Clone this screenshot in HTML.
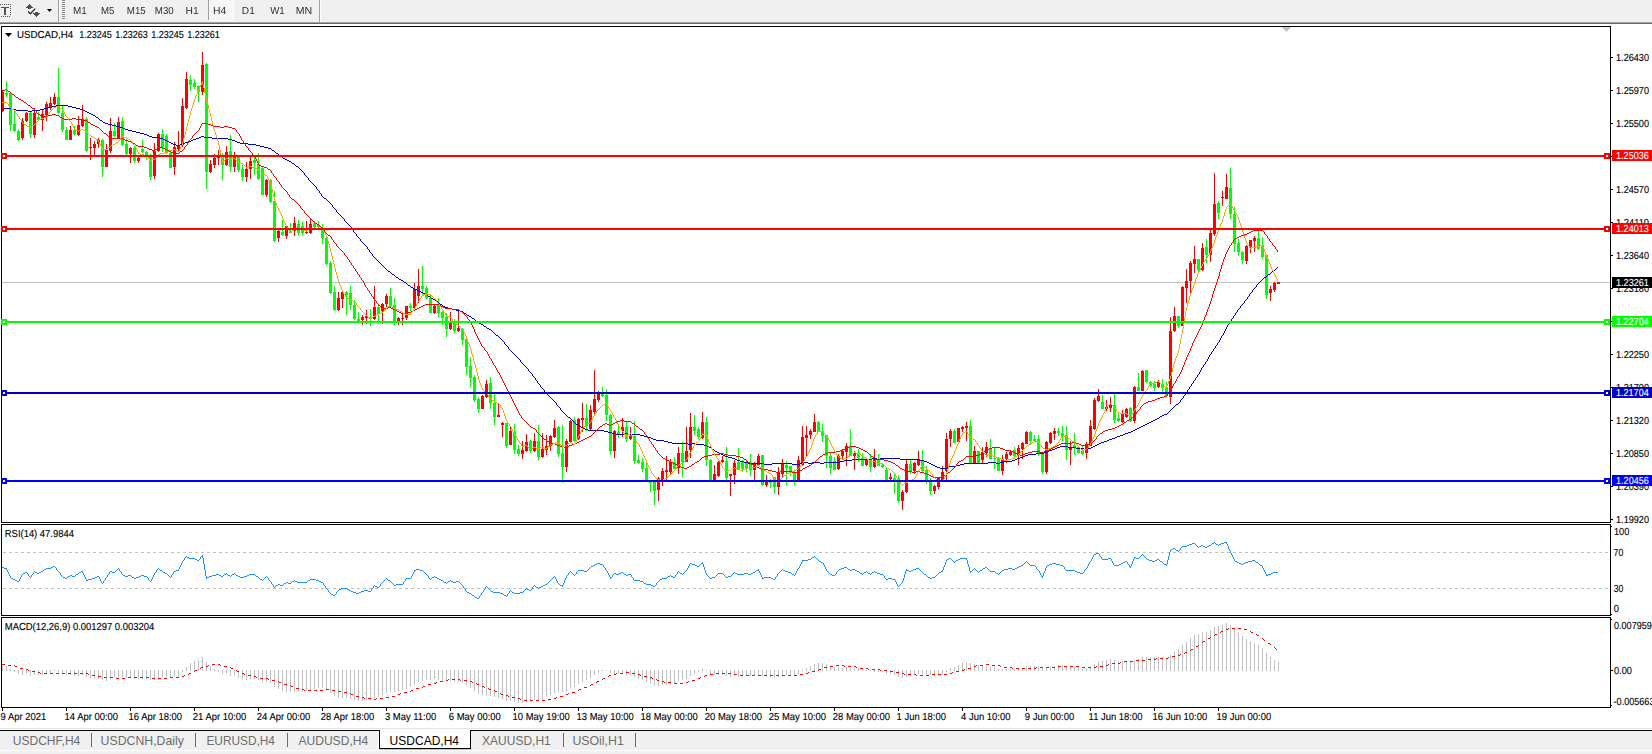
<!DOCTYPE html>
<html><head><meta charset="utf-8"><title>USDCAD,H4</title>
<style>
html,body{margin:0;padding:0;width:1652px;height:754px;overflow:hidden;background:#fff}
svg{position:absolute;left:0;top:0;display:block}
text{font-family:"Liberation Sans", "DejaVu Sans", sans-serif;white-space:pre}
</style></head><body>
<svg width="1652" height="754" viewBox="0 0 1652 754" shape-rendering="crispEdges">
<rect x="0" y="0" width="1652" height="754" fill="#fff"/>
<rect x="0" y="0" width="1652" height="22" fill="#f0f0f0"/><rect x="0" y="22" width="1652" height="1" fill="#a3a3a3"/><rect x="0" y="23" width="1652" height="1" fill="#6a6a6a"/><rect x="0" y="4" width="1" height="1" fill="#505050"/><rect x="2" y="4" width="1" height="1" fill="#505050"/><rect x="4" y="4" width="1" height="1" fill="#505050"/><rect x="6" y="4" width="1" height="1" fill="#505050"/><rect x="8" y="4" width="1" height="1" fill="#505050"/><rect x="10" y="4" width="1" height="1" fill="#505050"/><rect x="10" y="4" width="1" height="1" fill="#505050"/><rect x="10" y="6" width="1" height="1" fill="#505050"/><rect x="10" y="8" width="1" height="1" fill="#505050"/><rect x="10" y="10" width="1" height="1" fill="#505050"/><rect x="10" y="12" width="1" height="1" fill="#505050"/><rect x="10" y="14" width="1" height="1" fill="#505050"/><rect x="1" y="16" width="1" height="1" fill="#505050"/><rect x="3" y="16" width="1" height="1" fill="#505050"/><rect x="5" y="16" width="1" height="1" fill="#505050"/><rect x="7" y="16" width="1" height="1" fill="#505050"/><rect x="9" y="16" width="1" height="1" fill="#505050"/><rect x="1" y="7" width="8" height="1" fill="#555"/><rect x="4" y="7" width="2" height="8" fill="#555"/><path d="M26,8 L29.5,4 L33,8 Z" fill="#505050"/><rect x="28" y="7" width="3" height="2" fill="#505050"/><path d="M33,13 L40,13 L36.5,17 Z" fill="#505050"/><rect x="35" y="12" width="3" height="2" fill="#505050"/><path d="M28,11.6 L30.4,13.8 L35.2,8.6" fill="none" stroke="#2a2a2a" stroke-width="1.3" shape-rendering="auto"/><path d="M47,9 L52,9 L49.5,12 Z" fill="#000" shape-rendering="auto"/><rect x="58" y="0" width="1" height="22" fill="#a0a0a0"/><rect x="59" y="0" width="1" height="22" fill="#fdfdfd"/><rect x="62" y="0" width="3" height="1" fill="#8c8c8c"/><rect x="62" y="2" width="3" height="1" fill="#8c8c8c"/><rect x="62" y="4" width="3" height="1" fill="#8c8c8c"/><rect x="62" y="6" width="3" height="1" fill="#8c8c8c"/><rect x="62" y="8" width="3" height="1" fill="#8c8c8c"/><rect x="62" y="10" width="3" height="1" fill="#8c8c8c"/><rect x="62" y="12" width="3" height="1" fill="#8c8c8c"/><rect x="62" y="14" width="3" height="1" fill="#8c8c8c"/><rect x="62" y="16" width="3" height="1" fill="#8c8c8c"/><rect x="62" y="18" width="3" height="1" fill="#8c8c8c"/><defs><pattern id="chk" width="2" height="2" patternUnits="userSpaceOnUse"><rect width="2" height="2" fill="#f0f0f0"/><rect width="1" height="1" fill="#fbfbfb"/><rect x="1" y="1" width="1" height="1" fill="#fbfbfb"/></pattern></defs><rect x="209" y="0" width="24" height="20" fill="url(#chk)"/><rect x="233" y="0" width="1" height="21" fill="#fdfdfd"/><rect x="208" y="20" width="26" height="1" fill="#fdfdfd"/><rect x="208" y="0" width="1" height="20" fill="#a0a0a0"/><rect x="319" y="0" width="1" height="22" fill="#a0a0a0"/><rect x="320" y="0" width="1" height="22" fill="#fdfdfd"/><defs><filter id="gs" x="0" y="0" width="1" height="1"><feOffset dx="0" dy="0"/></filter></defs><g filter="url(#gs)"><text transform="translate(72.95,14) scale(0.9725,1.0)" font-size="10.2" fill="#303030" text-rendering="geometricPrecision">M1</text><text transform="translate(100.97,14) scale(0.9476,1.0)" font-size="10.2" fill="#303030" text-rendering="geometricPrecision">M5</text><text transform="translate(126.87,14) scale(0.9514,1.0)" font-size="10.2" fill="#303030" text-rendering="geometricPrecision">M15</text><text transform="translate(154.76,14) scale(0.9568,1.0)" font-size="10.2" fill="#303030" text-rendering="geometricPrecision">M30</text><text transform="translate(185.62,14) scale(1.0065,1.0)" font-size="10.2" fill="#303030" text-rendering="geometricPrecision">H1</text><text transform="translate(212.91,14) scale(1.0189,1.0)" font-size="10.2" fill="#303030" text-rendering="geometricPrecision">H4</text><text transform="translate(241.83,14) scale(0.9978,1.0)" font-size="10.2" fill="#303030" text-rendering="geometricPrecision">D1</text><text transform="translate(270.28,14) scale(0.9436,1.0)" font-size="10.2" fill="#303030" text-rendering="geometricPrecision">W1</text><text transform="translate(295.79,14) scale(1.0407,1.0)" font-size="10.2" fill="#303030" text-rendering="geometricPrecision">MN</text></g><rect x="1" y="26" width="1610" height="1" fill="#000"/><rect x="1" y="522" width="1610" height="1" fill="#000"/><rect x="1" y="26" width="1" height="497" fill="#000"/><rect x="1610" y="26" width="1" height="497" fill="#000"/><rect x="1" y="524" width="1610" height="1" fill="#000"/><rect x="1" y="615" width="1610" height="1" fill="#000"/><rect x="1" y="524" width="1" height="92" fill="#000"/><rect x="1610" y="524" width="1" height="92" fill="#000"/><rect x="1" y="617" width="1610" height="1" fill="#000"/><rect x="1" y="707" width="1610" height="1" fill="#000"/><rect x="1" y="617" width="1" height="91" fill="#000"/><rect x="1610" y="617" width="1" height="91" fill="#000"/><path d="M1282,27 L1291,27 L1286.5,32 Z" fill="#c0c0c0" shape-rendering="auto"/><rect x="1611" y="57" width="2" height="1" fill="#000"/><text transform="translate(1616.03,61) scale(0.8954,1.0)" font-size="10.2" fill="#000" stroke="#000" stroke-width="0.12" text-rendering="geometricPrecision">1.26430</text><rect x="1611" y="90" width="2" height="1" fill="#000"/><text transform="translate(1616.03,94) scale(0.8954,1.0)" font-size="10.2" fill="#000" stroke="#000" stroke-width="0.12" text-rendering="geometricPrecision">1.25970</text><rect x="1611" y="123" width="2" height="1" fill="#000"/><text transform="translate(1616.03,127) scale(0.8954,1.0)" font-size="10.2" fill="#000" stroke="#000" stroke-width="0.12" text-rendering="geometricPrecision">1.25500</text><rect x="1611" y="156" width="2" height="1" fill="#000"/><text transform="translate(1616.03,160) scale(0.8954,1.0)" font-size="10.2" fill="#000" stroke="#000" stroke-width="0.12" text-rendering="geometricPrecision">1.25040</text><rect x="1611" y="189" width="2" height="1" fill="#000"/><text transform="translate(1616.03,193) scale(0.8954,1.0)" font-size="10.2" fill="#000" stroke="#000" stroke-width="0.12" text-rendering="geometricPrecision">1.24570</text><rect x="1611" y="222" width="2" height="1" fill="#000"/><text transform="translate(1616.01,226) scale(0.9147,1.0)" font-size="10.2" fill="#000" stroke="#000" stroke-width="0.12" text-rendering="geometricPrecision">1.24110</text><rect x="1611" y="255" width="2" height="1" fill="#000"/><text transform="translate(1616.03,259) scale(0.8954,1.0)" font-size="10.2" fill="#000" stroke="#000" stroke-width="0.12" text-rendering="geometricPrecision">1.23640</text><rect x="1611" y="288" width="2" height="1" fill="#000"/><text transform="translate(1616.03,292) scale(0.8954,1.0)" font-size="10.2" fill="#000" stroke="#000" stroke-width="0.12" text-rendering="geometricPrecision">1.23180</text><rect x="1611" y="321" width="2" height="1" fill="#000"/><text transform="translate(1616.03,325) scale(0.8954,1.0)" font-size="10.2" fill="#000" stroke="#000" stroke-width="0.12" text-rendering="geometricPrecision">1.22720</text><rect x="1611" y="354" width="2" height="1" fill="#000"/><text transform="translate(1616.03,358) scale(0.8954,1.0)" font-size="10.2" fill="#000" stroke="#000" stroke-width="0.12" text-rendering="geometricPrecision">1.22250</text><rect x="1611" y="387" width="2" height="1" fill="#000"/><text transform="translate(1616.03,391) scale(0.8954,1.0)" font-size="10.2" fill="#000" stroke="#000" stroke-width="0.12" text-rendering="geometricPrecision">1.21790</text><rect x="1611" y="420" width="2" height="1" fill="#000"/><text transform="translate(1616.03,424) scale(0.8954,1.0)" font-size="10.2" fill="#000" stroke="#000" stroke-width="0.12" text-rendering="geometricPrecision">1.21320</text><rect x="1611" y="453" width="2" height="1" fill="#000"/><text transform="translate(1616.03,457) scale(0.8954,1.0)" font-size="10.2" fill="#000" stroke="#000" stroke-width="0.12" text-rendering="geometricPrecision">1.20850</text><rect x="1611" y="486" width="2" height="1" fill="#000"/><text transform="translate(1616.03,490) scale(0.8954,1.0)" font-size="10.2" fill="#000" stroke="#000" stroke-width="0.12" text-rendering="geometricPrecision">1.20390</text><rect x="1611" y="519" width="2" height="1" fill="#000"/><text transform="translate(1616.03,523) scale(0.8954,1.0)" font-size="10.2" fill="#000" stroke="#000" stroke-width="0.12" text-rendering="geometricPrecision">1.19920</text>
<g id="rsi"><text transform="translate(4.79,537) scale(0.9250,1.0)" font-size="10.2" fill="#000" stroke="#000" stroke-width="0.12" text-rendering="geometricPrecision">RSI(14) 47.9844</text><line x1="3" y1="552.5" x2="1608" y2="552.5" stroke="#c0c0c0" stroke-width="1" stroke-dasharray="3,3"/><line x1="3" y1="588.5" x2="1608" y2="588.5" stroke="#c0c0c0" stroke-width="1" stroke-dasharray="3,3"/><path fill="#1e90ff" d="M2 567h1v1h-1zM3 567h1v1h-1zM4 568h1v1h-1zM5 568h1v1h-1zM6 568h1v2h-1zM7 570h1v2h-1zM8 572h1v2h-1zM9 574h1v2h-1zM10 576h1v2h-1zM11 578h1v1h-1zM12 578h1v1h-1zM13 579h1v1h-1zM14 579h1v1h-1zM15 580h1v1h-1zM16 580h1v1h-1zM17 581h1v1h-1zM18 581h1v1h-1zM19 579h1v2h-1zM20 577h1v2h-1zM21 575h1v2h-1zM22 574h1v1h-1zM23 573h1v1h-1zM24 573h1v1h-1zM25 572h1v1h-1zM26 572h1v1h-1zM27 573h1v1h-1zM28 574h1v2h-1zM29 576h1v1h-1zM30 577h1v1h-1zM31 575h1v2h-1zM32 574h1v1h-1zM33 572h1v2h-1zM34 571h1v1h-1zM35 572h1v1h-1zM36 572h1v1h-1zM37 573h1v1h-1zM38 573h1v1h-1zM39 572h1v1h-1zM40 572h1v1h-1zM41 571h1v1h-1zM42 571h1v1h-1zM43 570h1v1h-1zM44 569h1v1h-1zM45 569h1v1h-1zM46 568h1v1h-1zM47 568h1v1h-1zM48 568h1v1h-1zM49 568h1v1h-1zM50 568h1v1h-1zM51 567h1v1h-1zM52 567h1v1h-1zM53 566h1v1h-1zM54 566h1v1h-1zM55 567h1v1h-1zM56 568h1v2h-1zM57 570h1v1h-1zM58 571h1v1h-1zM59 572h1v1h-1zM60 573h1v2h-1zM61 575h1v1h-1zM62 576h1v1h-1zM63 577h1v1h-1zM64 577h1v1h-1zM65 578h1v1h-1zM66 578h1v1h-1zM67 577h1v1h-1zM68 576h1v1h-1zM69 576h1v1h-1zM70 575h1v1h-1zM71 575h1v1h-1zM72 576h1v1h-1zM73 576h1v1h-1zM74 576h1v1h-1zM75 575h1v1h-1zM76 574h1v1h-1zM77 574h1v1h-1zM78 573h1v1h-1zM79 572h1v1h-1zM80 572h1v1h-1zM81 571h1v1h-1zM82 571h1v2h-1zM83 573h1v2h-1zM84 575h1v2h-1zM85 577h1v2h-1zM86 579h1v2h-1zM87 580h1v1h-1zM88 579h1v1h-1zM89 579h1v1h-1zM90 579h1v1h-1zM91 579h1v1h-1zM92 578h1v1h-1zM93 578h1v1h-1zM94 578h1v1h-1zM95 577h1v1h-1zM96 577h1v1h-1zM97 576h1v1h-1zM98 576h1v1h-1zM99 577h1v2h-1zM100 579h1v2h-1zM101 581h1v2h-1zM102 583h1v1h-1zM103 581h1v2h-1zM104 580h1v1h-1zM105 578h1v2h-1zM106 577h1v1h-1zM107 575h1v2h-1zM108 574h1v1h-1zM109 572h1v2h-1zM110 571h1v1h-1zM111 571h1v1h-1zM112 572h1v1h-1zM113 572h1v1h-1zM114 572h1v1h-1zM115 571h1v1h-1zM116 570h1v1h-1zM117 569h1v1h-1zM118 568h1v1h-1zM119 569h1v2h-1zM120 571h1v1h-1zM121 572h1v2h-1zM122 574h1v1h-1zM123 575h1v1h-1zM124 575h1v1h-1zM125 576h1v1h-1zM126 576h1v1h-1zM127 576h1v1h-1zM128 575h1v1h-1zM129 575h1v1h-1zM130 575h1v1h-1zM131 576h1v1h-1zM132 577h1v1h-1zM133 577h1v1h-1zM134 578h1v1h-1zM135 578h1v1h-1zM136 577h1v1h-1zM137 577h1v1h-1zM138 577h1v1h-1zM139 576h1v1h-1zM140 576h1v1h-1zM141 575h1v1h-1zM142 575h1v1h-1zM143 575h1v1h-1zM144 576h1v1h-1zM145 576h1v1h-1zM146 576h1v1h-1zM147 577h1v1h-1zM148 578h1v2h-1zM149 580h1v1h-1zM150 581h1v1h-1zM151 579h1v2h-1zM152 577h1v2h-1zM153 575h1v2h-1zM154 573h1v2h-1zM155 572h1v1h-1zM156 570h1v2h-1zM157 569h1v1h-1zM158 568h1v1h-1zM159 569h1v1h-1zM160 570h1v1h-1zM161 570h1v1h-1zM162 571h1v1h-1zM163 572h1v1h-1zM164 572h1v1h-1zM165 573h1v1h-1zM166 573h1v1h-1zM167 574h1v1h-1zM168 575h1v1h-1zM169 576h1v1h-1zM170 577h1v1h-1zM171 575h1v2h-1zM172 574h1v1h-1zM173 572h1v2h-1zM174 571h1v1h-1zM175 571h1v1h-1zM176 570h1v1h-1zM177 570h1v1h-1zM178 569h1v2h-1zM179 567h1v2h-1zM180 565h1v2h-1zM181 563h1v2h-1zM182 561h1v2h-1zM183 560h1v1h-1zM184 558h1v2h-1zM185 557h1v1h-1zM186 556h1v1h-1zM187 557h1v1h-1zM188 557h1v1h-1zM189 558h1v1h-1zM190 558h1v1h-1zM191 558h1v1h-1zM192 558h1v1h-1zM193 558h1v1h-1zM194 558h1v1h-1zM195 559h1v1h-1zM196 559h1v1h-1zM197 560h1v1h-1zM198 560h1v1h-1zM199 559h1v1h-1zM200 557h1v2h-1zM201 556h1v1h-1zM202 555h1v3h-1zM203 558h1v6h-1zM204 564h1v6h-1zM205 570h1v6h-1zM206 576h1v3h-1zM207 577h1v1h-1zM208 577h1v1h-1zM209 576h1v1h-1zM210 576h1v1h-1zM211 576h1v1h-1zM212 575h1v1h-1zM213 575h1v1h-1zM214 575h1v1h-1zM215 575h1v1h-1zM216 574h1v1h-1zM217 574h1v1h-1zM218 574h1v1h-1zM219 575h1v1h-1zM220 575h1v1h-1zM221 576h1v1h-1zM222 576h1v1h-1zM223 575h1v1h-1zM224 574h1v1h-1zM225 574h1v1h-1zM226 573h1v1h-1zM227 574h1v1h-1zM228 575h1v1h-1zM229 575h1v1h-1zM230 576h1v1h-1zM231 575h1v1h-1zM232 574h1v1h-1zM233 574h1v1h-1zM234 573h1v1h-1zM235 574h1v1h-1zM236 575h1v1h-1zM237 575h1v1h-1zM238 576h1v1h-1zM239 576h1v1h-1zM240 577h1v1h-1zM241 577h1v1h-1zM242 577h1v1h-1zM243 577h1v1h-1zM244 576h1v1h-1zM245 576h1v1h-1zM246 576h1v1h-1zM247 575h1v1h-1zM248 575h1v1h-1zM249 574h1v1h-1zM250 574h1v1h-1zM251 574h1v1h-1zM252 574h1v1h-1zM253 574h1v1h-1zM254 574h1v1h-1zM255 575h1v1h-1zM256 576h1v1h-1zM257 576h1v1h-1zM258 577h1v1h-1zM259 578h1v1h-1zM260 579h1v1h-1zM261 579h1v1h-1zM262 580h1v1h-1zM263 579h1v1h-1zM264 578h1v1h-1zM265 577h1v1h-1zM266 576h1v1h-1zM267 577h1v1h-1zM268 578h1v2h-1zM269 580h1v1h-1zM270 581h1v1h-1zM271 582h1v2h-1zM272 584h1v1h-1zM273 585h1v2h-1zM274 587h1v1h-1zM275 586h1v1h-1zM276 585h1v1h-1zM277 585h1v1h-1zM278 584h1v1h-1zM279 584h1v1h-1zM280 585h1v1h-1zM281 585h1v1h-1zM282 585h1v1h-1zM283 584h1v1h-1zM284 583h1v1h-1zM285 583h1v1h-1zM286 582h1v1h-1zM287 582h1v1h-1zM288 583h1v1h-1zM289 583h1v1h-1zM290 583h1v1h-1zM291 582h1v1h-1zM292 581h1v1h-1zM293 581h1v1h-1zM294 580h1v1h-1zM295 581h1v1h-1zM296 581h1v1h-1zM297 582h1v1h-1zM298 582h1v1h-1zM299 582h1v1h-1zM300 582h1v1h-1zM301 582h1v1h-1zM302 582h1v1h-1zM303 582h1v1h-1zM304 582h1v1h-1zM305 582h1v1h-1zM306 582h1v1h-1zM307 581h1v1h-1zM308 580h1v1h-1zM309 580h1v1h-1zM310 579h1v1h-1zM311 579h1v1h-1zM312 579h1v1h-1zM313 579h1v1h-1zM314 579h1v1h-1zM315 579h1v1h-1zM316 580h1v1h-1zM317 580h1v1h-1zM318 580h1v1h-1zM319 581h1v1h-1zM320 581h1v1h-1zM321 582h1v1h-1zM322 582h1v1h-1zM323 583h1v2h-1zM324 585h1v1h-1zM325 586h1v2h-1zM326 588h1v1h-1zM327 589h1v1h-1zM328 590h1v2h-1zM329 592h1v1h-1zM330 593h1v1h-1zM331 594h1v1h-1zM332 594h1v1h-1zM333 595h1v1h-1zM334 595h1v1h-1zM335 594h1v1h-1zM336 592h1v2h-1zM337 591h1v1h-1zM338 590h1v1h-1zM339 589h1v1h-1zM340 589h1v1h-1zM341 588h1v1h-1zM342 588h1v1h-1zM343 588h1v1h-1zM344 588h1v1h-1zM345 588h1v1h-1zM346 588h1v1h-1zM347 589h1v1h-1zM348 589h1v1h-1zM349 590h1v1h-1zM350 590h1v1h-1zM351 591h1v1h-1zM352 591h1v1h-1zM353 592h1v1h-1zM354 592h1v1h-1zM355 592h1v1h-1zM356 593h1v1h-1zM357 593h1v1h-1zM358 593h1v1h-1zM359 592h1v1h-1zM360 592h1v1h-1zM361 591h1v1h-1zM362 591h1v1h-1zM363 591h1v1h-1zM364 590h1v1h-1zM365 590h1v1h-1zM366 590h1v1h-1zM367 590h1v1h-1zM368 591h1v1h-1zM369 591h1v1h-1zM370 591h1v1h-1zM371 589h1v2h-1zM372 588h1v1h-1zM373 586h1v2h-1zM374 585h1v1h-1zM375 586h1v1h-1zM376 586h1v1h-1zM377 587h1v1h-1zM378 587h1v1h-1zM379 586h1v1h-1zM380 584h1v2h-1zM381 583h1v1h-1zM382 582h1v1h-1zM383 581h1v1h-1zM384 580h1v1h-1zM385 579h1v1h-1zM386 578h1v1h-1zM387 579h1v1h-1zM388 580h1v1h-1zM389 580h1v1h-1zM390 581h1v1h-1zM391 582h1v1h-1zM392 583h1v1h-1zM393 584h1v1h-1zM394 585h1v1h-1zM395 585h1v1h-1zM396 584h1v1h-1zM397 584h1v1h-1zM398 584h1v1h-1zM399 584h1v1h-1zM400 584h1v1h-1zM401 584h1v1h-1zM402 584h1v1h-1zM403 582h1v2h-1zM404 581h1v1h-1zM405 579h1v2h-1zM406 578h1v1h-1zM407 578h1v1h-1zM408 578h1v1h-1zM409 578h1v1h-1zM410 578h1v1h-1zM411 576h1v2h-1zM412 574h1v2h-1zM413 572h1v2h-1zM414 570h1v2h-1zM415 570h1v1h-1zM416 569h1v1h-1zM417 569h1v1h-1zM418 569h1v1h-1zM419 569h1v1h-1zM420 570h1v1h-1zM421 570h1v1h-1zM422 570h1v1h-1zM423 571h1v1h-1zM424 572h1v1h-1zM425 573h1v1h-1zM426 574h1v1h-1zM427 575h1v1h-1zM428 576h1v2h-1zM429 578h1v1h-1zM430 579h1v1h-1zM431 578h1v1h-1zM432 577h1v1h-1zM433 577h1v1h-1zM434 576h1v1h-1zM435 577h1v1h-1zM436 577h1v1h-1zM437 578h1v1h-1zM438 578h1v1h-1zM439 579h1v1h-1zM440 579h1v1h-1zM441 580h1v1h-1zM442 580h1v1h-1zM443 581h1v1h-1zM444 582h1v1h-1zM445 582h1v1h-1zM446 583h1v1h-1zM447 582h1v1h-1zM448 581h1v1h-1zM449 581h1v1h-1zM450 580h1v1h-1zM451 581h1v1h-1zM452 581h1v1h-1zM453 582h1v1h-1zM454 582h1v1h-1zM455 582h1v1h-1zM456 581h1v1h-1zM457 581h1v1h-1zM458 581h1v1h-1zM459 582h1v1h-1zM460 583h1v1h-1zM461 584h1v1h-1zM462 585h1v1h-1zM463 586h1v2h-1zM464 588h1v1h-1zM465 589h1v2h-1zM466 591h1v1h-1zM467 592h1v1h-1zM468 592h1v1h-1zM469 593h1v1h-1zM470 593h1v1h-1zM471 594h1v1h-1zM472 595h1v1h-1zM473 595h1v1h-1zM474 596h1v1h-1zM475 597h1v1h-1zM476 597h1v1h-1zM477 598h1v1h-1zM478 598h1v1h-1zM479 596h1v2h-1zM480 595h1v1h-1zM481 593h1v2h-1zM482 592h1v1h-1zM483 590h1v2h-1zM484 589h1v1h-1zM485 587h1v2h-1zM486 586h1v1h-1zM487 587h1v1h-1zM488 588h1v1h-1zM489 589h1v1h-1zM490 590h1v1h-1zM491 591h1v1h-1zM492 591h1v1h-1zM493 592h1v1h-1zM494 592h1v1h-1zM495 592h1v1h-1zM496 592h1v1h-1zM497 592h1v1h-1zM498 592h1v1h-1zM499 592h1v1h-1zM500 593h1v1h-1zM501 593h1v1h-1zM502 593h1v1h-1zM503 594h1v1h-1zM504 595h1v1h-1zM505 595h1v1h-1zM506 596h1v1h-1zM507 594h1v2h-1zM508 593h1v1h-1zM509 591h1v2h-1zM510 590h1v1h-1zM511 591h1v1h-1zM512 592h1v1h-1zM513 592h1v1h-1zM514 593h1v1h-1zM515 593h1v1h-1zM516 593h1v1h-1zM517 593h1v1h-1zM518 593h1v1h-1zM519 593h1v1h-1zM520 592h1v1h-1zM521 592h1v1h-1zM522 592h1v1h-1zM523 591h1v1h-1zM524 590h1v1h-1zM525 589h1v1h-1zM526 588h1v1h-1zM527 589h1v1h-1zM528 589h1v1h-1zM529 590h1v1h-1zM530 590h1v1h-1zM531 589h1v1h-1zM532 587h1v2h-1zM533 586h1v1h-1zM534 585h1v1h-1zM535 586h1v1h-1zM536 587h1v1h-1zM537 587h1v1h-1zM538 588h1v1h-1zM539 587h1v1h-1zM540 587h1v1h-1zM541 586h1v1h-1zM542 586h1v1h-1zM543 585h1v1h-1zM544 585h1v1h-1zM545 584h1v1h-1zM546 584h1v1h-1zM547 583h1v1h-1zM548 582h1v1h-1zM549 581h1v1h-1zM550 580h1v1h-1zM551 579h1v1h-1zM552 578h1v1h-1zM553 577h1v1h-1zM554 576h1v1h-1zM555 577h1v2h-1zM556 579h1v2h-1zM557 581h1v2h-1zM558 583h1v1h-1zM559 584h1v1h-1zM560 585h1v1h-1zM561 585h1v1h-1zM562 585h1v2h-1zM563 583h1v2h-1zM564 580h1v3h-1zM565 578h1v2h-1zM566 576h1v2h-1zM567 575h1v1h-1zM568 573h1v2h-1zM569 572h1v1h-1zM570 571h1v1h-1zM571 572h1v1h-1zM572 573h1v1h-1zM573 574h1v1h-1zM574 575h1v1h-1zM575 574h1v1h-1zM576 572h1v2h-1zM577 571h1v1h-1zM578 570h1v1h-1zM579 570h1v1h-1zM580 570h1v1h-1zM581 570h1v1h-1zM582 570h1v1h-1zM583 570h1v1h-1zM584 571h1v1h-1zM585 571h1v1h-1zM586 571h1v1h-1zM587 570h1v1h-1zM588 569h1v1h-1zM589 568h1v1h-1zM590 567h1v1h-1zM591 566h1v1h-1zM592 566h1v1h-1zM593 565h1v1h-1zM594 565h1v1h-1zM595 564h1v1h-1zM596 564h1v1h-1zM597 563h1v1h-1zM598 563h1v1h-1zM599 563h1v1h-1zM600 564h1v1h-1zM601 564h1v1h-1zM602 564h1v1h-1zM603 565h1v2h-1zM604 567h1v1h-1zM605 568h1v2h-1zM606 570h1v1h-1zM607 571h1v2h-1zM608 573h1v2h-1zM609 575h1v2h-1zM610 577h1v2h-1zM611 577h1v1h-1zM612 575h1v2h-1zM613 574h1v1h-1zM614 573h1v1h-1zM615 573h1v1h-1zM616 574h1v1h-1zM617 574h1v1h-1zM618 574h1v1h-1zM619 573h1v1h-1zM620 573h1v1h-1zM621 572h1v1h-1zM622 572h1v1h-1zM623 573h1v1h-1zM624 574h1v1h-1zM625 574h1v1h-1zM626 575h1v1h-1zM627 575h1v1h-1zM628 574h1v1h-1zM629 574h1v1h-1zM630 574h1v1h-1zM631 575h1v2h-1zM632 577h1v1h-1zM633 578h1v2h-1zM634 580h1v1h-1zM635 580h1v1h-1zM636 580h1v1h-1zM637 580h1v1h-1zM638 580h1v1h-1zM639 580h1v1h-1zM640 581h1v1h-1zM641 581h1v1h-1zM642 581h1v1h-1zM643 582h1v1h-1zM644 583h1v1h-1zM645 583h1v1h-1zM646 584h1v1h-1zM647 584h1v1h-1zM648 584h1v1h-1zM649 584h1v1h-1zM650 584h1v1h-1zM651 585h1v1h-1zM652 585h1v1h-1zM653 586h1v1h-1zM654 586h1v1h-1zM655 585h1v1h-1zM656 583h1v2h-1zM657 582h1v1h-1zM658 581h1v1h-1zM659 580h1v1h-1zM660 579h1v1h-1zM661 579h1v1h-1zM662 578h1v1h-1zM663 578h1v1h-1zM664 578h1v1h-1zM665 578h1v1h-1zM666 578h1v1h-1zM667 577h1v1h-1zM668 576h1v1h-1zM669 576h1v1h-1zM670 575h1v1h-1zM671 576h1v1h-1zM672 576h1v1h-1zM673 577h1v1h-1zM674 577h1v1h-1zM675 575h1v2h-1zM676 574h1v1h-1zM677 572h1v2h-1zM678 571h1v1h-1zM679 572h1v1h-1zM680 573h1v1h-1zM681 573h1v1h-1zM682 574h1v1h-1zM683 573h1v1h-1zM684 572h1v1h-1zM685 571h1v1h-1zM686 570h1v1h-1zM687 568h1v2h-1zM688 566h1v2h-1zM689 564h1v2h-1zM690 563h1v1h-1zM691 563h1v1h-1zM692 564h1v1h-1zM693 564h1v1h-1zM694 564h1v1h-1zM695 565h1v1h-1zM696 565h1v1h-1zM697 566h1v1h-1zM698 566h1v1h-1zM699 565h1v1h-1zM700 564h1v1h-1zM701 563h1v1h-1zM702 562h1v2h-1zM703 564h1v3h-1zM704 567h1v3h-1zM705 570h1v3h-1zM706 573h1v2h-1zM707 575h1v1h-1zM708 576h1v1h-1zM709 577h1v1h-1zM710 578h1v1h-1zM711 578h1v1h-1zM712 577h1v1h-1zM713 577h1v1h-1zM714 577h1v1h-1zM715 576h1v1h-1zM716 575h1v1h-1zM717 574h1v1h-1zM718 573h1v1h-1zM719 573h1v1h-1zM720 573h1v1h-1zM721 573h1v1h-1zM722 573h1v1h-1zM723 574h1v1h-1zM724 575h1v1h-1zM725 576h1v1h-1zM726 577h1v1h-1zM727 577h1v1h-1zM728 576h1v1h-1zM729 576h1v1h-1zM730 576h1v1h-1zM731 575h1v1h-1zM732 574h1v1h-1zM733 573h1v1h-1zM734 572h1v1h-1zM735 573h1v1h-1zM736 573h1v1h-1zM737 574h1v1h-1zM738 574h1v1h-1zM739 574h1v1h-1zM740 574h1v1h-1zM741 574h1v1h-1zM742 574h1v1h-1zM743 574h1v1h-1zM744 573h1v1h-1zM745 573h1v1h-1zM746 573h1v1h-1zM747 573h1v1h-1zM748 574h1v1h-1zM749 574h1v1h-1zM750 574h1v1h-1zM751 573h1v1h-1zM752 573h1v1h-1zM753 572h1v1h-1zM754 572h1v1h-1zM755 571h1v1h-1zM756 570h1v1h-1zM757 570h1v1h-1zM758 569h1v2h-1zM759 571h1v2h-1zM760 573h1v2h-1zM761 575h1v2h-1zM762 577h1v2h-1zM763 578h1v1h-1zM764 577h1v1h-1zM765 577h1v1h-1zM766 577h1v1h-1zM767 577h1v1h-1zM768 577h1v1h-1zM769 577h1v1h-1zM770 577h1v1h-1zM771 578h1v1h-1zM772 578h1v1h-1zM773 579h1v1h-1zM774 579h1v1h-1zM775 577h1v2h-1zM776 576h1v1h-1zM777 574h1v2h-1zM778 573h1v1h-1zM779 572h1v1h-1zM780 571h1v1h-1zM781 570h1v1h-1zM782 569h1v1h-1zM783 570h1v1h-1zM784 570h1v1h-1zM785 571h1v1h-1zM786 571h1v1h-1zM787 571h1v1h-1zM788 572h1v1h-1zM789 572h1v1h-1zM790 572h1v1h-1zM791 573h1v1h-1zM792 574h1v1h-1zM793 574h1v1h-1zM794 575h1v1h-1zM795 573h1v2h-1zM796 571h1v2h-1zM797 569h1v2h-1zM798 568h1v1h-1zM799 566h1v2h-1zM800 564h1v2h-1zM801 562h1v2h-1zM802 560h1v2h-1zM803 560h1v1h-1zM804 560h1v1h-1zM805 560h1v1h-1zM806 560h1v1h-1zM807 560h1v1h-1zM808 559h1v1h-1zM809 559h1v1h-1zM810 559h1v1h-1zM811 558h1v1h-1zM812 557h1v1h-1zM813 557h1v1h-1zM814 556h1v1h-1zM815 557h1v1h-1zM816 558h1v1h-1zM817 559h1v1h-1zM818 560h1v1h-1zM819 561h1v1h-1zM820 561h1v1h-1zM821 562h1v1h-1zM822 562h1v1h-1zM823 563h1v2h-1zM824 565h1v2h-1zM825 567h1v2h-1zM826 569h1v2h-1zM827 571h1v1h-1zM828 572h1v1h-1zM829 573h1v1h-1zM830 574h1v1h-1zM831 574h1v1h-1zM832 575h1v1h-1zM833 575h1v1h-1zM834 575h1v1h-1zM835 574h1v1h-1zM836 572h1v2h-1zM837 571h1v1h-1zM838 570h1v1h-1zM839 569h1v1h-1zM840 569h1v1h-1zM841 568h1v1h-1zM842 568h1v1h-1zM843 568h1v1h-1zM844 567h1v1h-1zM845 567h1v1h-1zM846 567h1v1h-1zM847 568h1v1h-1zM848 569h1v1h-1zM849 569h1v1h-1zM850 570h1v1h-1zM851 570h1v1h-1zM852 569h1v1h-1zM853 569h1v1h-1zM854 569h1v1h-1zM855 570h1v1h-1zM856 570h1v1h-1zM857 571h1v1h-1zM858 571h1v1h-1zM859 572h1v1h-1zM860 573h1v1h-1zM861 573h1v1h-1zM862 574h1v1h-1zM863 573h1v1h-1zM864 572h1v1h-1zM865 572h1v1h-1zM866 571h1v1h-1zM867 572h1v1h-1zM868 573h1v1h-1zM869 573h1v1h-1zM870 574h1v1h-1zM871 573h1v1h-1zM872 572h1v1h-1zM873 572h1v1h-1zM874 571h1v1h-1zM875 572h1v1h-1zM876 572h1v1h-1zM877 573h1v1h-1zM878 573h1v1h-1zM879 573h1v1h-1zM880 574h1v1h-1zM881 574h1v1h-1zM882 574h1v1h-1zM883 575h1v1h-1zM884 576h1v2h-1zM885 578h1v1h-1zM886 579h1v1h-1zM887 579h1v1h-1zM888 578h1v1h-1zM889 578h1v1h-1zM890 578h1v1h-1zM891 578h1v1h-1zM892 579h1v1h-1zM893 579h1v1h-1zM894 579h1v1h-1zM895 580h1v2h-1zM896 582h1v2h-1zM897 584h1v2h-1zM898 586h1v1h-1zM899 585h1v1h-1zM900 584h1v1h-1zM901 583h1v1h-1zM902 581h1v2h-1zM903 578h1v3h-1zM904 574h1v4h-1zM905 571h1v3h-1zM906 569h1v2h-1zM907 570h1v1h-1zM908 570h1v1h-1zM909 571h1v1h-1zM910 571h1v1h-1zM911 570h1v1h-1zM912 570h1v1h-1zM913 569h1v1h-1zM914 569h1v1h-1zM915 569h1v1h-1zM916 568h1v1h-1zM917 568h1v1h-1zM918 568h1v1h-1zM919 569h1v1h-1zM920 570h1v1h-1zM921 571h1v1h-1zM922 572h1v1h-1zM923 573h1v1h-1zM924 574h1v1h-1zM925 574h1v1h-1zM926 575h1v1h-1zM927 576h1v1h-1zM928 577h1v1h-1zM929 577h1v1h-1zM930 578h1v1h-1zM931 578h1v1h-1zM932 577h1v1h-1zM933 577h1v1h-1zM934 577h1v1h-1zM935 576h1v1h-1zM936 575h1v1h-1zM937 574h1v1h-1zM938 573h1v1h-1zM939 572h1v1h-1zM940 572h1v1h-1zM941 571h1v1h-1zM942 570h1v2h-1zM943 567h1v3h-1zM944 565h1v2h-1zM945 562h1v3h-1zM946 560h1v2h-1zM947 559h1v1h-1zM948 559h1v1h-1zM949 558h1v1h-1zM950 558h1v1h-1zM951 559h1v1h-1zM952 560h1v1h-1zM953 561h1v1h-1zM954 562h1v1h-1zM955 561h1v1h-1zM956 560h1v1h-1zM957 560h1v1h-1zM958 559h1v1h-1zM959 559h1v1h-1zM960 558h1v1h-1zM961 558h1v1h-1zM962 558h1v1h-1zM963 558h1v1h-1zM964 558h1v1h-1zM965 558h1v1h-1zM966 558h1v2h-1zM967 560h1v4h-1zM968 564h1v3h-1zM969 567h1v4h-1zM970 571h1v2h-1zM971 571h1v1h-1zM972 570h1v1h-1zM973 569h1v1h-1zM974 568h1v1h-1zM975 569h1v1h-1zM976 570h1v1h-1zM977 571h1v1h-1zM978 572h1v1h-1zM979 571h1v1h-1zM980 570h1v1h-1zM981 570h1v1h-1zM982 569h1v1h-1zM983 568h1v1h-1zM984 568h1v1h-1zM985 567h1v1h-1zM986 567h1v1h-1zM987 568h1v1h-1zM988 569h1v1h-1zM989 570h1v1h-1zM990 571h1v1h-1zM991 571h1v1h-1zM992 571h1v1h-1zM993 571h1v1h-1zM994 571h1v1h-1zM995 572h1v1h-1zM996 573h1v1h-1zM997 573h1v1h-1zM998 574h1v1h-1zM999 573h1v1h-1zM1000 572h1v1h-1zM1001 571h1v1h-1zM1002 570h1v1h-1zM1003 570h1v1h-1zM1004 569h1v1h-1zM1005 569h1v1h-1zM1006 569h1v1h-1zM1007 569h1v1h-1zM1008 568h1v1h-1zM1009 568h1v1h-1zM1010 568h1v1h-1zM1011 568h1v1h-1zM1012 569h1v1h-1zM1013 569h1v1h-1zM1014 569h1v1h-1zM1015 568h1v1h-1zM1016 568h1v1h-1zM1017 567h1v1h-1zM1018 567h1v1h-1zM1019 566h1v1h-1zM1020 566h1v1h-1zM1021 565h1v1h-1zM1022 565h1v1h-1zM1023 564h1v1h-1zM1024 563h1v1h-1zM1025 562h1v1h-1zM1026 561h1v1h-1zM1027 562h1v1h-1zM1028 563h1v1h-1zM1029 564h1v1h-1zM1030 565h1v1h-1zM1031 565h1v1h-1zM1032 565h1v1h-1zM1033 565h1v1h-1zM1034 565h1v1h-1zM1035 566h1v1h-1zM1036 567h1v2h-1zM1037 569h1v1h-1zM1038 570h1v1h-1zM1039 571h1v2h-1zM1040 573h1v2h-1zM1041 575h1v2h-1zM1042 576h1v2h-1zM1043 573h1v3h-1zM1044 571h1v2h-1zM1045 568h1v3h-1zM1046 566h1v2h-1zM1047 565h1v1h-1zM1048 565h1v1h-1zM1049 564h1v1h-1zM1050 564h1v1h-1zM1051 564h1v1h-1zM1052 563h1v1h-1zM1053 563h1v1h-1zM1054 563h1v1h-1zM1055 563h1v1h-1zM1056 564h1v1h-1zM1057 564h1v1h-1zM1058 564h1v1h-1zM1059 564h1v1h-1zM1060 565h1v1h-1zM1061 565h1v1h-1zM1062 565h1v1h-1zM1063 566h1v1h-1zM1064 567h1v2h-1zM1065 569h1v1h-1zM1066 570h1v1h-1zM1067 570h1v1h-1zM1068 570h1v1h-1zM1069 570h1v1h-1zM1070 570h1v1h-1zM1071 570h1v1h-1zM1072 570h1v1h-1zM1073 570h1v1h-1zM1074 570h1v1h-1zM1075 571h1v1h-1zM1076 571h1v1h-1zM1077 572h1v1h-1zM1078 572h1v1h-1zM1079 572h1v1h-1zM1080 573h1v1h-1zM1081 573h1v1h-1zM1082 573h1v1h-1zM1083 572h1v1h-1zM1084 570h1v2h-1zM1085 569h1v1h-1zM1086 568h1v1h-1zM1087 566h1v2h-1zM1088 564h1v2h-1zM1089 562h1v2h-1zM1090 561h1v1h-1zM1091 559h1v2h-1zM1092 557h1v2h-1zM1093 555h1v2h-1zM1094 554h1v1h-1zM1095 554h1v1h-1zM1096 553h1v1h-1zM1097 553h1v1h-1zM1098 553h1v1h-1zM1099 554h1v2h-1zM1100 556h1v1h-1zM1101 557h1v2h-1zM1102 559h1v1h-1zM1103 559h1v1h-1zM1104 559h1v1h-1zM1105 559h1v1h-1zM1106 559h1v1h-1zM1107 559h1v1h-1zM1108 558h1v1h-1zM1109 558h1v1h-1zM1110 558h1v1h-1zM1111 559h1v2h-1zM1112 561h1v2h-1zM1113 563h1v2h-1zM1114 565h1v1h-1zM1115 565h1v1h-1zM1116 565h1v1h-1zM1117 565h1v1h-1zM1118 565h1v1h-1zM1119 564h1v1h-1zM1120 564h1v1h-1zM1121 563h1v1h-1zM1122 563h1v1h-1zM1123 562h1v1h-1zM1124 562h1v1h-1zM1125 561h1v1h-1zM1126 561h1v1h-1zM1127 562h1v2h-1zM1128 564h1v1h-1zM1129 565h1v2h-1zM1130 566h1v2h-1zM1131 564h1v2h-1zM1132 561h1v3h-1zM1133 559h1v2h-1zM1134 557h1v2h-1zM1135 557h1v1h-1zM1136 558h1v1h-1zM1137 558h1v1h-1zM1138 558h1v1h-1zM1139 557h1v1h-1zM1140 556h1v1h-1zM1141 555h1v1h-1zM1142 554h1v1h-1zM1143 555h1v1h-1zM1144 556h1v1h-1zM1145 557h1v1h-1zM1146 558h1v1h-1zM1147 559h1v1h-1zM1148 559h1v1h-1zM1149 560h1v1h-1zM1150 560h1v1h-1zM1151 560h1v1h-1zM1152 561h1v1h-1zM1153 561h1v1h-1zM1154 561h1v1h-1zM1155 560h1v1h-1zM1156 560h1v1h-1zM1157 559h1v1h-1zM1158 559h1v1h-1zM1159 560h1v1h-1zM1160 561h1v1h-1zM1161 561h1v1h-1zM1162 562h1v1h-1zM1163 563h1v1h-1zM1164 564h1v1h-1zM1165 564h1v1h-1zM1166 564h1v2h-1zM1167 560h1v4h-1zM1168 556h1v4h-1zM1169 552h1v4h-1zM1170 550h1v2h-1zM1171 549h1v1h-1zM1172 549h1v1h-1zM1173 548h1v1h-1zM1174 548h1v1h-1zM1175 549h1v1h-1zM1176 550h1v1h-1zM1177 550h1v1h-1zM1178 551h1v1h-1zM1179 550h1v1h-1zM1180 548h1v2h-1zM1181 547h1v1h-1zM1182 546h1v1h-1zM1183 546h1v1h-1zM1184 546h1v1h-1zM1185 546h1v1h-1zM1186 546h1v1h-1zM1187 545h1v1h-1zM1188 545h1v1h-1zM1189 544h1v1h-1zM1190 544h1v1h-1zM1191 544h1v1h-1zM1192 543h1v1h-1zM1193 543h1v1h-1zM1194 543h1v1h-1zM1195 544h1v1h-1zM1196 545h1v1h-1zM1197 546h1v1h-1zM1198 547h1v1h-1zM1199 546h1v1h-1zM1200 546h1v1h-1zM1201 545h1v1h-1zM1202 545h1v1h-1zM1203 546h1v1h-1zM1204 546h1v1h-1zM1205 547h1v1h-1zM1206 547h1v1h-1zM1207 546h1v1h-1zM1208 546h1v1h-1zM1209 545h1v1h-1zM1210 545h1v1h-1zM1211 544h1v1h-1zM1212 543h1v1h-1zM1213 543h1v1h-1zM1214 542h1v1h-1zM1215 543h1v1h-1zM1216 544h1v1h-1zM1217 544h1v1h-1zM1218 545h1v1h-1zM1219 544h1v1h-1zM1220 544h1v1h-1zM1221 543h1v1h-1zM1222 543h1v1h-1zM1223 543h1v1h-1zM1224 542h1v1h-1zM1225 542h1v1h-1zM1226 542h1v2h-1zM1227 544h1v2h-1zM1228 546h1v3h-1zM1229 549h1v2h-1zM1230 551h1v2h-1zM1231 553h1v2h-1zM1232 555h1v2h-1zM1233 557h1v2h-1zM1234 559h1v2h-1zM1235 561h1v1h-1zM1236 561h1v1h-1zM1237 562h1v1h-1zM1238 562h1v1h-1zM1239 563h1v1h-1zM1240 563h1v1h-1zM1241 564h1v1h-1zM1242 564h1v1h-1zM1243 563h1v1h-1zM1244 563h1v1h-1zM1245 562h1v1h-1zM1246 562h1v1h-1zM1247 562h1v1h-1zM1248 561h1v1h-1zM1249 561h1v1h-1zM1250 561h1v1h-1zM1251 561h1v1h-1zM1252 560h1v1h-1zM1253 560h1v1h-1zM1254 560h1v1h-1zM1255 561h1v1h-1zM1256 562h1v1h-1zM1257 562h1v1h-1zM1258 563h1v1h-1zM1259 564h1v1h-1zM1260 565h1v1h-1zM1261 565h1v1h-1zM1262 566h1v2h-1zM1263 568h1v2h-1zM1264 570h1v2h-1zM1265 572h1v2h-1zM1266 574h1v2h-1zM1267 575h1v1h-1zM1268 574h1v1h-1zM1269 574h1v1h-1zM1270 574h1v1h-1zM1271 573h1v1h-1zM1272 573h1v1h-1zM1273 572h1v1h-1zM1274 572h1v1h-1zM1275 572h1v1h-1zM1276 572h1v1h-1zM1277 572h1v1h-1z"/><text transform="translate(1614.02,535) scale(0.9008,1.0)" font-size="10.2" fill="#000" stroke="#000" stroke-width="0.12" text-rendering="geometricPrecision">100</text><rect x="1611" y="526" width="1" height="1" fill="#000"/><rect x="1611" y="614" width="1" height="1" fill="#000"/><rect x="1611" y="619" width="1" height="1" fill="#000"/><rect x="1611" y="705" width="1" height="1" fill="#000"/><text transform="translate(1613.57,556) scale(0.8578,1.0)" font-size="10.2" fill="#000" stroke="#000" stroke-width="0.12" text-rendering="geometricPrecision">70</text><text transform="translate(1613.68,592) scale(0.8476,1.0)" font-size="10.2" fill="#000" stroke="#000" stroke-width="0.12" text-rendering="geometricPrecision">30</text><text transform="translate(1613.65,612) scale(0.9231,1.0)" font-size="10.2" fill="#000" stroke="#000" stroke-width="0.12" text-rendering="geometricPrecision">0</text></g>
<g id="macd"><text transform="translate(4.79,630) scale(0.9254,1.0)" font-size="10.2" fill="#000" stroke="#000" stroke-width="0.12" text-rendering="geometricPrecision">MACD(12,26,9) 0.001297 0.003204</text><path fill="#c0c0c0" d="M2 666h1v5h-1zM6 666h1v5h-1zM10 669h1v2h-1zM14 670h1v2h-1zM18 670h1v4h-1zM22 670h1v5h-1zM26 670h1v4h-1zM30 670h1v6h-1zM34 670h1v5h-1zM38 670h1v5h-1zM42 670h1v5h-1zM46 670h1v4h-1zM50 670h1v3h-1zM54 670h1v1h-1zM58 670h1v2h-1zM62 670h1v3h-1zM66 670h1v5h-1zM70 670h1v5h-1zM74 670h1v6h-1zM78 670h1v6h-1zM82 670h1v5h-1zM86 670h1v7h-1zM90 670h1v8h-1zM94 670h1v9h-1zM98 670h1v9h-1zM102 670h1v10h-1zM106 670h1v11h-1zM110 670h1v9h-1zM114 670h1v8h-1zM118 670h1v7h-1zM122 670h1v7h-1zM126 670h1v8h-1zM130 670h1v8h-1zM134 670h1v9h-1zM138 670h1v9h-1zM142 670h1v9h-1zM146 670h1v9h-1zM150 670h1v10h-1zM154 670h1v10h-1zM158 670h1v8h-1zM162 670h1v7h-1zM166 670h1v7h-1zM170 670h1v7h-1zM174 670h1v7h-1zM178 670h1v6h-1zM182 670h1v2h-1zM186 667h1v4h-1zM190 663h1v8h-1zM194 661h1v10h-1zM198 660h1v11h-1zM202 657h1v14h-1zM206 662h1v9h-1zM210 666h1v5h-1zM214 669h1v2h-1zM218 670h1v2h-1zM222 670h1v4h-1zM226 670h1v4h-1zM230 670h1v6h-1zM234 670h1v6h-1zM238 670h1v8h-1zM242 670h1v9h-1zM246 670h1v10h-1zM250 670h1v9h-1zM254 670h1v9h-1zM258 670h1v10h-1zM262 670h1v12h-1zM266 670h1v12h-1zM270 670h1v13h-1zM274 670h1v17h-1zM278 670h1v19h-1zM282 670h1v21h-1zM286 670h1v22h-1zM290 670h1v22h-1zM294 670h1v22h-1zM298 670h1v22h-1zM302 670h1v22h-1zM306 670h1v21h-1zM310 670h1v20h-1zM314 670h1v19h-1zM318 670h1v18h-1zM322 670h1v18h-1zM326 670h1v20h-1zM330 670h1v23h-1zM334 670h1v26h-1zM338 670h1v28h-1zM342 670h1v28h-1zM346 670h1v28h-1zM350 670h1v29h-1zM354 670h1v30h-1zM358 670h1v31h-1zM362 670h1v31h-1zM366 670h1v30h-1zM370 670h1v30h-1zM374 670h1v28h-1zM378 670h1v27h-1zM382 670h1v25h-1zM386 670h1v23h-1zM390 670h1v22h-1zM394 670h1v22h-1zM398 670h1v21h-1zM402 670h1v20h-1zM406 670h1v19h-1zM410 670h1v17h-1zM414 670h1v15h-1zM418 670h1v12h-1zM422 670h1v11h-1zM426 670h1v10h-1zM430 670h1v10h-1zM434 670h1v9h-1zM438 670h1v10h-1zM442 670h1v10h-1zM446 670h1v11h-1zM450 670h1v11h-1zM454 670h1v12h-1zM458 670h1v12h-1zM462 670h1v13h-1zM466 670h1v15h-1zM470 670h1v18h-1zM474 670h1v21h-1zM478 670h1v24h-1zM482 670h1v25h-1zM486 670h1v25h-1zM490 670h1v26h-1zM494 670h1v27h-1zM498 670h1v28h-1zM502 670h1v29h-1zM506 670h1v31h-1zM510 670h1v31h-1zM514 670h1v32h-1zM518 670h1v33h-1zM522 670h1v33h-1zM526 670h1v32h-1zM530 670h1v31h-1zM534 670h1v30h-1zM538 670h1v30h-1zM542 670h1v29h-1zM546 670h1v27h-1zM550 670h1v25h-1zM554 670h1v23h-1zM558 670h1v22h-1zM562 670h1v22h-1zM566 670h1v21h-1zM570 670h1v18h-1zM574 670h1v17h-1zM578 670h1v14h-1zM582 670h1v12h-1zM586 670h1v10h-1zM590 670h1v8h-1zM594 670h1v5h-1zM598 670h1v3h-1zM602 670h1v1h-1zM606 670h1v1h-1zM610 670h1v3h-1zM614 670h1v4h-1zM618 670h1v4h-1zM622 670h1v4h-1zM626 670h1v5h-1zM630 670h1v5h-1zM634 670h1v7h-1zM638 670h1v9h-1zM642 670h1v10h-1zM646 670h1v12h-1zM650 670h1v14h-1zM654 670h1v16h-1zM658 670h1v16h-1zM662 670h1v15h-1zM666 670h1v15h-1zM670 670h1v14h-1zM674 670h1v13h-1zM678 670h1v11h-1zM682 670h1v10h-1zM686 670h1v9h-1zM690 670h1v6h-1zM694 670h1v4h-1zM698 670h1v2h-1zM702 669h1v2h-1zM706 670h1v1h-1zM710 670h1v4h-1zM714 670h1v5h-1zM718 670h1v5h-1zM722 670h1v5h-1zM726 670h1v6h-1zM730 670h1v7h-1zM734 670h1v6h-1zM738 670h1v7h-1zM742 670h1v6h-1zM746 670h1v6h-1zM750 670h1v6h-1zM754 670h1v6h-1zM758 670h1v5h-1zM762 670h1v6h-1zM766 670h1v7h-1zM770 670h1v7h-1zM774 670h1v8h-1zM778 670h1v7h-1zM782 670h1v6h-1zM786 670h1v5h-1zM790 670h1v5h-1zM794 670h1v5h-1zM798 670h1v4h-1zM802 670h1v1h-1zM806 668h1v3h-1zM810 666h1v5h-1zM814 664h1v7h-1zM818 663h1v8h-1zM822 663h1v8h-1zM826 664h1v7h-1zM830 666h1v5h-1zM834 667h1v4h-1zM838 668h1v3h-1zM842 668h1v3h-1zM846 667h1v4h-1zM850 668h1v3h-1zM854 668h1v3h-1zM858 668h1v3h-1zM862 669h1v2h-1zM866 670h1v1h-1zM870 670h1v1h-1zM874 670h1v2h-1zM878 670h1v2h-1zM882 670h1v2h-1zM886 670h1v4h-1zM890 670h1v4h-1zM894 670h1v5h-1zM898 670h1v7h-1zM902 670h1v8h-1zM906 670h1v7h-1zM910 670h1v6h-1zM914 670h1v5h-1zM918 670h1v4h-1zM922 670h1v4h-1zM926 670h1v4h-1zM930 670h1v5h-1zM934 670h1v6h-1zM938 670h1v6h-1zM942 670h1v5h-1zM946 670h1v2h-1zM950 668h1v3h-1zM954 667h1v4h-1zM958 665h1v6h-1zM962 663h1v8h-1zM966 662h1v9h-1zM970 663h1v8h-1zM974 664h1v7h-1zM978 665h1v6h-1zM982 666h1v5h-1zM986 666h1v5h-1zM990 667h1v4h-1zM994 667h1v4h-1zM998 669h1v2h-1zM1002 669h1v2h-1zM1006 669h1v2h-1zM1010 669h1v2h-1zM1014 669h1v2h-1zM1018 668h1v3h-1zM1022 668h1v3h-1zM1026 666h1v5h-1zM1030 666h1v5h-1zM1034 666h1v5h-1zM1038 666h1v5h-1zM1042 668h1v3h-1zM1046 668h1v3h-1zM1050 667h1v4h-1zM1054 666h1v5h-1zM1058 665h1v6h-1zM1062 665h1v6h-1zM1066 666h1v5h-1zM1070 667h1v4h-1zM1074 667h1v4h-1zM1078 668h1v3h-1zM1082 669h1v2h-1zM1086 668h1v3h-1zM1090 667h1v4h-1zM1094 664h1v7h-1zM1098 662h1v9h-1zM1102 661h1v10h-1zM1106 660h1v11h-1zM1110 659h1v12h-1zM1114 660h1v11h-1zM1118 661h1v10h-1zM1122 661h1v10h-1zM1126 661h1v10h-1zM1130 662h1v9h-1zM1134 660h1v11h-1zM1138 659h1v12h-1zM1142 657h1v14h-1zM1146 657h1v14h-1zM1150 657h1v14h-1zM1154 657h1v14h-1zM1158 657h1v14h-1zM1162 657h1v14h-1zM1166 658h1v13h-1zM1170 655h1v16h-1zM1174 651h1v20h-1zM1178 649h1v22h-1zM1182 645h1v26h-1zM1186 642h1v29h-1zM1190 638h1v33h-1zM1194 635h1v36h-1zM1198 634h1v37h-1zM1202 632h1v39h-1zM1206 632h1v39h-1zM1210 630h1v41h-1zM1214 627h1v44h-1zM1218 626h1v45h-1zM1222 625h1v46h-1zM1226 623h1v48h-1zM1230 625h1v46h-1zM1234 628h1v43h-1zM1238 632h1v39h-1zM1242 636h1v35h-1zM1246 639h1v32h-1zM1250 641h1v30h-1zM1254 643h1v28h-1zM1258 645h1v26h-1zM1262 648h1v23h-1zM1266 653h1v18h-1zM1270 657h1v14h-1zM1274 660h1v11h-1zM1278 662h1v9h-1z"/><path fill="#ff0000" d="M2 664h1v1h-1zM3 664h1v1h-1zM4 664h1v1h-1zM8 665h1v1h-1zM9 665h1v1h-1zM10 665h1v1h-1zM14 665h1v1h-1zM15 666h1v1h-1zM16 666h1v1h-1zM20 668h1v1h-1zM21 668h1v1h-1zM22 668h1v1h-1zM26 669h1v1h-1zM27 669h1v1h-1zM28 670h1v1h-1zM32 671h1v1h-1zM33 671h1v1h-1zM34 671h1v1h-1zM38 672h1v1h-1zM39 672h1v1h-1zM40 673h1v1h-1zM44 673h1v1h-1zM45 673h1v1h-1zM46 673h1v1h-1zM50 673h1v1h-1zM51 673h1v1h-1zM52 673h1v1h-1zM56 673h1v1h-1zM57 673h1v1h-1zM58 673h1v1h-1zM62 673h1v1h-1zM63 673h1v1h-1zM64 673h1v1h-1zM68 673h1v1h-1zM69 673h1v1h-1zM70 673h1v1h-1zM74 673h1v1h-1zM75 673h1v1h-1zM76 673h1v1h-1zM80 673h1v1h-1zM81 673h1v1h-1zM82 673h1v1h-1zM86 673h1v1h-1zM87 673h1v1h-1zM88 674h1v1h-1zM92 675h1v1h-1zM93 675h1v1h-1zM94 675h1v1h-1zM98 676h1v1h-1zM99 676h1v1h-1zM100 676h1v1h-1zM104 677h1v1h-1zM105 677h1v1h-1zM106 677h1v1h-1zM110 677h1v1h-1zM111 677h1v1h-1zM112 677h1v1h-1zM116 678h1v1h-1zM117 678h1v1h-1zM118 678h1v1h-1zM122 678h1v1h-1zM123 678h1v1h-1zM124 678h1v1h-1zM128 677h1v1h-1zM129 677h1v1h-1zM130 677h1v1h-1zM134 677h1v1h-1zM135 677h1v1h-1zM136 677h1v1h-1zM140 677h1v1h-1zM141 677h1v1h-1zM142 677h1v1h-1zM146 677h1v1h-1zM147 677h1v1h-1zM148 677h1v1h-1zM152 678h1v1h-1zM153 678h1v1h-1zM154 678h1v1h-1zM158 678h1v1h-1zM159 678h1v1h-1zM160 678h1v1h-1zM164 678h1v1h-1zM165 678h1v1h-1zM166 678h1v1h-1zM170 677h1v1h-1zM171 677h1v1h-1zM172 677h1v1h-1zM176 677h1v1h-1zM177 677h1v1h-1zM178 677h1v1h-1zM182 676h1v1h-1zM183 676h1v1h-1zM184 675h1v1h-1zM188 674h1v1h-1zM189 673h1v1h-1zM190 673h1v1h-1zM194 671h1v1h-1zM195 670h1v1h-1zM196 670h1v1h-1zM200 668h1v1h-1zM201 667h1v1h-1zM202 667h1v1h-1zM206 666h1v1h-1zM207 666h1v1h-1zM208 665h1v1h-1zM212 664h1v1h-1zM213 664h1v1h-1zM214 664h1v1h-1zM218 664h1v1h-1zM219 664h1v1h-1zM220 665h1v1h-1zM224 666h1v1h-1zM225 666h1v1h-1zM226 666h1v1h-1zM230 667h1v1h-1zM231 668h1v1h-1zM232 668h1v1h-1zM236 670h1v1h-1zM237 671h1v1h-1zM238 671h1v1h-1zM242 673h1v1h-1zM243 673h1v1h-1zM244 674h1v1h-1zM248 675h1v1h-1zM249 675h1v1h-1zM250 675h1v1h-1zM254 676h1v1h-1zM255 676h1v1h-1zM256 677h1v1h-1zM260 678h1v1h-1zM261 678h1v1h-1zM262 678h1v1h-1zM266 678h1v1h-1zM267 678h1v1h-1zM268 679h1v1h-1zM272 680h1v1h-1zM273 680h1v1h-1zM274 680h1v1h-1zM278 681h1v1h-1zM279 682h1v1h-1zM280 682h1v1h-1zM284 684h1v1h-1zM285 684h1v1h-1zM286 684h1v1h-1zM290 685h1v1h-1zM291 686h1v1h-1zM292 686h1v1h-1zM296 688h1v1h-1zM297 688h1v1h-1zM298 688h1v1h-1zM302 689h1v1h-1zM303 689h1v1h-1zM304 690h1v1h-1zM308 690h1v1h-1zM309 690h1v1h-1zM310 690h1v1h-1zM314 690h1v1h-1zM315 690h1v1h-1zM316 690h1v1h-1zM320 690h1v1h-1zM321 690h1v1h-1zM322 690h1v1h-1zM326 689h1v1h-1zM327 689h1v1h-1zM328 689h1v1h-1zM332 690h1v1h-1zM333 690h1v1h-1zM334 690h1v1h-1zM338 691h1v1h-1zM339 691h1v1h-1zM340 691h1v1h-1zM344 692h1v1h-1zM345 692h1v1h-1zM346 692h1v1h-1zM350 693h1v1h-1zM351 694h1v1h-1zM352 694h1v1h-1zM356 696h1v1h-1zM357 696h1v1h-1zM358 696h1v1h-1zM362 697h1v1h-1zM363 697h1v1h-1zM364 698h1v1h-1zM368 698h1v1h-1zM369 698h1v1h-1zM370 698h1v1h-1zM374 699h1v1h-1zM375 699h1v1h-1zM376 698h1v1h-1zM380 698h1v1h-1zM381 698h1v1h-1zM382 698h1v1h-1zM386 697h1v1h-1zM387 697h1v1h-1zM388 697h1v1h-1zM392 696h1v1h-1zM393 696h1v1h-1zM394 696h1v1h-1zM398 694h1v1h-1zM399 694h1v1h-1zM400 693h1v1h-1zM404 692h1v1h-1zM405 692h1v1h-1zM406 692h1v1h-1zM410 691h1v1h-1zM411 690h1v1h-1zM412 690h1v1h-1zM416 688h1v1h-1zM417 688h1v1h-1zM418 688h1v1h-1zM422 687h1v1h-1zM423 686h1v1h-1zM424 686h1v1h-1zM428 684h1v1h-1zM429 684h1v1h-1zM430 684h1v1h-1zM434 683h1v1h-1zM435 683h1v1h-1zM436 682h1v1h-1zM440 681h1v1h-1zM441 681h1v1h-1zM442 681h1v1h-1zM446 680h1v1h-1zM447 680h1v1h-1zM448 679h1v1h-1zM452 679h1v1h-1zM453 679h1v1h-1zM454 679h1v1h-1zM458 679h1v1h-1zM459 679h1v1h-1zM460 680h1v1h-1zM464 680h1v1h-1zM465 680h1v1h-1zM466 680h1v1h-1zM470 681h1v1h-1zM471 681h1v1h-1zM472 682h1v1h-1zM476 683h1v1h-1zM477 684h1v1h-1zM478 684h1v1h-1zM482 686h1v1h-1zM483 686h1v1h-1zM484 687h1v1h-1zM488 688h1v1h-1zM489 689h1v1h-1zM490 689h1v1h-1zM494 690h1v1h-1zM495 691h1v1h-1zM496 691h1v1h-1zM500 693h1v1h-1zM501 694h1v1h-1zM502 694h1v1h-1zM506 695h1v1h-1zM507 695h1v1h-1zM508 696h1v1h-1zM512 697h1v1h-1zM513 697h1v1h-1zM514 697h1v1h-1zM518 698h1v1h-1zM519 698h1v1h-1zM520 699h1v1h-1zM524 700h1v1h-1zM525 700h1v1h-1zM526 700h1v1h-1zM530 700h1v1h-1zM531 700h1v1h-1zM532 700h1v1h-1zM536 700h1v1h-1zM537 700h1v1h-1zM538 700h1v1h-1zM542 700h1v1h-1zM543 700h1v1h-1zM544 700h1v1h-1zM548 699h1v1h-1zM549 699h1v1h-1zM550 699h1v1h-1zM554 698h1v1h-1zM555 698h1v1h-1zM556 697h1v1h-1zM560 696h1v1h-1zM561 696h1v1h-1zM562 696h1v1h-1zM566 694h1v1h-1zM567 694h1v1h-1zM568 693h1v1h-1zM572 692h1v1h-1zM573 692h1v1h-1zM574 692h1v1h-1zM578 690h1v1h-1zM579 689h1v1h-1zM580 689h1v1h-1zM584 687h1v1h-1zM585 687h1v1h-1zM586 687h1v1h-1zM590 685h1v1h-1zM591 684h1v1h-1zM592 684h1v1h-1zM596 682h1v1h-1zM597 681h1v1h-1zM598 681h1v1h-1zM602 679h1v1h-1zM603 678h1v1h-1zM604 678h1v1h-1zM608 676h1v1h-1zM609 675h1v1h-1zM610 675h1v1h-1zM614 674h1v1h-1zM615 674h1v1h-1zM616 673h1v1h-1zM620 673h1v1h-1zM621 673h1v1h-1zM622 673h1v1h-1zM626 672h1v1h-1zM627 672h1v1h-1zM628 672h1v1h-1zM632 673h1v1h-1zM633 673h1v1h-1zM634 673h1v1h-1zM638 674h1v1h-1zM639 674h1v1h-1zM640 675h1v1h-1zM644 676h1v1h-1zM645 676h1v1h-1zM646 676h1v1h-1zM650 677h1v1h-1zM651 677h1v1h-1zM652 678h1v1h-1zM656 679h1v1h-1zM657 680h1v1h-1zM658 680h1v1h-1zM662 681h1v1h-1zM663 681h1v1h-1zM664 682h1v1h-1zM668 682h1v1h-1zM669 682h1v1h-1zM670 682h1v1h-1zM674 683h1v1h-1zM675 683h1v1h-1zM676 683h1v1h-1zM680 683h1v1h-1zM681 683h1v1h-1zM682 683h1v1h-1zM686 682h1v1h-1zM687 682h1v1h-1zM688 681h1v1h-1zM692 680h1v1h-1zM693 680h1v1h-1zM694 680h1v1h-1zM698 678h1v1h-1zM699 678h1v1h-1zM700 677h1v1h-1zM704 676h1v1h-1zM705 675h1v1h-1zM706 675h1v1h-1zM710 674h1v1h-1zM711 674h1v1h-1zM712 674h1v1h-1zM716 673h1v1h-1zM717 673h1v1h-1zM718 673h1v1h-1zM722 673h1v1h-1zM723 673h1v1h-1zM724 673h1v1h-1zM728 673h1v1h-1zM729 673h1v1h-1zM730 673h1v1h-1zM734 674h1v1h-1zM735 674h1v1h-1zM736 674h1v1h-1zM740 675h1v1h-1zM741 675h1v1h-1zM742 675h1v1h-1zM746 675h1v1h-1zM747 675h1v1h-1zM748 675h1v1h-1zM752 675h1v1h-1zM753 675h1v1h-1zM754 675h1v1h-1zM758 675h1v1h-1zM759 675h1v1h-1zM760 675h1v1h-1zM764 675h1v1h-1zM765 675h1v1h-1zM766 675h1v1h-1zM770 675h1v1h-1zM771 675h1v1h-1zM772 675h1v1h-1zM776 675h1v1h-1zM777 675h1v1h-1zM778 675h1v1h-1zM782 675h1v1h-1zM783 675h1v1h-1zM784 675h1v1h-1zM788 675h1v1h-1zM789 675h1v1h-1zM790 675h1v1h-1zM794 675h1v1h-1zM795 675h1v1h-1zM796 675h1v1h-1zM800 674h1v1h-1zM801 674h1v1h-1zM802 674h1v1h-1zM806 673h1v1h-1zM807 673h1v1h-1zM808 672h1v1h-1zM812 671h1v1h-1zM813 671h1v1h-1zM814 671h1v1h-1zM818 670h1v1h-1zM819 669h1v1h-1zM820 669h1v1h-1zM824 667h1v1h-1zM825 667h1v1h-1zM826 667h1v1h-1zM830 666h1v1h-1zM831 666h1v1h-1zM832 666h1v1h-1zM836 665h1v1h-1zM837 665h1v1h-1zM838 665h1v1h-1zM842 665h1v1h-1zM843 665h1v1h-1zM844 666h1v1h-1zM848 666h1v1h-1zM849 666h1v1h-1zM850 666h1v1h-1zM854 666h1v1h-1zM855 666h1v1h-1zM856 667h1v1h-1zM860 668h1v1h-1zM861 668h1v1h-1zM862 668h1v1h-1zM866 668h1v1h-1zM867 668h1v1h-1zM868 669h1v1h-1zM872 669h1v1h-1zM873 669h1v1h-1zM874 669h1v1h-1zM878 669h1v1h-1zM879 669h1v1h-1zM880 670h1v1h-1zM884 670h1v1h-1zM885 670h1v1h-1zM886 670h1v1h-1zM890 671h1v1h-1zM891 671h1v1h-1zM892 671h1v1h-1zM896 672h1v1h-1zM897 672h1v1h-1zM898 672h1v1h-1zM902 673h1v1h-1zM903 673h1v1h-1zM904 674h1v1h-1zM908 674h1v1h-1zM909 674h1v1h-1zM910 674h1v1h-1zM914 674h1v1h-1zM915 674h1v1h-1zM916 675h1v1h-1zM920 675h1v1h-1zM921 675h1v1h-1zM922 675h1v1h-1zM926 675h1v1h-1zM927 675h1v1h-1zM928 675h1v1h-1zM932 674h1v1h-1zM933 674h1v1h-1zM934 674h1v1h-1zM938 674h1v1h-1zM939 674h1v1h-1zM940 674h1v1h-1zM944 674h1v1h-1zM945 674h1v1h-1zM946 674h1v1h-1zM950 673h1v1h-1zM951 673h1v1h-1zM952 672h1v1h-1zM956 671h1v1h-1zM957 671h1v1h-1zM958 671h1v1h-1zM962 670h1v1h-1zM963 670h1v1h-1zM964 669h1v1h-1zM968 668h1v1h-1zM969 668h1v1h-1zM970 668h1v1h-1zM974 666h1v1h-1zM975 666h1v1h-1zM976 665h1v1h-1zM980 665h1v1h-1zM981 665h1v1h-1zM982 665h1v1h-1zM986 664h1v1h-1zM987 664h1v1h-1zM988 664h1v1h-1zM992 665h1v1h-1zM993 665h1v1h-1zM994 665h1v1h-1zM998 665h1v1h-1zM999 665h1v1h-1zM1000 666h1v1h-1zM1004 667h1v1h-1zM1005 667h1v1h-1zM1006 667h1v1h-1zM1010 667h1v1h-1zM1011 667h1v1h-1zM1012 668h1v1h-1zM1016 668h1v1h-1zM1017 668h1v1h-1zM1018 668h1v1h-1zM1022 668h1v1h-1zM1023 668h1v1h-1zM1024 668h1v1h-1zM1028 668h1v1h-1zM1029 668h1v1h-1zM1030 668h1v1h-1zM1034 668h1v1h-1zM1035 668h1v1h-1zM1036 667h1v1h-1zM1040 667h1v1h-1zM1041 667h1v1h-1zM1042 667h1v1h-1zM1046 667h1v1h-1zM1047 667h1v1h-1zM1048 667h1v1h-1zM1052 667h1v1h-1zM1053 667h1v1h-1zM1054 667h1v1h-1zM1058 666h1v1h-1zM1059 666h1v1h-1zM1060 666h1v1h-1zM1064 666h1v1h-1zM1065 666h1v1h-1zM1066 666h1v1h-1zM1070 666h1v1h-1zM1071 666h1v1h-1zM1072 666h1v1h-1zM1076 666h1v1h-1zM1077 666h1v1h-1zM1078 666h1v1h-1zM1082 667h1v1h-1zM1083 667h1v1h-1zM1084 667h1v1h-1zM1088 667h1v1h-1zM1089 667h1v1h-1zM1090 667h1v1h-1zM1094 667h1v1h-1zM1095 667h1v1h-1zM1096 666h1v1h-1zM1100 666h1v1h-1zM1101 666h1v1h-1zM1102 666h1v1h-1zM1106 665h1v1h-1zM1107 665h1v1h-1zM1108 664h1v1h-1zM1112 663h1v1h-1zM1113 663h1v1h-1zM1114 663h1v1h-1zM1118 663h1v1h-1zM1119 663h1v1h-1zM1120 662h1v1h-1zM1124 661h1v1h-1zM1125 661h1v1h-1zM1126 661h1v1h-1zM1130 661h1v1h-1zM1131 661h1v1h-1zM1132 661h1v1h-1zM1136 660h1v1h-1zM1137 660h1v1h-1zM1138 660h1v1h-1zM1142 660h1v1h-1zM1143 660h1v1h-1zM1144 660h1v1h-1zM1148 659h1v1h-1zM1149 659h1v1h-1zM1150 659h1v1h-1zM1154 659h1v1h-1zM1155 659h1v1h-1zM1156 658h1v1h-1zM1160 658h1v1h-1zM1161 658h1v1h-1zM1162 658h1v1h-1zM1166 658h1v1h-1zM1167 658h1v1h-1zM1168 657h1v1h-1zM1172 656h1v1h-1zM1173 656h1v1h-1zM1174 656h1v1h-1zM1178 655h1v1h-1zM1179 655h1v1h-1zM1180 654h1v1h-1zM1184 653h1v1h-1zM1185 652h1v1h-1zM1186 652h1v1h-1zM1190 650h1v1h-1zM1191 649h1v1h-1zM1192 649h1v1h-1zM1196 646h1v1h-1zM1197 646h1v1h-1zM1198 645h1v1h-1zM1202 642h1v1h-1zM1203 641h1v1h-1zM1204 641h1v1h-1zM1208 638h1v1h-1zM1209 638h1v1h-1zM1210 637h1v1h-1zM1214 635h1v1h-1zM1215 634h1v1h-1zM1216 634h1v1h-1zM1220 632h1v1h-1zM1221 631h1v1h-1zM1222 631h1v1h-1zM1226 629h1v1h-1zM1227 629h1v1h-1zM1228 628h1v1h-1zM1232 628h1v1h-1zM1233 628h1v1h-1zM1234 628h1v1h-1zM1238 628h1v1h-1zM1239 628h1v1h-1zM1240 628h1v1h-1zM1244 629h1v1h-1zM1245 629h1v1h-1zM1246 629h1v1h-1zM1250 631h1v1h-1zM1251 632h1v1h-1zM1252 632h1v1h-1zM1256 634h1v1h-1zM1257 635h1v1h-1zM1258 635h1v1h-1zM1262 638h1v1h-1zM1263 639h1v1h-1zM1264 640h1v1h-1zM1268 643h1v1h-1zM1269 643h1v1h-1zM1270 644h1v1h-1zM1274 647h1v1h-1zM1275 648h1v1h-1zM1276 649h1v1h-1z"/><rect x="1611" y="670" width="2" height="1" fill="#000"/><text transform="translate(1613.97,629) scale(0.8920,1.0)" font-size="10.2" fill="#000" stroke="#000" stroke-width="0.12" text-rendering="geometricPrecision">0.007959</text><text transform="translate(1613.96,674) scale(0.9053,1.0)" font-size="10.2" fill="#000" stroke="#000" stroke-width="0.12" text-rendering="geometricPrecision">0.00</text><text transform="translate(1613.55,705) scale(0.8920,1.0)" font-size="10.2" fill="#000" stroke="#000" stroke-width="0.12" text-rendering="geometricPrecision">-0.005663</text></g>
<rect x="2" y="282" width="1608" height="1" fill="#c0c0c0"/>
<defs><clipPath id="cm"><rect x="2" y="27" width="1608" height="495"/></clipPath></defs>
<g id="candles" clip-path="url(#cm)"><rect x="2" y="90" width="1" height="22" fill="#ff0000"/><rect x="1" y="92" width="3" height="19" fill="#ff0000"/><rect x="6" y="81" width="1" height="16" fill="#00ff00"/><rect x="5" y="93" width="3" height="2" fill="#00ff00"/><rect x="10" y="92" width="1" height="39" fill="#00ff00"/><rect x="9" y="93" width="3" height="32" fill="#00ff00"/><rect x="14" y="111" width="1" height="21" fill="#00ff00"/><rect x="13" y="124" width="3" height="7" fill="#00ff00"/><rect x="18" y="129" width="1" height="12" fill="#00ff00"/><rect x="17" y="131" width="3" height="9" fill="#00ff00"/><rect x="22" y="118" width="1" height="22" fill="#ff0000"/><rect x="21" y="121" width="3" height="17" fill="#ff0000"/><rect x="26" y="112" width="1" height="10" fill="#ff0000"/><rect x="25" y="113" width="3" height="8" fill="#ff0000"/><rect x="30" y="112" width="1" height="26" fill="#00ff00"/><rect x="29" y="113" width="3" height="21" fill="#00ff00"/><rect x="34" y="108" width="1" height="30" fill="#ff0000"/><rect x="33" y="113" width="3" height="22" fill="#ff0000"/><rect x="38" y="112" width="1" height="9" fill="#00ff00"/><rect x="37" y="117" width="3" height="3" fill="#00ff00"/><rect x="42" y="109" width="1" height="22" fill="#ff0000"/><rect x="41" y="114" width="3" height="6" fill="#ff0000"/><rect x="46" y="102" width="1" height="19" fill="#ff0000"/><rect x="45" y="104" width="3" height="11" fill="#ff0000"/><rect x="50" y="97" width="1" height="13" fill="#ff0000"/><rect x="49" y="103" width="3" height="5" fill="#ff0000"/><rect x="54" y="93" width="1" height="12" fill="#ff0000"/><rect x="53" y="97" width="3" height="7" fill="#ff0000"/><rect x="58" y="68" width="1" height="46" fill="#00ff00"/><rect x="57" y="97" width="3" height="16" fill="#00ff00"/><rect x="62" y="105" width="1" height="27" fill="#00ff00"/><rect x="61" y="113" width="3" height="17" fill="#00ff00"/><rect x="66" y="127" width="1" height="13" fill="#00ff00"/><rect x="65" y="130" width="3" height="10" fill="#00ff00"/><rect x="70" y="126" width="1" height="14" fill="#ff0000"/><rect x="69" y="130" width="3" height="10" fill="#ff0000"/><rect x="74" y="126" width="1" height="10" fill="#00ff00"/><rect x="73" y="130" width="3" height="4" fill="#00ff00"/><rect x="78" y="116" width="1" height="20" fill="#ff0000"/><rect x="77" y="125" width="3" height="10" fill="#ff0000"/><rect x="82" y="105" width="1" height="22" fill="#ff0000"/><rect x="81" y="119" width="3" height="7" fill="#ff0000"/><rect x="86" y="117" width="1" height="35" fill="#00ff00"/><rect x="85" y="119" width="3" height="32" fill="#00ff00"/><rect x="90" y="138" width="1" height="22" fill="#ff0000"/><rect x="89" y="147" width="3" height="1" fill="#ff0000"/><rect x="94" y="141" width="1" height="15" fill="#ff0000"/><rect x="93" y="144" width="3" height="4" fill="#ff0000"/><rect x="98" y="138" width="1" height="10" fill="#ff0000"/><rect x="97" y="140" width="3" height="4" fill="#ff0000"/><rect x="102" y="139" width="1" height="38" fill="#00ff00"/><rect x="101" y="140" width="3" height="27" fill="#00ff00"/><rect x="106" y="144" width="1" height="23" fill="#ff0000"/><rect x="105" y="150" width="3" height="17" fill="#ff0000"/><rect x="110" y="118" width="1" height="35" fill="#ff0000"/><rect x="109" y="131" width="3" height="20" fill="#ff0000"/><rect x="114" y="123" width="1" height="14" fill="#00ff00"/><rect x="113" y="131" width="3" height="5" fill="#00ff00"/><rect x="118" y="117" width="1" height="22" fill="#ff0000"/><rect x="117" y="122" width="3" height="16" fill="#ff0000"/><rect x="122" y="117" width="1" height="29" fill="#00ff00"/><rect x="121" y="121" width="3" height="24" fill="#00ff00"/><rect x="126" y="139" width="1" height="16" fill="#00ff00"/><rect x="125" y="144" width="3" height="10" fill="#00ff00"/><rect x="130" y="147" width="1" height="16" fill="#ff0000"/><rect x="129" y="148" width="3" height="6" fill="#ff0000"/><rect x="134" y="145" width="1" height="18" fill="#00ff00"/><rect x="133" y="148" width="3" height="13" fill="#00ff00"/><rect x="138" y="156" width="1" height="7" fill="#ff0000"/><rect x="137" y="158" width="3" height="3" fill="#ff0000"/><rect x="142" y="140" width="1" height="13" fill="#00ff00"/><rect x="141" y="149" width="3" height="3" fill="#00ff00"/><rect x="146" y="151" width="1" height="9" fill="#00ff00"/><rect x="145" y="152" width="3" height="5" fill="#00ff00"/><rect x="150" y="154" width="1" height="26" fill="#00ff00"/><rect x="149" y="157" width="3" height="20" fill="#00ff00"/><rect x="154" y="143" width="1" height="36" fill="#ff0000"/><rect x="153" y="151" width="3" height="25" fill="#ff0000"/><rect x="158" y="133" width="1" height="19" fill="#ff0000"/><rect x="157" y="134" width="3" height="17" fill="#ff0000"/><rect x="162" y="129" width="1" height="23" fill="#00ff00"/><rect x="161" y="134" width="3" height="13" fill="#00ff00"/><rect x="166" y="134" width="1" height="20" fill="#00ff00"/><rect x="165" y="136" width="3" height="17" fill="#00ff00"/><rect x="170" y="151" width="1" height="17" fill="#00ff00"/><rect x="169" y="153" width="3" height="15" fill="#00ff00"/><rect x="174" y="142" width="1" height="33" fill="#ff0000"/><rect x="173" y="147" width="3" height="20" fill="#ff0000"/><rect x="178" y="131" width="1" height="20" fill="#ff0000"/><rect x="177" y="145" width="3" height="4" fill="#ff0000"/><rect x="182" y="98" width="1" height="49" fill="#ff0000"/><rect x="181" y="106" width="3" height="39" fill="#ff0000"/><rect x="186" y="72" width="1" height="37" fill="#ff0000"/><rect x="185" y="79" width="3" height="29" fill="#ff0000"/><rect x="190" y="75" width="1" height="16" fill="#00ff00"/><rect x="189" y="80" width="3" height="5" fill="#00ff00"/><rect x="194" y="79" width="1" height="10" fill="#00ff00"/><rect x="193" y="83" width="3" height="4" fill="#00ff00"/><rect x="198" y="85" width="1" height="17" fill="#00ff00"/><rect x="197" y="86" width="3" height="6" fill="#00ff00"/><rect x="202" y="52" width="1" height="43" fill="#ff0000"/><rect x="201" y="65" width="3" height="27" fill="#ff0000"/><rect x="206" y="63" width="1" height="126" fill="#00ff00"/><rect x="205" y="64" width="3" height="108" fill="#00ff00"/><rect x="210" y="160" width="1" height="13" fill="#ff0000"/><rect x="209" y="164" width="3" height="8" fill="#ff0000"/><rect x="214" y="154" width="1" height="14" fill="#ff0000"/><rect x="213" y="158" width="3" height="7" fill="#ff0000"/><rect x="218" y="150" width="1" height="15" fill="#ff0000"/><rect x="217" y="155" width="3" height="3" fill="#ff0000"/><rect x="222" y="153" width="1" height="27" fill="#00ff00"/><rect x="221" y="157" width="3" height="8" fill="#00ff00"/><rect x="226" y="146" width="1" height="20" fill="#ff0000"/><rect x="225" y="152" width="3" height="13" fill="#ff0000"/><rect x="230" y="135" width="1" height="37" fill="#00ff00"/><rect x="229" y="151" width="3" height="16" fill="#00ff00"/><rect x="234" y="152" width="1" height="20" fill="#ff0000"/><rect x="233" y="155" width="3" height="12" fill="#ff0000"/><rect x="238" y="156" width="1" height="16" fill="#00ff00"/><rect x="237" y="157" width="3" height="13" fill="#00ff00"/><rect x="242" y="165" width="1" height="16" fill="#00ff00"/><rect x="241" y="169" width="3" height="8" fill="#00ff00"/><rect x="246" y="162" width="1" height="20" fill="#ff0000"/><rect x="245" y="169" width="3" height="8" fill="#ff0000"/><rect x="250" y="157" width="1" height="22" fill="#ff0000"/><rect x="249" y="161" width="3" height="8" fill="#ff0000"/><rect x="254" y="155" width="1" height="20" fill="#00ff00"/><rect x="253" y="160" width="3" height="3" fill="#00ff00"/><rect x="258" y="153" width="1" height="27" fill="#00ff00"/><rect x="257" y="164" width="3" height="15" fill="#00ff00"/><rect x="262" y="166" width="1" height="29" fill="#00ff00"/><rect x="261" y="168" width="3" height="27" fill="#00ff00"/><rect x="266" y="179" width="1" height="18" fill="#ff0000"/><rect x="265" y="180" width="3" height="15" fill="#ff0000"/><rect x="270" y="179" width="1" height="24" fill="#00ff00"/><rect x="269" y="180" width="3" height="22" fill="#00ff00"/><rect x="274" y="191" width="1" height="51" fill="#00ff00"/><rect x="273" y="201" width="3" height="40" fill="#00ff00"/><rect x="278" y="230" width="1" height="12" fill="#ff0000"/><rect x="277" y="231" width="3" height="7" fill="#ff0000"/><rect x="282" y="220" width="1" height="16" fill="#00ff00"/><rect x="281" y="232" width="3" height="3" fill="#00ff00"/><rect x="286" y="225" width="1" height="14" fill="#ff0000"/><rect x="285" y="226" width="3" height="10" fill="#ff0000"/><rect x="290" y="223" width="1" height="10" fill="#00ff00"/><rect x="289" y="231" width="3" height="2" fill="#00ff00"/><rect x="294" y="217" width="1" height="19" fill="#ff0000"/><rect x="293" y="223" width="3" height="8" fill="#ff0000"/><rect x="298" y="220" width="1" height="16" fill="#00ff00"/><rect x="297" y="224" width="3" height="9" fill="#00ff00"/><rect x="302" y="222" width="1" height="13" fill="#00ff00"/><rect x="301" y="226" width="3" height="7" fill="#00ff00"/><rect x="306" y="221" width="1" height="13" fill="#ff0000"/><rect x="305" y="232" width="3" height="1" fill="#ff0000"/><rect x="310" y="218" width="1" height="16" fill="#ff0000"/><rect x="309" y="224" width="3" height="9" fill="#ff0000"/><rect x="314" y="221" width="1" height="9" fill="#00ff00"/><rect x="313" y="223" width="3" height="4" fill="#00ff00"/><rect x="318" y="221" width="1" height="9" fill="#00ff00"/><rect x="317" y="225" width="3" height="2" fill="#00ff00"/><rect x="322" y="224" width="1" height="20" fill="#00ff00"/><rect x="321" y="228" width="3" height="10" fill="#00ff00"/><rect x="326" y="237" width="1" height="28" fill="#00ff00"/><rect x="325" y="238" width="3" height="26" fill="#00ff00"/><rect x="330" y="261" width="1" height="33" fill="#00ff00"/><rect x="329" y="263" width="3" height="30" fill="#00ff00"/><rect x="334" y="286" width="1" height="25" fill="#00ff00"/><rect x="333" y="292" width="3" height="18" fill="#00ff00"/><rect x="338" y="292" width="1" height="19" fill="#ff0000"/><rect x="337" y="298" width="3" height="12" fill="#ff0000"/><rect x="342" y="291" width="1" height="17" fill="#ff0000"/><rect x="341" y="292" width="3" height="7" fill="#ff0000"/><rect x="346" y="291" width="1" height="24" fill="#00ff00"/><rect x="345" y="292" width="3" height="3" fill="#00ff00"/><rect x="350" y="286" width="1" height="24" fill="#00ff00"/><rect x="349" y="293" width="3" height="12" fill="#00ff00"/><rect x="354" y="300" width="1" height="20" fill="#00ff00"/><rect x="353" y="305" width="3" height="14" fill="#00ff00"/><rect x="358" y="312" width="1" height="10" fill="#00ff00"/><rect x="357" y="319" width="3" height="3" fill="#00ff00"/><rect x="362" y="315" width="1" height="10" fill="#ff0000"/><rect x="361" y="317" width="3" height="3" fill="#ff0000"/><rect x="366" y="310" width="1" height="14" fill="#ff0000"/><rect x="365" y="316" width="3" height="2" fill="#ff0000"/><rect x="370" y="309" width="1" height="17" fill="#00ff00"/><rect x="369" y="317" width="3" height="2" fill="#00ff00"/><rect x="374" y="286" width="1" height="34" fill="#ff0000"/><rect x="373" y="307" width="3" height="12" fill="#ff0000"/><rect x="378" y="305" width="1" height="16" fill="#00ff00"/><rect x="377" y="307" width="3" height="7" fill="#00ff00"/><rect x="382" y="303" width="1" height="21" fill="#ff0000"/><rect x="381" y="304" width="3" height="7" fill="#ff0000"/><rect x="386" y="294" width="1" height="13" fill="#ff0000"/><rect x="385" y="296" width="3" height="8" fill="#ff0000"/><rect x="390" y="288" width="1" height="19" fill="#00ff00"/><rect x="389" y="296" width="3" height="10" fill="#00ff00"/><rect x="394" y="298" width="1" height="28" fill="#00ff00"/><rect x="393" y="305" width="3" height="18" fill="#00ff00"/><rect x="398" y="317" width="1" height="8" fill="#ff0000"/><rect x="397" y="318" width="3" height="5" fill="#ff0000"/><rect x="402" y="313" width="1" height="12" fill="#ff0000"/><rect x="401" y="318" width="3" height="1" fill="#ff0000"/><rect x="406" y="306" width="1" height="14" fill="#ff0000"/><rect x="405" y="306" width="3" height="12" fill="#ff0000"/><rect x="410" y="303" width="1" height="8" fill="#00ff00"/><rect x="409" y="306" width="3" height="2" fill="#00ff00"/><rect x="414" y="283" width="1" height="26" fill="#ff0000"/><rect x="413" y="289" width="3" height="19" fill="#ff0000"/><rect x="418" y="269" width="1" height="34" fill="#ff0000"/><rect x="417" y="286" width="3" height="10" fill="#ff0000"/><rect x="422" y="266" width="1" height="29" fill="#00ff00"/><rect x="421" y="286" width="3" height="3" fill="#00ff00"/><rect x="426" y="286" width="1" height="14" fill="#00ff00"/><rect x="425" y="288" width="3" height="10" fill="#00ff00"/><rect x="430" y="295" width="1" height="18" fill="#00ff00"/><rect x="429" y="298" width="3" height="15" fill="#00ff00"/><rect x="434" y="305" width="1" height="9" fill="#ff0000"/><rect x="433" y="306" width="3" height="7" fill="#ff0000"/><rect x="438" y="298" width="1" height="19" fill="#00ff00"/><rect x="437" y="305" width="3" height="8" fill="#00ff00"/><rect x="442" y="311" width="1" height="14" fill="#00ff00"/><rect x="441" y="312" width="3" height="6" fill="#00ff00"/><rect x="446" y="313" width="1" height="24" fill="#00ff00"/><rect x="445" y="317" width="3" height="12" fill="#00ff00"/><rect x="450" y="312" width="1" height="18" fill="#ff0000"/><rect x="449" y="322" width="3" height="7" fill="#ff0000"/><rect x="454" y="319" width="1" height="14" fill="#00ff00"/><rect x="453" y="323" width="3" height="8" fill="#00ff00"/><rect x="458" y="310" width="1" height="22" fill="#ff0000"/><rect x="457" y="328" width="3" height="3" fill="#ff0000"/><rect x="462" y="328" width="1" height="17" fill="#00ff00"/><rect x="461" y="329" width="3" height="11" fill="#00ff00"/><rect x="466" y="338" width="1" height="37" fill="#00ff00"/><rect x="465" y="339" width="3" height="28" fill="#00ff00"/><rect x="470" y="357" width="1" height="30" fill="#00ff00"/><rect x="469" y="366" width="3" height="12" fill="#00ff00"/><rect x="474" y="375" width="1" height="27" fill="#00ff00"/><rect x="473" y="377" width="3" height="23" fill="#00ff00"/><rect x="478" y="397" width="1" height="16" fill="#00ff00"/><rect x="477" y="399" width="3" height="10" fill="#00ff00"/><rect x="482" y="395" width="1" height="14" fill="#ff0000"/><rect x="481" y="396" width="3" height="13" fill="#ff0000"/><rect x="486" y="380" width="1" height="18" fill="#ff0000"/><rect x="485" y="384" width="3" height="13" fill="#ff0000"/><rect x="490" y="377" width="1" height="32" fill="#00ff00"/><rect x="489" y="383" width="3" height="20" fill="#00ff00"/><rect x="494" y="394" width="1" height="31" fill="#00ff00"/><rect x="493" y="403" width="3" height="14" fill="#00ff00"/><rect x="498" y="403" width="1" height="14" fill="#ff0000"/><rect x="497" y="415" width="3" height="2" fill="#ff0000"/><rect x="502" y="422" width="1" height="15" fill="#ff0000"/><rect x="501" y="423" width="3" height="2" fill="#ff0000"/><rect x="506" y="423" width="1" height="25" fill="#00ff00"/><rect x="505" y="423" width="3" height="23" fill="#00ff00"/><rect x="510" y="427" width="1" height="18" fill="#ff0000"/><rect x="509" y="431" width="3" height="14" fill="#ff0000"/><rect x="514" y="424" width="1" height="30" fill="#00ff00"/><rect x="513" y="432" width="3" height="18" fill="#00ff00"/><rect x="518" y="445" width="1" height="11" fill="#00ff00"/><rect x="517" y="449" width="3" height="5" fill="#00ff00"/><rect x="522" y="441" width="1" height="18" fill="#ff0000"/><rect x="521" y="450" width="3" height="4" fill="#ff0000"/><rect x="526" y="434" width="1" height="18" fill="#ff0000"/><rect x="525" y="442" width="3" height="9" fill="#ff0000"/><rect x="530" y="440" width="1" height="13" fill="#00ff00"/><rect x="529" y="441" width="3" height="10" fill="#00ff00"/><rect x="534" y="433" width="1" height="19" fill="#ff0000"/><rect x="533" y="441" width="3" height="10" fill="#ff0000"/><rect x="538" y="425" width="1" height="35" fill="#00ff00"/><rect x="537" y="441" width="3" height="16" fill="#00ff00"/><rect x="542" y="433" width="1" height="25" fill="#ff0000"/><rect x="541" y="449" width="3" height="8" fill="#ff0000"/><rect x="546" y="435" width="1" height="20" fill="#ff0000"/><rect x="545" y="446" width="3" height="4" fill="#ff0000"/><rect x="550" y="435" width="1" height="16" fill="#ff0000"/><rect x="549" y="436" width="3" height="10" fill="#ff0000"/><rect x="554" y="420" width="1" height="18" fill="#ff0000"/><rect x="553" y="428" width="3" height="9" fill="#ff0000"/><rect x="558" y="426" width="1" height="31" fill="#00ff00"/><rect x="557" y="427" width="3" height="27" fill="#00ff00"/><rect x="562" y="425" width="1" height="58" fill="#00ff00"/><rect x="561" y="453" width="3" height="14" fill="#00ff00"/><rect x="566" y="439" width="1" height="33" fill="#ff0000"/><rect x="565" y="441" width="3" height="26" fill="#ff0000"/><rect x="570" y="420" width="1" height="22" fill="#ff0000"/><rect x="569" y="421" width="3" height="21" fill="#ff0000"/><rect x="574" y="417" width="1" height="25" fill="#00ff00"/><rect x="573" y="420" width="3" height="21" fill="#00ff00"/><rect x="578" y="418" width="1" height="22" fill="#ff0000"/><rect x="577" y="419" width="3" height="20" fill="#ff0000"/><rect x="582" y="403" width="1" height="29" fill="#ff0000"/><rect x="581" y="418" width="3" height="2" fill="#ff0000"/><rect x="586" y="404" width="1" height="27" fill="#00ff00"/><rect x="585" y="418" width="3" height="8" fill="#00ff00"/><rect x="590" y="405" width="1" height="25" fill="#ff0000"/><rect x="589" y="410" width="3" height="19" fill="#ff0000"/><rect x="594" y="370" width="1" height="45" fill="#ff0000"/><rect x="593" y="399" width="3" height="13" fill="#ff0000"/><rect x="598" y="391" width="1" height="11" fill="#ff0000"/><rect x="597" y="393" width="3" height="7" fill="#ff0000"/><rect x="602" y="387" width="1" height="10" fill="#00ff00"/><rect x="601" y="393" width="3" height="3" fill="#00ff00"/><rect x="606" y="389" width="1" height="32" fill="#00ff00"/><rect x="605" y="395" width="3" height="20" fill="#00ff00"/><rect x="610" y="414" width="1" height="41" fill="#00ff00"/><rect x="609" y="415" width="3" height="36" fill="#00ff00"/><rect x="614" y="430" width="1" height="28" fill="#ff0000"/><rect x="613" y="431" width="3" height="20" fill="#ff0000"/><rect x="618" y="426" width="1" height="12" fill="#00ff00"/><rect x="617" y="432" width="3" height="3" fill="#00ff00"/><rect x="622" y="418" width="1" height="19" fill="#ff0000"/><rect x="621" y="427" width="3" height="4" fill="#ff0000"/><rect x="626" y="422" width="1" height="20" fill="#00ff00"/><rect x="625" y="427" width="3" height="12" fill="#00ff00"/><rect x="630" y="427" width="1" height="13" fill="#ff0000"/><rect x="629" y="436" width="3" height="3" fill="#ff0000"/><rect x="634" y="421" width="1" height="43" fill="#00ff00"/><rect x="633" y="436" width="3" height="25" fill="#00ff00"/><rect x="638" y="455" width="1" height="9" fill="#00ff00"/><rect x="637" y="460" width="3" height="3" fill="#00ff00"/><rect x="642" y="458" width="1" height="14" fill="#00ff00"/><rect x="641" y="462" width="3" height="7" fill="#00ff00"/><rect x="646" y="463" width="1" height="19" fill="#00ff00"/><rect x="645" y="468" width="3" height="12" fill="#00ff00"/><rect x="650" y="480" width="1" height="12" fill="#00ff00"/><rect x="649" y="481" width="3" height="2" fill="#00ff00"/><rect x="654" y="481" width="1" height="24" fill="#00ff00"/><rect x="653" y="482" width="3" height="9" fill="#00ff00"/><rect x="658" y="477" width="1" height="24" fill="#ff0000"/><rect x="657" y="478" width="3" height="12" fill="#ff0000"/><rect x="662" y="468" width="1" height="18" fill="#ff0000"/><rect x="661" y="471" width="3" height="9" fill="#ff0000"/><rect x="666" y="456" width="1" height="24" fill="#ff0000"/><rect x="665" y="470" width="3" height="2" fill="#ff0000"/><rect x="670" y="459" width="1" height="15" fill="#ff0000"/><rect x="669" y="462" width="3" height="10" fill="#ff0000"/><rect x="674" y="457" width="1" height="12" fill="#00ff00"/><rect x="673" y="462" width="3" height="7" fill="#00ff00"/><rect x="678" y="447" width="1" height="27" fill="#ff0000"/><rect x="677" y="453" width="3" height="15" fill="#ff0000"/><rect x="682" y="442" width="1" height="35" fill="#00ff00"/><rect x="681" y="453" width="3" height="9" fill="#00ff00"/><rect x="686" y="427" width="1" height="35" fill="#ff0000"/><rect x="685" y="451" width="3" height="11" fill="#ff0000"/><rect x="690" y="413" width="1" height="45" fill="#ff0000"/><rect x="689" y="427" width="3" height="23" fill="#ff0000"/><rect x="694" y="415" width="1" height="20" fill="#00ff00"/><rect x="693" y="427" width="3" height="4" fill="#00ff00"/><rect x="698" y="427" width="1" height="12" fill="#00ff00"/><rect x="697" y="429" width="3" height="8" fill="#00ff00"/><rect x="702" y="412" width="1" height="27" fill="#ff0000"/><rect x="701" y="422" width="3" height="16" fill="#ff0000"/><rect x="706" y="417" width="1" height="49" fill="#00ff00"/><rect x="705" y="422" width="3" height="38" fill="#00ff00"/><rect x="710" y="459" width="1" height="21" fill="#00ff00"/><rect x="709" y="460" width="3" height="20" fill="#00ff00"/><rect x="714" y="465" width="1" height="15" fill="#ff0000"/><rect x="713" y="474" width="3" height="6" fill="#ff0000"/><rect x="718" y="461" width="1" height="16" fill="#ff0000"/><rect x="717" y="462" width="3" height="14" fill="#ff0000"/><rect x="722" y="456" width="1" height="7" fill="#ff0000"/><rect x="721" y="460" width="3" height="2" fill="#ff0000"/><rect x="726" y="447" width="1" height="33" fill="#00ff00"/><rect x="725" y="461" width="3" height="17" fill="#00ff00"/><rect x="730" y="474" width="1" height="22" fill="#ff0000"/><rect x="729" y="474" width="3" height="2" fill="#ff0000"/><rect x="734" y="460" width="1" height="24" fill="#ff0000"/><rect x="733" y="463" width="3" height="12" fill="#ff0000"/><rect x="738" y="448" width="1" height="22" fill="#00ff00"/><rect x="737" y="462" width="3" height="8" fill="#00ff00"/><rect x="742" y="460" width="1" height="12" fill="#00ff00"/><rect x="741" y="462" width="3" height="7" fill="#00ff00"/><rect x="746" y="460" width="1" height="12" fill="#00ff00"/><rect x="745" y="462" width="3" height="6" fill="#00ff00"/><rect x="750" y="454" width="1" height="22" fill="#00ff00"/><rect x="749" y="464" width="3" height="6" fill="#00ff00"/><rect x="754" y="462" width="1" height="18" fill="#ff0000"/><rect x="753" y="464" width="3" height="6" fill="#ff0000"/><rect x="758" y="454" width="1" height="12" fill="#ff0000"/><rect x="757" y="456" width="3" height="9" fill="#ff0000"/><rect x="762" y="455" width="1" height="31" fill="#00ff00"/><rect x="761" y="455" width="3" height="30" fill="#00ff00"/><rect x="766" y="475" width="1" height="12" fill="#ff0000"/><rect x="765" y="482" width="3" height="3" fill="#ff0000"/><rect x="770" y="479" width="1" height="9" fill="#00ff00"/><rect x="769" y="480" width="3" height="3" fill="#00ff00"/><rect x="774" y="477" width="1" height="17" fill="#00ff00"/><rect x="773" y="477" width="3" height="10" fill="#00ff00"/><rect x="778" y="467" width="1" height="28" fill="#ff0000"/><rect x="777" y="472" width="3" height="15" fill="#ff0000"/><rect x="782" y="459" width="1" height="18" fill="#ff0000"/><rect x="781" y="464" width="3" height="10" fill="#ff0000"/><rect x="786" y="461" width="1" height="24" fill="#00ff00"/><rect x="785" y="465" width="3" height="3" fill="#00ff00"/><rect x="790" y="466" width="1" height="10" fill="#00ff00"/><rect x="789" y="466" width="3" height="5" fill="#00ff00"/><rect x="794" y="470" width="1" height="15" fill="#00ff00"/><rect x="793" y="472" width="3" height="8" fill="#00ff00"/><rect x="798" y="456" width="1" height="24" fill="#ff0000"/><rect x="797" y="460" width="3" height="20" fill="#ff0000"/><rect x="802" y="426" width="1" height="40" fill="#ff0000"/><rect x="801" y="437" width="3" height="28" fill="#ff0000"/><rect x="806" y="426" width="1" height="30" fill="#ff0000"/><rect x="805" y="435" width="3" height="3" fill="#ff0000"/><rect x="810" y="429" width="1" height="10" fill="#ff0000"/><rect x="809" y="431" width="3" height="4" fill="#ff0000"/><rect x="814" y="414" width="1" height="18" fill="#ff0000"/><rect x="813" y="422" width="3" height="10" fill="#ff0000"/><rect x="818" y="421" width="1" height="11" fill="#00ff00"/><rect x="817" y="422" width="3" height="10" fill="#00ff00"/><rect x="822" y="424" width="1" height="18" fill="#00ff00"/><rect x="821" y="431" width="3" height="5" fill="#00ff00"/><rect x="826" y="435" width="1" height="33" fill="#00ff00"/><rect x="825" y="435" width="3" height="21" fill="#00ff00"/><rect x="830" y="453" width="1" height="21" fill="#00ff00"/><rect x="829" y="456" width="3" height="12" fill="#00ff00"/><rect x="834" y="457" width="1" height="13" fill="#00ff00"/><rect x="833" y="461" width="3" height="9" fill="#00ff00"/><rect x="838" y="454" width="1" height="16" fill="#ff0000"/><rect x="837" y="456" width="3" height="13" fill="#ff0000"/><rect x="842" y="449" width="1" height="11" fill="#ff0000"/><rect x="841" y="451" width="3" height="5" fill="#ff0000"/><rect x="846" y="443" width="1" height="23" fill="#ff0000"/><rect x="845" y="446" width="3" height="6" fill="#ff0000"/><rect x="850" y="429" width="1" height="27" fill="#00ff00"/><rect x="849" y="446" width="3" height="10" fill="#00ff00"/><rect x="854" y="451" width="1" height="19" fill="#ff0000"/><rect x="853" y="453" width="3" height="3" fill="#ff0000"/><rect x="858" y="449" width="1" height="13" fill="#00ff00"/><rect x="857" y="453" width="3" height="5" fill="#00ff00"/><rect x="862" y="453" width="1" height="13" fill="#00ff00"/><rect x="861" y="458" width="3" height="8" fill="#00ff00"/><rect x="866" y="458" width="1" height="8" fill="#ff0000"/><rect x="865" y="459" width="3" height="6" fill="#ff0000"/><rect x="870" y="454" width="1" height="18" fill="#00ff00"/><rect x="869" y="460" width="3" height="7" fill="#00ff00"/><rect x="874" y="449" width="1" height="19" fill="#ff0000"/><rect x="873" y="459" width="3" height="8" fill="#ff0000"/><rect x="878" y="454" width="1" height="12" fill="#00ff00"/><rect x="877" y="459" width="3" height="7" fill="#00ff00"/><rect x="882" y="464" width="1" height="4" fill="#00ff00"/><rect x="881" y="465" width="3" height="2" fill="#00ff00"/><rect x="886" y="468" width="1" height="12" fill="#00ff00"/><rect x="885" y="470" width="3" height="10" fill="#00ff00"/><rect x="890" y="473" width="1" height="7" fill="#ff0000"/><rect x="889" y="477" width="3" height="2" fill="#ff0000"/><rect x="894" y="473" width="1" height="21" fill="#00ff00"/><rect x="893" y="478" width="3" height="2" fill="#00ff00"/><rect x="898" y="475" width="1" height="28" fill="#00ff00"/><rect x="897" y="478" width="3" height="23" fill="#00ff00"/><rect x="902" y="490" width="1" height="20" fill="#ff0000"/><rect x="901" y="492" width="3" height="9" fill="#ff0000"/><rect x="906" y="460" width="1" height="33" fill="#ff0000"/><rect x="905" y="464" width="3" height="28" fill="#ff0000"/><rect x="910" y="460" width="1" height="14" fill="#00ff00"/><rect x="909" y="464" width="3" height="7" fill="#00ff00"/><rect x="914" y="462" width="1" height="12" fill="#ff0000"/><rect x="913" y="463" width="3" height="8" fill="#ff0000"/><rect x="918" y="451" width="1" height="15" fill="#ff0000"/><rect x="917" y="460" width="3" height="5" fill="#ff0000"/><rect x="922" y="450" width="1" height="22" fill="#00ff00"/><rect x="921" y="461" width="3" height="10" fill="#00ff00"/><rect x="926" y="466" width="1" height="18" fill="#00ff00"/><rect x="925" y="470" width="3" height="10" fill="#00ff00"/><rect x="930" y="478" width="1" height="17" fill="#00ff00"/><rect x="929" y="480" width="3" height="11" fill="#00ff00"/><rect x="934" y="485" width="1" height="9" fill="#ff0000"/><rect x="933" y="486" width="3" height="5" fill="#ff0000"/><rect x="938" y="478" width="1" height="11" fill="#ff0000"/><rect x="937" y="478" width="3" height="9" fill="#ff0000"/><rect x="942" y="466" width="1" height="15" fill="#ff0000"/><rect x="941" y="472" width="3" height="8" fill="#ff0000"/><rect x="946" y="433" width="1" height="47" fill="#ff0000"/><rect x="945" y="439" width="3" height="32" fill="#ff0000"/><rect x="950" y="429" width="1" height="18" fill="#ff0000"/><rect x="949" y="431" width="3" height="8" fill="#ff0000"/><rect x="954" y="429" width="1" height="14" fill="#00ff00"/><rect x="953" y="431" width="3" height="12" fill="#00ff00"/><rect x="958" y="428" width="1" height="14" fill="#ff0000"/><rect x="957" y="428" width="3" height="14" fill="#ff0000"/><rect x="962" y="426" width="1" height="6" fill="#ff0000"/><rect x="961" y="427" width="3" height="2" fill="#ff0000"/><rect x="966" y="422" width="1" height="19" fill="#ff0000"/><rect x="965" y="426" width="3" height="2" fill="#ff0000"/><rect x="970" y="420" width="1" height="44" fill="#00ff00"/><rect x="969" y="426" width="3" height="37" fill="#00ff00"/><rect x="974" y="446" width="1" height="18" fill="#ff0000"/><rect x="973" y="451" width="3" height="12" fill="#ff0000"/><rect x="978" y="451" width="1" height="12" fill="#00ff00"/><rect x="977" y="451" width="3" height="12" fill="#00ff00"/><rect x="982" y="447" width="1" height="16" fill="#ff0000"/><rect x="981" y="452" width="3" height="8" fill="#ff0000"/><rect x="986" y="442" width="1" height="15" fill="#ff0000"/><rect x="985" y="447" width="3" height="6" fill="#ff0000"/><rect x="990" y="439" width="1" height="20" fill="#00ff00"/><rect x="989" y="448" width="3" height="11" fill="#00ff00"/><rect x="994" y="448" width="1" height="21" fill="#00ff00"/><rect x="993" y="458" width="3" height="1" fill="#00ff00"/><rect x="998" y="457" width="1" height="14" fill="#00ff00"/><rect x="997" y="458" width="3" height="13" fill="#00ff00"/><rect x="1002" y="455" width="1" height="20" fill="#ff0000"/><rect x="1001" y="459" width="3" height="12" fill="#ff0000"/><rect x="1006" y="452" width="1" height="11" fill="#ff0000"/><rect x="1005" y="454" width="3" height="5" fill="#ff0000"/><rect x="1010" y="451" width="1" height="5" fill="#ff0000"/><rect x="1009" y="452" width="3" height="3" fill="#ff0000"/><rect x="1014" y="447" width="1" height="10" fill="#00ff00"/><rect x="1013" y="450" width="3" height="6" fill="#00ff00"/><rect x="1018" y="445" width="1" height="20" fill="#ff0000"/><rect x="1017" y="448" width="3" height="7" fill="#ff0000"/><rect x="1022" y="442" width="1" height="17" fill="#ff0000"/><rect x="1021" y="443" width="3" height="6" fill="#ff0000"/><rect x="1026" y="431" width="1" height="13" fill="#ff0000"/><rect x="1025" y="432" width="3" height="12" fill="#ff0000"/><rect x="1030" y="431" width="1" height="14" fill="#00ff00"/><rect x="1029" y="432" width="3" height="9" fill="#00ff00"/><rect x="1034" y="435" width="1" height="7" fill="#00ff00"/><rect x="1033" y="439" width="3" height="2" fill="#00ff00"/><rect x="1038" y="435" width="1" height="21" fill="#00ff00"/><rect x="1037" y="439" width="3" height="14" fill="#00ff00"/><rect x="1042" y="452" width="1" height="22" fill="#00ff00"/><rect x="1041" y="453" width="3" height="19" fill="#00ff00"/><rect x="1046" y="441" width="1" height="33" fill="#ff0000"/><rect x="1045" y="442" width="3" height="30" fill="#ff0000"/><rect x="1050" y="432" width="1" height="12" fill="#ff0000"/><rect x="1049" y="433" width="3" height="10" fill="#ff0000"/><rect x="1054" y="428" width="1" height="12" fill="#ff0000"/><rect x="1053" y="431" width="3" height="3" fill="#ff0000"/><rect x="1058" y="428" width="1" height="8" fill="#00ff00"/><rect x="1057" y="431" width="3" height="2" fill="#00ff00"/><rect x="1062" y="426" width="1" height="15" fill="#00ff00"/><rect x="1061" y="433" width="3" height="3" fill="#00ff00"/><rect x="1066" y="426" width="1" height="34" fill="#00ff00"/><rect x="1065" y="435" width="3" height="15" fill="#00ff00"/><rect x="1070" y="441" width="1" height="24" fill="#ff0000"/><rect x="1069" y="447" width="3" height="3" fill="#ff0000"/><rect x="1074" y="433" width="1" height="22" fill="#00ff00"/><rect x="1073" y="445" width="3" height="2" fill="#00ff00"/><rect x="1078" y="446" width="1" height="8" fill="#00ff00"/><rect x="1077" y="447" width="3" height="6" fill="#00ff00"/><rect x="1082" y="445" width="1" height="10" fill="#00ff00"/><rect x="1081" y="451" width="3" height="3" fill="#00ff00"/><rect x="1086" y="442" width="1" height="17" fill="#ff0000"/><rect x="1085" y="444" width="3" height="9" fill="#ff0000"/><rect x="1090" y="420" width="1" height="26" fill="#ff0000"/><rect x="1089" y="426" width="3" height="20" fill="#ff0000"/><rect x="1094" y="398" width="1" height="32" fill="#ff0000"/><rect x="1093" y="400" width="3" height="29" fill="#ff0000"/><rect x="1098" y="389" width="1" height="13" fill="#ff0000"/><rect x="1097" y="396" width="3" height="5" fill="#ff0000"/><rect x="1102" y="395" width="1" height="14" fill="#00ff00"/><rect x="1101" y="402" width="3" height="7" fill="#00ff00"/><rect x="1106" y="400" width="1" height="11" fill="#ff0000"/><rect x="1105" y="407" width="3" height="2" fill="#ff0000"/><rect x="1110" y="397" width="1" height="15" fill="#ff0000"/><rect x="1109" y="405" width="3" height="3" fill="#ff0000"/><rect x="1114" y="393" width="1" height="30" fill="#00ff00"/><rect x="1113" y="405" width="3" height="15" fill="#00ff00"/><rect x="1118" y="412" width="1" height="10" fill="#00ff00"/><rect x="1117" y="418" width="3" height="3" fill="#00ff00"/><rect x="1122" y="410" width="1" height="13" fill="#ff0000"/><rect x="1121" y="414" width="3" height="8" fill="#ff0000"/><rect x="1126" y="408" width="1" height="10" fill="#ff0000"/><rect x="1125" y="409" width="3" height="8" fill="#ff0000"/><rect x="1130" y="407" width="1" height="15" fill="#00ff00"/><rect x="1129" y="408" width="3" height="13" fill="#00ff00"/><rect x="1134" y="386" width="1" height="37" fill="#ff0000"/><rect x="1133" y="387" width="3" height="34" fill="#ff0000"/><rect x="1138" y="373" width="1" height="18" fill="#00ff00"/><rect x="1137" y="387" width="3" height="4" fill="#00ff00"/><rect x="1142" y="370" width="1" height="21" fill="#ff0000"/><rect x="1141" y="371" width="3" height="20" fill="#ff0000"/><rect x="1146" y="370" width="1" height="13" fill="#00ff00"/><rect x="1145" y="370" width="3" height="12" fill="#00ff00"/><rect x="1150" y="381" width="1" height="6" fill="#00ff00"/><rect x="1149" y="382" width="3" height="4" fill="#00ff00"/><rect x="1154" y="381" width="1" height="10" fill="#00ff00"/><rect x="1153" y="384" width="3" height="4" fill="#00ff00"/><rect x="1158" y="380" width="1" height="8" fill="#ff0000"/><rect x="1157" y="382" width="3" height="5" fill="#ff0000"/><rect x="1162" y="379" width="1" height="13" fill="#00ff00"/><rect x="1161" y="384" width="3" height="4" fill="#00ff00"/><rect x="1166" y="382" width="1" height="15" fill="#00ff00"/><rect x="1165" y="387" width="3" height="9" fill="#00ff00"/><rect x="1170" y="317" width="1" height="87" fill="#ff0000"/><rect x="1169" y="331" width="3" height="66" fill="#ff0000"/><rect x="1174" y="307" width="1" height="25" fill="#ff0000"/><rect x="1173" y="316" width="3" height="15" fill="#ff0000"/><rect x="1178" y="316" width="1" height="12" fill="#00ff00"/><rect x="1177" y="316" width="3" height="10" fill="#00ff00"/><rect x="1182" y="286" width="1" height="40" fill="#ff0000"/><rect x="1181" y="287" width="3" height="39" fill="#ff0000"/><rect x="1186" y="269" width="1" height="34" fill="#ff0000"/><rect x="1185" y="281" width="3" height="7" fill="#ff0000"/><rect x="1190" y="261" width="1" height="32" fill="#ff0000"/><rect x="1189" y="263" width="3" height="18" fill="#ff0000"/><rect x="1194" y="246" width="1" height="27" fill="#ff0000"/><rect x="1193" y="259" width="3" height="5" fill="#ff0000"/><rect x="1198" y="259" width="1" height="15" fill="#00ff00"/><rect x="1197" y="259" width="3" height="11" fill="#00ff00"/><rect x="1202" y="243" width="1" height="28" fill="#ff0000"/><rect x="1201" y="248" width="3" height="22" fill="#ff0000"/><rect x="1206" y="239" width="1" height="24" fill="#00ff00"/><rect x="1205" y="247" width="3" height="8" fill="#00ff00"/><rect x="1210" y="230" width="1" height="32" fill="#ff0000"/><rect x="1209" y="233" width="3" height="22" fill="#ff0000"/><rect x="1214" y="173" width="1" height="63" fill="#ff0000"/><rect x="1213" y="204" width="3" height="30" fill="#ff0000"/><rect x="1218" y="201" width="1" height="18" fill="#00ff00"/><rect x="1217" y="203" width="3" height="10" fill="#00ff00"/><rect x="1222" y="191" width="1" height="15" fill="#ff0000"/><rect x="1221" y="197" width="3" height="1" fill="#ff0000"/><rect x="1226" y="174" width="1" height="25" fill="#ff0000"/><rect x="1225" y="187" width="3" height="12" fill="#ff0000"/><rect x="1230" y="168" width="1" height="51" fill="#00ff00"/><rect x="1229" y="188" width="3" height="26" fill="#00ff00"/><rect x="1234" y="207" width="1" height="45" fill="#00ff00"/><rect x="1233" y="214" width="3" height="30" fill="#00ff00"/><rect x="1238" y="239" width="1" height="17" fill="#00ff00"/><rect x="1237" y="243" width="3" height="9" fill="#00ff00"/><rect x="1242" y="251" width="1" height="13" fill="#00ff00"/><rect x="1241" y="252" width="3" height="8" fill="#00ff00"/><rect x="1246" y="245" width="1" height="19" fill="#ff0000"/><rect x="1245" y="246" width="3" height="15" fill="#ff0000"/><rect x="1250" y="240" width="1" height="13" fill="#ff0000"/><rect x="1249" y="240" width="3" height="7" fill="#ff0000"/><rect x="1254" y="236" width="1" height="16" fill="#ff0000"/><rect x="1253" y="238" width="3" height="3" fill="#ff0000"/><rect x="1258" y="231" width="1" height="19" fill="#00ff00"/><rect x="1257" y="238" width="3" height="11" fill="#00ff00"/><rect x="1262" y="237" width="1" height="22" fill="#00ff00"/><rect x="1261" y="245" width="3" height="12" fill="#00ff00"/><rect x="1266" y="255" width="1" height="44" fill="#00ff00"/><rect x="1265" y="255" width="3" height="40" fill="#00ff00"/><rect x="1270" y="286" width="1" height="15" fill="#ff0000"/><rect x="1269" y="289" width="3" height="4" fill="#ff0000"/><rect x="1274" y="282" width="1" height="10" fill="#ff0000"/><rect x="1273" y="283" width="3" height="7" fill="#ff0000"/><rect x="1278" y="282" width="1" height="2" fill="#ff0000"/><rect x="1277" y="282" width="3" height="2" fill="#ff0000"/></g>
<g id="ma" clip-path="url(#cm)"><path fill="#0000cd" d="M2 109h1v1h-1zM3 109h1v1h-1zM4 108h1v1h-1zM5 108h1v1h-1zM6 108h1v1h-1zM7 108h1v1h-1zM8 108h1v1h-1zM9 108h1v1h-1zM10 108h1v1h-1zM11 108h1v1h-1zM12 109h1v1h-1zM13 109h1v1h-1zM14 109h1v1h-1zM15 109h1v1h-1zM16 110h1v1h-1zM17 110h1v1h-1zM18 110h1v1h-1zM19 110h1v1h-1zM20 110h1v1h-1zM21 110h1v1h-1zM22 110h1v1h-1zM23 110h1v1h-1zM24 110h1v1h-1zM25 110h1v1h-1zM26 110h1v1h-1zM27 110h1v1h-1zM28 111h1v1h-1zM29 111h1v1h-1zM30 111h1v1h-1zM31 111h1v1h-1zM32 110h1v1h-1zM33 110h1v1h-1zM34 110h1v1h-1zM35 110h1v1h-1zM36 110h1v1h-1zM37 110h1v1h-1zM38 110h1v1h-1zM39 110h1v1h-1zM40 109h1v1h-1zM41 109h1v1h-1zM42 109h1v1h-1zM43 109h1v1h-1zM44 108h1v1h-1zM45 108h1v1h-1zM46 108h1v1h-1zM47 108h1v1h-1zM48 107h1v1h-1zM49 107h1v1h-1zM50 107h1v1h-1zM51 107h1v1h-1zM52 106h1v1h-1zM53 106h1v1h-1zM54 106h1v1h-1zM55 106h1v1h-1zM56 105h1v1h-1zM57 105h1v1h-1zM58 105h1v1h-1zM59 105h1v1h-1zM60 105h1v1h-1zM61 105h1v1h-1zM62 105h1v1h-1zM63 105h1v1h-1zM64 105h1v1h-1zM65 105h1v1h-1zM66 105h1v1h-1zM67 105h1v1h-1zM68 106h1v1h-1zM69 106h1v1h-1zM70 106h1v1h-1zM71 106h1v1h-1zM72 107h1v1h-1zM73 107h1v1h-1zM74 107h1v1h-1zM75 107h1v1h-1zM76 108h1v1h-1zM77 108h1v1h-1zM78 108h1v1h-1zM79 108h1v1h-1zM80 109h1v1h-1zM81 109h1v1h-1zM82 109h1v1h-1zM83 110h1v1h-1zM84 110h1v1h-1zM85 111h1v1h-1zM86 111h1v1h-1zM87 112h1v1h-1zM88 112h1v1h-1zM89 113h1v1h-1zM90 113h1v1h-1zM91 114h1v1h-1zM92 114h1v1h-1zM93 115h1v1h-1zM94 115h1v1h-1zM95 116h1v1h-1zM96 117h1v1h-1zM97 117h1v1h-1zM98 118h1v1h-1zM99 119h1v1h-1zM100 120h1v1h-1zM101 120h1v1h-1zM102 121h1v1h-1zM103 122h1v1h-1zM104 122h1v1h-1zM105 123h1v1h-1zM106 123h1v1h-1zM107 123h1v1h-1zM108 124h1v1h-1zM109 124h1v1h-1zM110 124h1v1h-1zM111 124h1v1h-1zM112 125h1v1h-1zM113 125h1v1h-1zM114 125h1v1h-1zM115 125h1v1h-1zM116 126h1v1h-1zM117 126h1v1h-1zM118 126h1v1h-1zM119 126h1v1h-1zM120 127h1v1h-1zM121 127h1v1h-1zM122 127h1v1h-1zM123 128h1v1h-1zM124 128h1v1h-1zM125 129h1v1h-1zM126 129h1v1h-1zM127 129h1v1h-1zM128 130h1v1h-1zM129 130h1v1h-1zM130 130h1v1h-1zM131 130h1v1h-1zM132 131h1v1h-1zM133 131h1v1h-1zM134 131h1v1h-1zM135 131h1v1h-1zM136 132h1v1h-1zM137 132h1v1h-1zM138 132h1v1h-1zM139 132h1v1h-1zM140 133h1v1h-1zM141 133h1v1h-1zM142 133h1v1h-1zM143 133h1v1h-1zM144 134h1v1h-1zM145 134h1v1h-1zM146 134h1v1h-1zM147 135h1v1h-1zM148 135h1v1h-1zM149 136h1v1h-1zM150 136h1v1h-1zM151 136h1v1h-1zM152 137h1v1h-1zM153 137h1v1h-1zM154 137h1v1h-1zM155 137h1v1h-1zM156 137h1v1h-1zM157 137h1v1h-1zM158 137h1v1h-1zM159 137h1v1h-1zM160 138h1v1h-1zM161 138h1v1h-1zM162 138h1v1h-1zM163 139h1v1h-1zM164 139h1v1h-1zM165 140h1v1h-1zM166 140h1v1h-1zM167 141h1v1h-1zM168 141h1v1h-1zM169 142h1v1h-1zM170 142h1v1h-1zM171 143h1v1h-1zM172 143h1v1h-1zM173 144h1v1h-1zM174 144h1v1h-1zM175 144h1v1h-1zM176 145h1v1h-1zM177 145h1v1h-1zM178 145h1v1h-1zM179 145h1v1h-1zM180 144h1v1h-1zM181 144h1v1h-1zM182 144h1v1h-1zM183 143h1v1h-1zM184 143h1v1h-1zM185 142h1v1h-1zM186 142h1v1h-1zM187 142h1v1h-1zM188 141h1v1h-1zM189 141h1v1h-1zM190 141h1v1h-1zM191 140h1v1h-1zM192 140h1v1h-1zM193 139h1v1h-1zM194 139h1v1h-1zM195 139h1v1h-1zM196 138h1v1h-1zM197 138h1v1h-1zM198 138h1v1h-1zM199 137h1v1h-1zM200 137h1v1h-1zM201 136h1v1h-1zM202 136h1v1h-1zM203 136h1v1h-1zM204 137h1v1h-1zM205 137h1v1h-1zM206 137h1v1h-1zM207 137h1v1h-1zM208 137h1v1h-1zM209 137h1v1h-1zM210 137h1v1h-1zM211 137h1v1h-1zM212 138h1v1h-1zM213 138h1v1h-1zM214 138h1v1h-1zM215 138h1v1h-1zM216 138h1v1h-1zM217 138h1v1h-1zM218 138h1v1h-1zM219 138h1v1h-1zM220 138h1v1h-1zM221 138h1v1h-1zM222 138h1v1h-1zM223 138h1v1h-1zM224 138h1v1h-1zM225 138h1v1h-1zM226 138h1v1h-1zM227 138h1v1h-1zM228 139h1v1h-1zM229 139h1v1h-1zM230 139h1v1h-1zM231 139h1v1h-1zM232 140h1v1h-1zM233 140h1v1h-1zM234 140h1v1h-1zM235 141h1v1h-1zM236 141h1v1h-1zM237 142h1v1h-1zM238 142h1v1h-1zM239 142h1v1h-1zM240 143h1v1h-1zM241 143h1v1h-1zM242 143h1v1h-1zM243 143h1v1h-1zM244 143h1v1h-1zM245 143h1v1h-1zM246 143h1v1h-1zM247 143h1v1h-1zM248 144h1v1h-1zM249 144h1v1h-1zM250 144h1v1h-1zM251 144h1v1h-1zM252 144h1v1h-1zM253 144h1v1h-1zM254 144h1v1h-1zM255 144h1v1h-1zM256 145h1v1h-1zM257 145h1v1h-1zM258 145h1v1h-1zM259 145h1v1h-1zM260 146h1v1h-1zM261 146h1v1h-1zM262 146h1v1h-1zM263 146h1v1h-1zM264 147h1v1h-1zM265 147h1v1h-1zM266 147h1v1h-1zM267 147h1v1h-1zM268 148h1v1h-1zM269 148h1v1h-1zM270 148h1v1h-1zM271 149h1v1h-1zM272 150h1v1h-1zM273 150h1v1h-1zM274 151h1v1h-1zM275 152h1v1h-1zM276 153h1v1h-1zM277 153h1v1h-1zM278 154h1v1h-1zM279 155h1v1h-1zM280 156h1v1h-1zM281 156h1v1h-1zM282 157h1v1h-1zM283 158h1v1h-1zM284 158h1v1h-1zM285 159h1v1h-1zM286 159h1v1h-1zM287 160h1v1h-1zM288 160h1v1h-1zM289 161h1v1h-1zM290 161h1v1h-1zM291 162h1v1h-1zM292 163h1v1h-1zM293 163h1v1h-1zM294 164h1v1h-1zM295 165h1v1h-1zM296 166h1v1h-1zM297 166h1v1h-1zM298 167h1v1h-1zM299 168h1v1h-1zM300 169h1v1h-1zM301 170h1v1h-1zM302 171h1v1h-1zM303 172h1v1h-1zM304 173h1v2h-1zM305 175h1v1h-1zM306 176h1v1h-1zM307 177h1v1h-1zM308 178h1v2h-1zM309 180h1v1h-1zM310 181h1v1h-1zM311 182h1v1h-1zM312 183h1v1h-1zM313 184h1v1h-1zM314 185h1v1h-1zM315 186h1v1h-1zM316 187h1v2h-1zM317 189h1v1h-1zM318 190h1v1h-1zM319 191h1v2h-1zM320 193h1v1h-1zM321 194h1v2h-1zM322 196h1v1h-1zM323 197h1v1h-1zM324 198h1v1h-1zM325 198h1v1h-1zM326 199h1v1h-1zM327 200h1v1h-1zM328 201h1v1h-1zM329 202h1v1h-1zM330 203h1v1h-1zM331 204h1v1h-1zM332 205h1v2h-1zM333 207h1v1h-1zM334 208h1v1h-1zM335 209h1v1h-1zM336 210h1v2h-1zM337 212h1v1h-1zM338 213h1v1h-1zM339 214h1v1h-1zM340 215h1v1h-1zM341 216h1v1h-1zM342 217h1v1h-1zM343 218h1v1h-1zM344 219h1v2h-1zM345 221h1v1h-1zM346 222h1v1h-1zM347 223h1v1h-1zM348 224h1v1h-1zM349 225h1v1h-1zM350 226h1v1h-1zM351 227h1v2h-1zM352 229h1v1h-1zM353 230h1v2h-1zM354 232h1v1h-1zM355 233h1v1h-1zM356 234h1v2h-1zM357 236h1v1h-1zM358 237h1v1h-1zM359 238h1v1h-1zM360 239h1v2h-1zM361 241h1v1h-1zM362 242h1v1h-1zM363 243h1v1h-1zM364 244h1v1h-1zM365 245h1v1h-1zM366 246h1v1h-1zM367 247h1v2h-1zM368 249h1v1h-1zM369 250h1v2h-1zM370 252h1v1h-1zM371 253h1v1h-1zM372 254h1v2h-1zM373 256h1v1h-1zM374 257h1v1h-1zM375 258h1v1h-1zM376 259h1v1h-1zM377 260h1v1h-1zM378 261h1v1h-1zM379 262h1v1h-1zM380 263h1v1h-1zM381 264h1v1h-1zM382 265h1v1h-1zM383 266h1v1h-1zM384 267h1v1h-1zM385 268h1v1h-1zM386 269h1v1h-1zM387 270h1v1h-1zM388 271h1v1h-1zM389 271h1v1h-1zM390 272h1v1h-1zM391 273h1v1h-1zM392 274h1v1h-1zM393 274h1v1h-1zM394 275h1v1h-1zM395 276h1v1h-1zM396 277h1v1h-1zM397 277h1v1h-1zM398 278h1v1h-1zM399 279h1v1h-1zM400 279h1v1h-1zM401 280h1v1h-1zM402 280h1v1h-1zM403 281h1v1h-1zM404 282h1v1h-1zM405 282h1v1h-1zM406 283h1v1h-1zM407 284h1v1h-1zM408 285h1v1h-1zM409 285h1v1h-1zM410 286h1v1h-1zM411 287h1v1h-1zM412 287h1v1h-1zM413 288h1v1h-1zM414 288h1v1h-1zM415 289h1v1h-1zM416 289h1v1h-1zM417 290h1v1h-1zM418 290h1v1h-1zM419 291h1v1h-1zM420 291h1v1h-1zM421 292h1v1h-1zM422 292h1v1h-1zM423 293h1v1h-1zM424 293h1v1h-1zM425 294h1v1h-1zM426 294h1v1h-1zM427 295h1v1h-1zM428 296h1v1h-1zM429 296h1v1h-1zM430 297h1v1h-1zM431 298h1v1h-1zM432 298h1v1h-1zM433 299h1v1h-1zM434 299h1v1h-1zM435 300h1v1h-1zM436 301h1v1h-1zM437 301h1v1h-1zM438 302h1v1h-1zM439 303h1v1h-1zM440 304h1v1h-1zM441 304h1v1h-1zM442 305h1v1h-1zM443 306h1v1h-1zM444 306h1v1h-1zM445 307h1v1h-1zM446 307h1v1h-1zM447 307h1v1h-1zM448 308h1v1h-1zM449 308h1v1h-1zM450 308h1v1h-1zM451 308h1v1h-1zM452 309h1v1h-1zM453 309h1v1h-1zM454 309h1v1h-1zM455 309h1v1h-1zM456 310h1v1h-1zM457 310h1v1h-1zM458 310h1v1h-1zM459 310h1v1h-1zM460 311h1v1h-1zM461 311h1v1h-1zM462 311h1v1h-1zM463 312h1v1h-1zM464 313h1v1h-1zM465 313h1v1h-1zM466 314h1v1h-1zM467 315h1v1h-1zM468 315h1v1h-1zM469 316h1v1h-1zM470 316h1v1h-1zM471 317h1v1h-1zM472 318h1v1h-1zM473 318h1v1h-1zM474 319h1v1h-1zM475 320h1v1h-1zM476 321h1v1h-1zM477 321h1v1h-1zM478 322h1v1h-1zM479 323h1v1h-1zM480 323h1v1h-1zM481 324h1v1h-1zM482 324h1v1h-1zM483 325h1v1h-1zM484 326h1v1h-1zM485 326h1v1h-1zM486 327h1v1h-1zM487 328h1v1h-1zM488 328h1v1h-1zM489 329h1v1h-1zM490 329h1v1h-1zM491 330h1v1h-1zM492 331h1v1h-1zM493 332h1v1h-1zM494 333h1v1h-1zM495 334h1v1h-1zM496 335h1v1h-1zM497 335h1v1h-1zM498 336h1v1h-1zM499 337h1v1h-1zM500 338h1v1h-1zM501 339h1v1h-1zM502 340h1v1h-1zM503 341h1v1h-1zM504 342h1v2h-1zM505 344h1v1h-1zM506 345h1v1h-1zM507 346h1v1h-1zM508 347h1v2h-1zM509 349h1v1h-1zM510 350h1v1h-1zM511 351h1v1h-1zM512 352h1v1h-1zM513 353h1v1h-1zM514 354h1v1h-1zM515 355h1v1h-1zM516 356h1v1h-1zM517 357h1v1h-1zM518 358h1v1h-1zM519 359h1v1h-1zM520 360h1v2h-1zM521 362h1v1h-1zM522 363h1v1h-1zM523 364h1v1h-1zM524 365h1v1h-1zM525 366h1v1h-1zM526 367h1v1h-1zM527 368h1v1h-1zM528 369h1v2h-1zM529 371h1v1h-1zM530 372h1v1h-1zM531 373h1v1h-1zM532 374h1v2h-1zM533 376h1v1h-1zM534 377h1v1h-1zM535 378h1v2h-1zM536 380h1v1h-1zM537 381h1v2h-1zM538 383h1v1h-1zM539 384h1v1h-1zM540 385h1v2h-1zM541 387h1v1h-1zM542 388h1v1h-1zM543 389h1v1h-1zM544 390h1v2h-1zM545 392h1v1h-1zM546 393h1v1h-1zM547 394h1v1h-1zM548 395h1v1h-1zM549 396h1v1h-1zM550 397h1v1h-1zM551 398h1v1h-1zM552 399h1v1h-1zM553 400h1v1h-1zM554 401h1v1h-1zM555 402h1v1h-1zM556 403h1v2h-1zM557 405h1v1h-1zM558 406h1v1h-1zM559 407h1v1h-1zM560 408h1v2h-1zM561 410h1v1h-1zM562 411h1v1h-1zM563 412h1v1h-1zM564 413h1v1h-1zM565 414h1v1h-1zM566 415h1v1h-1zM567 416h1v1h-1zM568 417h1v1h-1zM569 417h1v1h-1zM570 418h1v1h-1zM571 419h1v1h-1zM572 420h1v1h-1zM573 421h1v1h-1zM574 422h1v1h-1zM575 423h1v1h-1zM576 424h1v1h-1zM577 424h1v1h-1zM578 425h1v1h-1zM579 426h1v1h-1zM580 426h1v1h-1zM581 427h1v1h-1zM582 427h1v1h-1zM583 428h1v1h-1zM584 428h1v1h-1zM585 429h1v1h-1zM586 429h1v1h-1zM587 429h1v1h-1zM588 430h1v1h-1zM589 430h1v1h-1zM590 430h1v1h-1zM591 430h1v1h-1zM592 430h1v1h-1zM593 430h1v1h-1zM594 430h1v1h-1zM595 430h1v1h-1zM596 430h1v1h-1zM597 430h1v1h-1zM598 430h1v1h-1zM599 430h1v1h-1zM600 430h1v1h-1zM601 430h1v1h-1zM602 430h1v1h-1zM603 430h1v1h-1zM604 431h1v1h-1zM605 431h1v1h-1zM606 431h1v1h-1zM607 431h1v1h-1zM608 432h1v1h-1zM609 432h1v1h-1zM610 432h1v1h-1zM611 432h1v1h-1zM612 433h1v1h-1zM613 433h1v1h-1zM614 433h1v1h-1zM615 433h1v1h-1zM616 434h1v1h-1zM617 434h1v1h-1zM618 434h1v1h-1zM619 434h1v1h-1zM620 434h1v1h-1zM621 434h1v1h-1zM622 434h1v1h-1zM623 434h1v1h-1zM624 433h1v1h-1zM625 433h1v1h-1zM626 433h1v1h-1zM627 433h1v1h-1zM628 434h1v1h-1zM629 434h1v1h-1zM630 434h1v1h-1zM631 434h1v1h-1zM632 434h1v1h-1zM633 434h1v1h-1zM634 434h1v1h-1zM635 434h1v1h-1zM636 434h1v1h-1zM637 434h1v1h-1zM638 434h1v1h-1zM639 434h1v1h-1zM640 435h1v1h-1zM641 435h1v1h-1zM642 435h1v1h-1zM643 435h1v1h-1zM644 436h1v1h-1zM645 436h1v1h-1zM646 436h1v1h-1zM647 436h1v1h-1zM648 437h1v1h-1zM649 437h1v1h-1zM650 437h1v1h-1zM651 438h1v1h-1zM652 438h1v1h-1zM653 439h1v1h-1zM654 439h1v1h-1zM655 439h1v1h-1zM656 440h1v1h-1zM657 440h1v1h-1zM658 440h1v1h-1zM659 440h1v1h-1zM660 440h1v1h-1zM661 440h1v1h-1zM662 440h1v1h-1zM663 440h1v1h-1zM664 441h1v1h-1zM665 441h1v1h-1zM666 441h1v1h-1zM667 441h1v1h-1zM668 442h1v1h-1zM669 442h1v1h-1zM670 442h1v1h-1zM671 442h1v1h-1zM672 443h1v1h-1zM673 443h1v1h-1zM674 443h1v1h-1zM675 443h1v1h-1zM676 443h1v1h-1zM677 443h1v1h-1zM678 443h1v1h-1zM679 443h1v1h-1zM680 443h1v1h-1zM681 443h1v1h-1zM682 443h1v1h-1zM683 443h1v1h-1zM684 443h1v1h-1zM685 443h1v1h-1zM686 443h1v1h-1zM687 443h1v1h-1zM688 444h1v1h-1zM689 444h1v1h-1zM690 444h1v1h-1zM691 444h1v1h-1zM692 443h1v1h-1zM693 443h1v1h-1zM694 443h1v1h-1zM695 443h1v1h-1zM696 444h1v1h-1zM697 444h1v1h-1zM698 444h1v1h-1zM699 444h1v1h-1zM700 444h1v1h-1zM701 444h1v1h-1zM702 444h1v1h-1zM703 444h1v1h-1zM704 445h1v1h-1zM705 445h1v1h-1zM706 445h1v1h-1zM707 446h1v1h-1zM708 446h1v1h-1zM709 447h1v1h-1zM710 447h1v1h-1zM711 448h1v1h-1zM712 449h1v1h-1zM713 449h1v1h-1zM714 450h1v1h-1zM715 451h1v1h-1zM716 451h1v1h-1zM717 452h1v1h-1zM718 452h1v1h-1zM719 453h1v1h-1zM720 453h1v1h-1zM721 454h1v1h-1zM722 454h1v1h-1zM723 455h1v1h-1zM724 455h1v1h-1zM725 456h1v1h-1zM726 456h1v1h-1zM727 456h1v1h-1zM728 457h1v1h-1zM729 457h1v1h-1zM730 457h1v1h-1zM731 457h1v1h-1zM732 458h1v1h-1zM733 458h1v1h-1zM734 458h1v1h-1zM735 459h1v1h-1zM736 459h1v1h-1zM737 460h1v1h-1zM738 460h1v1h-1zM739 460h1v1h-1zM740 461h1v1h-1zM741 461h1v1h-1zM742 461h1v1h-1zM743 461h1v1h-1zM744 462h1v1h-1zM745 462h1v1h-1zM746 462h1v1h-1zM747 462h1v1h-1zM748 463h1v1h-1zM749 463h1v1h-1zM750 463h1v1h-1zM751 463h1v1h-1zM752 463h1v1h-1zM753 463h1v1h-1zM754 463h1v1h-1zM755 463h1v1h-1zM756 463h1v1h-1zM757 463h1v1h-1zM758 463h1v1h-1zM759 463h1v1h-1zM760 463h1v1h-1zM761 463h1v1h-1zM762 463h1v1h-1zM763 463h1v1h-1zM764 464h1v1h-1zM765 464h1v1h-1zM766 464h1v1h-1zM767 464h1v1h-1zM768 464h1v1h-1zM769 464h1v1h-1zM770 464h1v1h-1zM771 464h1v1h-1zM772 463h1v1h-1zM773 463h1v1h-1zM774 463h1v1h-1zM775 463h1v1h-1zM776 463h1v1h-1zM777 463h1v1h-1zM778 463h1v1h-1zM779 463h1v1h-1zM780 463h1v1h-1zM781 463h1v1h-1zM782 463h1v1h-1zM783 463h1v1h-1zM784 463h1v1h-1zM785 463h1v1h-1zM786 463h1v1h-1zM787 463h1v1h-1zM788 463h1v1h-1zM789 463h1v1h-1zM790 463h1v1h-1zM791 463h1v1h-1zM792 464h1v1h-1zM793 464h1v1h-1zM794 464h1v1h-1zM795 464h1v1h-1zM796 464h1v1h-1zM797 464h1v1h-1zM798 464h1v1h-1zM799 464h1v1h-1zM800 463h1v1h-1zM801 463h1v1h-1zM802 463h1v1h-1zM803 463h1v1h-1zM804 462h1v1h-1zM805 462h1v1h-1zM806 462h1v1h-1zM807 462h1v1h-1zM808 463h1v1h-1zM809 463h1v1h-1zM810 463h1v1h-1zM811 463h1v1h-1zM812 462h1v1h-1zM813 462h1v1h-1zM814 462h1v1h-1zM815 462h1v1h-1zM816 462h1v1h-1zM817 462h1v1h-1zM818 462h1v1h-1zM819 462h1v1h-1zM820 463h1v1h-1zM821 463h1v1h-1zM822 463h1v1h-1zM823 463h1v1h-1zM824 462h1v1h-1zM825 462h1v1h-1zM826 462h1v1h-1zM827 462h1v1h-1zM828 462h1v1h-1zM829 462h1v1h-1zM830 462h1v1h-1zM831 462h1v1h-1zM832 462h1v1h-1zM833 462h1v1h-1zM834 462h1v1h-1zM835 462h1v1h-1zM836 462h1v1h-1zM837 462h1v1h-1zM838 462h1v1h-1zM839 462h1v1h-1zM840 461h1v1h-1zM841 461h1v1h-1zM842 461h1v1h-1zM843 461h1v1h-1zM844 460h1v1h-1zM845 460h1v1h-1zM846 460h1v1h-1zM847 460h1v1h-1zM848 460h1v1h-1zM849 460h1v1h-1zM850 460h1v1h-1zM851 460h1v1h-1zM852 459h1v1h-1zM853 459h1v1h-1zM854 459h1v1h-1zM855 459h1v1h-1zM856 459h1v1h-1zM857 459h1v1h-1zM858 459h1v1h-1zM859 459h1v1h-1zM860 459h1v1h-1zM861 459h1v1h-1zM862 459h1v1h-1zM863 459h1v1h-1zM864 459h1v1h-1zM865 459h1v1h-1zM866 459h1v1h-1zM867 459h1v1h-1zM868 459h1v1h-1zM869 459h1v1h-1zM870 459h1v1h-1zM871 459h1v1h-1zM872 458h1v1h-1zM873 458h1v1h-1zM874 458h1v1h-1zM875 458h1v1h-1zM876 459h1v1h-1zM877 459h1v1h-1zM878 459h1v1h-1zM879 459h1v1h-1zM880 458h1v1h-1zM881 458h1v1h-1zM882 458h1v1h-1zM883 458h1v1h-1zM884 458h1v1h-1zM885 458h1v1h-1zM886 458h1v1h-1zM887 458h1v1h-1zM888 458h1v1h-1zM889 458h1v1h-1zM890 458h1v1h-1zM891 458h1v1h-1zM892 458h1v1h-1zM893 458h1v1h-1zM894 458h1v1h-1zM895 458h1v1h-1zM896 458h1v1h-1zM897 458h1v1h-1zM898 458h1v1h-1zM899 458h1v1h-1zM900 459h1v1h-1zM901 459h1v1h-1zM902 459h1v1h-1zM903 459h1v1h-1zM904 459h1v1h-1zM905 459h1v1h-1zM906 459h1v1h-1zM907 459h1v1h-1zM908 459h1v1h-1zM909 459h1v1h-1zM910 459h1v1h-1zM911 459h1v1h-1zM912 459h1v1h-1zM913 459h1v1h-1zM914 459h1v1h-1zM915 459h1v1h-1zM916 459h1v1h-1zM917 459h1v1h-1zM918 459h1v1h-1zM919 459h1v1h-1zM920 460h1v1h-1zM921 460h1v1h-1zM922 460h1v1h-1zM923 460h1v1h-1zM924 461h1v1h-1zM925 461h1v1h-1zM926 461h1v1h-1zM927 462h1v1h-1zM928 462h1v1h-1zM929 463h1v1h-1zM930 463h1v1h-1zM931 464h1v1h-1zM932 464h1v1h-1zM933 465h1v1h-1zM934 465h1v1h-1zM935 466h1v1h-1zM936 466h1v1h-1zM937 467h1v1h-1zM938 467h1v1h-1zM939 467h1v1h-1zM940 468h1v1h-1zM941 468h1v1h-1zM942 468h1v1h-1zM943 468h1v1h-1zM944 468h1v1h-1zM945 468h1v1h-1zM946 468h1v1h-1zM947 467h1v1h-1zM948 467h1v1h-1zM949 466h1v1h-1zM950 466h1v1h-1zM951 466h1v1h-1zM952 466h1v1h-1zM953 466h1v1h-1zM954 466h1v1h-1zM955 466h1v1h-1zM956 465h1v1h-1zM957 465h1v1h-1zM958 465h1v1h-1zM959 465h1v1h-1zM960 464h1v1h-1zM961 464h1v1h-1zM962 464h1v1h-1zM963 464h1v1h-1zM964 463h1v1h-1zM965 463h1v1h-1zM966 463h1v1h-1zM967 463h1v1h-1zM968 463h1v1h-1zM969 463h1v1h-1zM970 463h1v1h-1zM971 463h1v1h-1zM972 463h1v1h-1zM973 463h1v1h-1zM974 463h1v1h-1zM975 463h1v1h-1zM976 463h1v1h-1zM977 463h1v1h-1zM978 463h1v1h-1zM979 463h1v1h-1zM980 463h1v1h-1zM981 463h1v1h-1zM982 463h1v1h-1zM983 463h1v1h-1zM984 463h1v1h-1zM985 463h1v1h-1zM986 463h1v1h-1zM987 463h1v1h-1zM988 462h1v1h-1zM989 462h1v1h-1zM990 462h1v1h-1zM991 462h1v1h-1zM992 462h1v1h-1zM993 462h1v1h-1zM994 462h1v1h-1zM995 462h1v1h-1zM996 463h1v1h-1zM997 463h1v1h-1zM998 463h1v1h-1zM999 463h1v1h-1zM1000 462h1v1h-1zM1001 462h1v1h-1zM1002 462h1v1h-1zM1003 462h1v1h-1zM1004 461h1v1h-1zM1005 461h1v1h-1zM1006 461h1v1h-1zM1007 461h1v1h-1zM1008 461h1v1h-1zM1009 461h1v1h-1zM1010 461h1v1h-1zM1011 461h1v1h-1zM1012 460h1v1h-1zM1013 460h1v1h-1zM1014 460h1v1h-1zM1015 459h1v1h-1zM1016 459h1v1h-1zM1017 458h1v1h-1zM1018 458h1v1h-1zM1019 458h1v1h-1zM1020 457h1v1h-1zM1021 457h1v1h-1zM1022 457h1v1h-1zM1023 456h1v1h-1zM1024 456h1v1h-1zM1025 455h1v1h-1zM1026 455h1v1h-1zM1027 455h1v1h-1zM1028 454h1v1h-1zM1029 454h1v1h-1zM1030 454h1v1h-1zM1031 454h1v1h-1zM1032 454h1v1h-1zM1033 454h1v1h-1zM1034 454h1v1h-1zM1035 454h1v1h-1zM1036 453h1v1h-1zM1037 453h1v1h-1zM1038 453h1v1h-1zM1039 453h1v1h-1zM1040 453h1v1h-1zM1041 453h1v1h-1zM1042 453h1v1h-1zM1043 453h1v1h-1zM1044 452h1v1h-1zM1045 452h1v1h-1zM1046 452h1v1h-1zM1047 451h1v1h-1zM1048 451h1v1h-1zM1049 450h1v1h-1zM1050 450h1v1h-1zM1051 450h1v1h-1zM1052 449h1v1h-1zM1053 449h1v1h-1zM1054 449h1v1h-1zM1055 448h1v1h-1zM1056 448h1v1h-1zM1057 447h1v1h-1zM1058 447h1v1h-1zM1059 447h1v1h-1zM1060 446h1v1h-1zM1061 446h1v1h-1zM1062 446h1v1h-1zM1063 446h1v1h-1zM1064 446h1v1h-1zM1065 446h1v1h-1zM1066 446h1v1h-1zM1067 446h1v1h-1zM1068 447h1v1h-1zM1069 447h1v1h-1zM1070 447h1v1h-1zM1071 447h1v1h-1zM1072 447h1v1h-1zM1073 447h1v1h-1zM1074 447h1v1h-1zM1075 447h1v1h-1zM1076 448h1v1h-1zM1077 448h1v1h-1zM1078 448h1v1h-1zM1079 448h1v1h-1zM1080 448h1v1h-1zM1081 448h1v1h-1zM1082 448h1v1h-1zM1083 448h1v1h-1zM1084 449h1v1h-1zM1085 449h1v1h-1zM1086 449h1v1h-1zM1087 449h1v1h-1zM1088 448h1v1h-1zM1089 448h1v1h-1zM1090 448h1v1h-1zM1091 447h1v1h-1zM1092 447h1v1h-1zM1093 446h1v1h-1zM1094 446h1v1h-1zM1095 445h1v1h-1zM1096 445h1v1h-1zM1097 444h1v1h-1zM1098 444h1v1h-1zM1099 443h1v1h-1zM1100 443h1v1h-1zM1101 442h1v1h-1zM1102 442h1v1h-1zM1103 442h1v1h-1zM1104 441h1v1h-1zM1105 441h1v1h-1zM1106 441h1v1h-1zM1107 440h1v1h-1zM1108 440h1v1h-1zM1109 439h1v1h-1zM1110 439h1v1h-1zM1111 439h1v1h-1zM1112 438h1v1h-1zM1113 438h1v1h-1zM1114 438h1v1h-1zM1115 437h1v1h-1zM1116 437h1v1h-1zM1117 436h1v1h-1zM1118 436h1v1h-1zM1119 436h1v1h-1zM1120 435h1v1h-1zM1121 435h1v1h-1zM1122 435h1v1h-1zM1123 434h1v1h-1zM1124 434h1v1h-1zM1125 433h1v1h-1zM1126 433h1v1h-1zM1127 433h1v1h-1zM1128 432h1v1h-1zM1129 432h1v1h-1zM1130 432h1v1h-1zM1131 431h1v1h-1zM1132 431h1v1h-1zM1133 430h1v1h-1zM1134 430h1v1h-1zM1135 429h1v1h-1zM1136 429h1v1h-1zM1137 428h1v1h-1zM1138 428h1v1h-1zM1139 427h1v1h-1zM1140 427h1v1h-1zM1141 426h1v1h-1zM1142 426h1v1h-1zM1143 425h1v1h-1zM1144 425h1v1h-1zM1145 424h1v1h-1zM1146 424h1v1h-1zM1147 423h1v1h-1zM1148 423h1v1h-1zM1149 422h1v1h-1zM1150 422h1v1h-1zM1151 421h1v1h-1zM1152 421h1v1h-1zM1153 420h1v1h-1zM1154 420h1v1h-1zM1155 419h1v1h-1zM1156 419h1v1h-1zM1157 418h1v1h-1zM1158 418h1v1h-1zM1159 417h1v1h-1zM1160 416h1v1h-1zM1161 416h1v1h-1zM1162 415h1v1h-1zM1163 415h1v1h-1zM1164 414h1v1h-1zM1165 414h1v1h-1zM1166 414h1v1h-1zM1167 413h1v1h-1zM1168 412h1v1h-1zM1169 411h1v1h-1zM1170 410h1v1h-1zM1171 409h1v1h-1zM1172 408h1v1h-1zM1173 407h1v1h-1zM1174 406h1v1h-1zM1175 405h1v1h-1zM1176 404h1v1h-1zM1177 404h1v1h-1zM1178 403h1v1h-1zM1179 402h1v1h-1zM1180 400h1v2h-1zM1181 399h1v1h-1zM1182 398h1v1h-1zM1183 396h1v2h-1zM1184 395h1v1h-1zM1185 393h1v2h-1zM1186 392h1v1h-1zM1187 390h1v2h-1zM1188 389h1v1h-1zM1189 387h1v2h-1zM1190 386h1v1h-1zM1191 384h1v2h-1zM1192 383h1v1h-1zM1193 381h1v2h-1zM1194 380h1v1h-1zM1195 378h1v2h-1zM1196 377h1v1h-1zM1197 375h1v2h-1zM1198 374h1v1h-1zM1199 372h1v2h-1zM1200 370h1v2h-1zM1201 368h1v2h-1zM1202 367h1v1h-1zM1203 365h1v2h-1zM1204 364h1v1h-1zM1205 362h1v2h-1zM1206 361h1v1h-1zM1207 359h1v2h-1zM1208 357h1v2h-1zM1209 355h1v2h-1zM1210 354h1v1h-1zM1211 352h1v2h-1zM1212 351h1v1h-1zM1213 349h1v2h-1zM1214 348h1v1h-1zM1215 346h1v2h-1zM1216 345h1v1h-1zM1217 343h1v2h-1zM1218 342h1v1h-1zM1219 340h1v2h-1zM1220 338h1v2h-1zM1221 336h1v2h-1zM1222 335h1v1h-1zM1223 333h1v2h-1zM1224 331h1v2h-1zM1225 329h1v2h-1zM1226 327h1v2h-1zM1227 325h1v2h-1zM1228 324h1v1h-1zM1229 322h1v2h-1zM1230 321h1v1h-1zM1231 319h1v2h-1zM1232 318h1v1h-1zM1233 316h1v2h-1zM1234 315h1v1h-1zM1235 313h1v2h-1zM1236 312h1v1h-1zM1237 310h1v2h-1zM1238 309h1v1h-1zM1239 308h1v1h-1zM1240 306h1v2h-1zM1241 305h1v1h-1zM1242 304h1v1h-1zM1243 303h1v1h-1zM1244 301h1v2h-1zM1245 300h1v1h-1zM1246 299h1v1h-1zM1247 297h1v2h-1zM1248 296h1v1h-1zM1249 294h1v2h-1zM1250 293h1v1h-1zM1251 292h1v1h-1zM1252 290h1v2h-1zM1253 289h1v1h-1zM1254 288h1v1h-1zM1255 287h1v1h-1zM1256 285h1v2h-1zM1257 284h1v1h-1zM1258 283h1v1h-1zM1259 282h1v1h-1zM1260 281h1v1h-1zM1261 280h1v1h-1zM1262 279h1v1h-1zM1263 278h1v1h-1zM1264 277h1v1h-1zM1265 277h1v1h-1zM1266 276h1v1h-1zM1267 275h1v1h-1zM1268 274h1v1h-1zM1269 274h1v1h-1zM1270 273h1v1h-1zM1271 272h1v1h-1zM1272 271h1v1h-1zM1273 271h1v1h-1zM1274 270h1v1h-1zM1275 269h1v1h-1zM1276 268h1v1h-1zM1277 267h1v1h-1z"/><path fill="#ff0000" d="M2 91h1v1h-1zM3 90h1v1h-1zM4 90h1v1h-1zM5 89h1v1h-1zM6 89h1v1h-1zM7 90h1v1h-1zM8 91h1v1h-1zM9 91h1v1h-1zM10 92h1v1h-1zM11 93h1v1h-1zM12 94h1v1h-1zM13 94h1v1h-1zM14 95h1v1h-1zM15 96h1v1h-1zM16 97h1v1h-1zM17 97h1v1h-1zM18 98h1v1h-1zM19 99h1v1h-1zM20 99h1v1h-1zM21 100h1v1h-1zM22 100h1v1h-1zM23 101h1v1h-1zM24 102h1v1h-1zM25 102h1v1h-1zM26 103h1v1h-1zM27 104h1v1h-1zM28 105h1v1h-1zM29 105h1v1h-1zM30 106h1v1h-1zM31 107h1v1h-1zM32 108h1v1h-1zM33 108h1v1h-1zM34 109h1v1h-1zM35 110h1v1h-1zM36 111h1v2h-1zM37 113h1v1h-1zM38 114h1v1h-1zM39 114h1v1h-1zM40 115h1v1h-1zM41 115h1v1h-1zM42 115h1v1h-1zM43 115h1v1h-1zM44 116h1v1h-1zM45 116h1v1h-1zM46 116h1v1h-1zM47 116h1v1h-1zM48 115h1v1h-1zM49 115h1v1h-1zM50 115h1v1h-1zM51 115h1v1h-1zM52 114h1v1h-1zM53 114h1v1h-1zM54 114h1v1h-1zM55 114h1v1h-1zM56 115h1v1h-1zM57 115h1v1h-1zM58 115h1v1h-1zM59 116h1v1h-1zM60 117h1v1h-1zM61 117h1v1h-1zM62 118h1v1h-1zM63 118h1v1h-1zM64 119h1v1h-1zM65 119h1v1h-1zM66 119h1v1h-1zM67 119h1v1h-1zM68 119h1v1h-1zM69 119h1v1h-1zM70 119h1v1h-1zM71 119h1v1h-1zM72 118h1v1h-1zM73 118h1v1h-1zM74 118h1v1h-1zM75 118h1v1h-1zM76 119h1v1h-1zM77 119h1v1h-1zM78 119h1v1h-1zM79 119h1v1h-1zM80 119h1v1h-1zM81 119h1v1h-1zM82 119h1v1h-1zM83 119h1v1h-1zM84 120h1v1h-1zM85 120h1v1h-1zM86 120h1v1h-1zM87 121h1v1h-1zM88 122h1v1h-1zM89 122h1v1h-1zM90 123h1v1h-1zM91 124h1v1h-1zM92 124h1v1h-1zM93 125h1v1h-1zM94 125h1v1h-1zM95 126h1v1h-1zM96 126h1v1h-1zM97 127h1v1h-1zM98 127h1v1h-1zM99 128h1v1h-1zM100 129h1v1h-1zM101 130h1v1h-1zM102 131h1v1h-1zM103 132h1v1h-1zM104 133h1v1h-1zM105 133h1v1h-1zM106 134h1v1h-1zM107 135h1v1h-1zM108 136h1v1h-1zM109 136h1v1h-1zM110 137h1v1h-1zM111 137h1v1h-1zM112 138h1v1h-1zM113 138h1v1h-1zM114 138h1v1h-1zM115 138h1v1h-1zM116 138h1v1h-1zM117 138h1v1h-1zM118 138h1v1h-1zM119 138h1v1h-1zM120 138h1v1h-1zM121 138h1v1h-1zM122 138h1v1h-1zM123 139h1v1h-1zM124 139h1v1h-1zM125 140h1v1h-1zM126 140h1v1h-1zM127 140h1v1h-1zM128 141h1v1h-1zM129 141h1v1h-1zM130 141h1v1h-1zM131 142h1v1h-1zM132 142h1v1h-1zM133 143h1v1h-1zM134 143h1v1h-1zM135 144h1v1h-1zM136 145h1v1h-1zM137 145h1v1h-1zM138 146h1v1h-1zM139 146h1v1h-1zM140 146h1v1h-1zM141 146h1v1h-1zM142 146h1v1h-1zM143 146h1v1h-1zM144 147h1v1h-1zM145 147h1v1h-1zM146 147h1v1h-1zM147 148h1v1h-1zM148 148h1v1h-1zM149 149h1v1h-1zM150 149h1v1h-1zM151 149h1v1h-1zM152 150h1v1h-1zM153 150h1v1h-1zM154 150h1v1h-1zM155 149h1v1h-1zM156 149h1v1h-1zM157 148h1v1h-1zM158 148h1v1h-1zM159 148h1v1h-1zM160 147h1v1h-1zM161 147h1v1h-1zM162 147h1v1h-1zM163 148h1v1h-1zM164 148h1v1h-1zM165 149h1v1h-1zM166 149h1v1h-1zM167 150h1v1h-1zM168 150h1v1h-1zM169 151h1v1h-1zM170 151h1v1h-1zM171 152h1v1h-1zM172 152h1v1h-1zM173 153h1v1h-1zM174 153h1v1h-1zM175 153h1v1h-1zM176 153h1v1h-1zM177 153h1v1h-1zM178 153h1v1h-1zM179 152h1v1h-1zM180 151h1v1h-1zM181 151h1v1h-1zM182 150h1v1h-1zM183 149h1v1h-1zM184 147h1v2h-1zM185 146h1v1h-1zM186 145h1v1h-1zM187 143h1v2h-1zM188 142h1v1h-1zM189 140h1v2h-1zM190 139h1v1h-1zM191 138h1v1h-1zM192 136h1v2h-1zM193 135h1v1h-1zM194 134h1v1h-1zM195 133h1v1h-1zM196 132h1v1h-1zM197 131h1v1h-1zM198 130h1v1h-1zM199 128h1v2h-1zM200 126h1v2h-1zM201 124h1v2h-1zM202 123h1v1h-1zM203 123h1v1h-1zM204 123h1v1h-1zM205 123h1v1h-1zM206 123h1v1h-1zM207 123h1v1h-1zM208 124h1v1h-1zM209 124h1v1h-1zM210 124h1v1h-1zM211 125h1v1h-1zM212 125h1v1h-1zM213 126h1v1h-1zM214 126h1v1h-1zM215 126h1v1h-1zM216 126h1v1h-1zM217 126h1v1h-1zM218 126h1v1h-1zM219 126h1v1h-1zM220 127h1v1h-1zM221 127h1v1h-1zM222 127h1v1h-1zM223 127h1v1h-1zM224 126h1v1h-1zM225 126h1v1h-1zM226 126h1v1h-1zM227 126h1v1h-1zM228 127h1v1h-1zM229 127h1v1h-1zM230 127h1v1h-1zM231 127h1v1h-1zM232 128h1v1h-1zM233 128h1v1h-1zM234 128h1v1h-1zM235 129h1v1h-1zM236 130h1v2h-1zM237 132h1v1h-1zM238 133h1v1h-1zM239 134h1v2h-1zM240 136h1v2h-1zM241 138h1v2h-1zM242 140h1v1h-1zM243 141h1v2h-1zM244 143h1v1h-1zM245 144h1v2h-1zM246 146h1v1h-1zM247 147h1v1h-1zM248 148h1v2h-1zM249 150h1v1h-1zM250 151h1v1h-1zM251 152h1v1h-1zM252 153h1v2h-1zM253 155h1v1h-1zM254 156h1v1h-1zM255 157h1v2h-1zM256 159h1v2h-1zM257 161h1v2h-1zM258 163h1v2h-1zM259 165h1v1h-1zM260 165h1v1h-1zM261 166h1v1h-1zM262 166h1v1h-1zM263 166h1v1h-1zM264 167h1v1h-1zM265 167h1v1h-1zM266 167h1v1h-1zM267 168h1v1h-1zM268 169h1v1h-1zM269 169h1v1h-1zM270 170h1v1h-1zM271 171h1v2h-1zM272 173h1v1h-1zM273 174h1v2h-1zM274 176h1v1h-1zM275 177h1v1h-1zM276 178h1v2h-1zM277 180h1v1h-1zM278 181h1v1h-1zM279 182h1v2h-1zM280 184h1v1h-1zM281 185h1v2h-1zM282 187h1v1h-1zM283 188h1v1h-1zM284 189h1v1h-1zM285 190h1v1h-1zM286 191h1v1h-1zM287 192h1v2h-1zM288 194h1v1h-1zM289 195h1v2h-1zM290 197h1v1h-1zM291 198h1v1h-1zM292 199h1v1h-1zM293 199h1v1h-1zM294 200h1v1h-1zM295 201h1v1h-1zM296 202h1v1h-1zM297 203h1v1h-1zM298 204h1v1h-1zM299 205h1v1h-1zM300 206h1v2h-1zM301 208h1v1h-1zM302 209h1v1h-1zM303 210h1v1h-1zM304 211h1v2h-1zM305 213h1v1h-1zM306 214h1v1h-1zM307 215h1v1h-1zM308 216h1v1h-1zM309 217h1v1h-1zM310 218h1v1h-1zM311 219h1v1h-1zM312 220h1v1h-1zM313 221h1v1h-1zM314 222h1v1h-1zM315 223h1v1h-1zM316 223h1v1h-1zM317 224h1v1h-1zM318 224h1v1h-1zM319 225h1v1h-1zM320 226h1v1h-1zM321 227h1v1h-1zM322 228h1v1h-1zM323 229h1v1h-1zM324 230h1v2h-1zM325 232h1v1h-1zM326 233h1v1h-1zM327 234h1v1h-1zM328 235h1v1h-1zM329 235h1v1h-1zM330 236h1v1h-1zM331 237h1v2h-1zM332 239h1v1h-1zM333 240h1v2h-1zM334 242h1v1h-1zM335 243h1v1h-1zM336 244h1v2h-1zM337 246h1v1h-1zM338 247h1v1h-1zM339 248h1v1h-1zM340 249h1v1h-1zM341 250h1v1h-1zM342 251h1v1h-1zM343 252h1v1h-1zM344 253h1v2h-1zM345 255h1v1h-1zM346 256h1v1h-1zM347 257h1v2h-1zM348 259h1v1h-1zM349 260h1v2h-1zM350 262h1v1h-1zM351 263h1v2h-1zM352 265h1v1h-1zM353 266h1v2h-1zM354 268h1v1h-1zM355 269h1v2h-1zM356 271h1v1h-1zM357 272h1v2h-1zM358 274h1v1h-1zM359 275h1v2h-1zM360 277h1v1h-1zM361 278h1v2h-1zM362 280h1v1h-1zM363 281h1v2h-1zM364 283h1v2h-1zM365 285h1v2h-1zM366 287h1v1h-1zM367 288h1v2h-1zM368 290h1v1h-1zM369 291h1v2h-1zM370 293h1v1h-1zM371 294h1v2h-1zM372 296h1v1h-1zM373 297h1v2h-1zM374 299h1v1h-1zM375 300h1v1h-1zM376 301h1v2h-1zM377 303h1v1h-1zM378 304h1v1h-1zM379 305h1v1h-1zM380 306h1v1h-1zM381 306h1v1h-1zM382 307h1v1h-1zM383 307h1v1h-1zM384 308h1v1h-1zM385 308h1v1h-1zM386 308h1v1h-1zM387 308h1v1h-1zM388 307h1v1h-1zM389 307h1v1h-1zM390 307h1v1h-1zM391 308h1v1h-1zM392 308h1v1h-1zM393 309h1v1h-1zM394 309h1v1h-1zM395 310h1v1h-1zM396 310h1v1h-1zM397 311h1v1h-1zM398 311h1v1h-1zM399 312h1v1h-1zM400 312h1v1h-1zM401 313h1v1h-1zM402 313h1v1h-1zM403 313h1v1h-1zM404 313h1v1h-1zM405 313h1v1h-1zM406 313h1v1h-1zM407 313h1v1h-1zM408 312h1v1h-1zM409 312h1v1h-1zM410 312h1v1h-1zM411 311h1v1h-1zM412 311h1v1h-1zM413 310h1v1h-1zM414 310h1v1h-1zM415 309h1v1h-1zM416 309h1v1h-1zM417 308h1v1h-1zM418 308h1v1h-1zM419 307h1v1h-1zM420 307h1v1h-1zM421 306h1v1h-1zM422 306h1v1h-1zM423 305h1v1h-1zM424 305h1v1h-1zM425 304h1v1h-1zM426 304h1v1h-1zM427 304h1v1h-1zM428 304h1v1h-1zM429 304h1v1h-1zM430 304h1v1h-1zM431 304h1v1h-1zM432 304h1v1h-1zM433 304h1v1h-1zM434 304h1v1h-1zM435 304h1v1h-1zM436 304h1v1h-1zM437 304h1v1h-1zM438 304h1v1h-1zM439 305h1v1h-1zM440 305h1v1h-1zM441 306h1v1h-1zM442 306h1v1h-1zM443 307h1v1h-1zM444 307h1v1h-1zM445 308h1v1h-1zM446 308h1v1h-1zM447 308h1v1h-1zM448 308h1v1h-1zM449 308h1v1h-1zM450 308h1v1h-1zM451 308h1v1h-1zM452 309h1v1h-1zM453 309h1v1h-1zM454 309h1v1h-1zM455 309h1v1h-1zM456 309h1v1h-1zM457 309h1v1h-1zM458 309h1v1h-1zM459 310h1v1h-1zM460 311h1v1h-1zM461 311h1v1h-1zM462 312h1v1h-1zM463 313h1v1h-1zM464 314h1v1h-1zM465 315h1v1h-1zM466 316h1v1h-1zM467 317h1v2h-1zM468 319h1v1h-1zM469 320h1v2h-1zM470 322h1v1h-1zM471 323h1v2h-1zM472 325h1v2h-1zM473 327h1v2h-1zM474 329h1v3h-1zM475 332h1v2h-1zM476 334h1v2h-1zM477 336h1v2h-1zM478 338h1v2h-1zM479 340h1v2h-1zM480 342h1v2h-1zM481 344h1v2h-1zM482 346h1v1h-1zM483 347h1v1h-1zM484 348h1v2h-1zM485 350h1v1h-1zM486 351h1v1h-1zM487 352h1v2h-1zM488 354h1v2h-1zM489 356h1v2h-1zM490 358h1v1h-1zM491 359h1v2h-1zM492 361h1v2h-1zM493 363h1v2h-1zM494 365h1v1h-1zM495 366h1v2h-1zM496 368h1v2h-1zM497 370h1v2h-1zM498 372h1v1h-1zM499 373h1v2h-1zM500 375h1v2h-1zM501 377h1v2h-1zM502 379h1v2h-1zM503 381h1v2h-1zM504 383h1v2h-1zM505 385h1v2h-1zM506 387h1v2h-1zM507 389h1v2h-1zM508 391h1v2h-1zM509 393h1v2h-1zM510 395h1v2h-1zM511 397h1v2h-1zM512 399h1v2h-1zM513 401h1v2h-1zM514 403h1v2h-1zM515 405h1v2h-1zM516 407h1v2h-1zM517 409h1v2h-1zM518 411h1v2h-1zM519 413h1v2h-1zM520 415h1v1h-1zM521 416h1v2h-1zM522 418h1v1h-1zM523 419h1v1h-1zM524 420h1v1h-1zM525 421h1v1h-1zM526 422h1v1h-1zM527 423h1v1h-1zM528 424h1v1h-1zM529 425h1v1h-1zM530 426h1v1h-1zM531 427h1v1h-1zM532 427h1v1h-1zM533 428h1v1h-1zM534 428h1v1h-1zM535 429h1v1h-1zM536 430h1v2h-1zM537 432h1v1h-1zM538 433h1v1h-1zM539 434h1v1h-1zM540 435h1v1h-1zM541 436h1v1h-1zM542 437h1v1h-1zM543 438h1v1h-1zM544 439h1v1h-1zM545 439h1v1h-1zM546 440h1v1h-1zM547 441h1v1h-1zM548 441h1v1h-1zM549 442h1v1h-1zM550 442h1v1h-1zM551 442h1v1h-1zM552 443h1v1h-1zM553 443h1v1h-1zM554 443h1v1h-1zM555 444h1v1h-1zM556 444h1v1h-1zM557 445h1v1h-1zM558 445h1v1h-1zM559 445h1v1h-1zM560 446h1v1h-1zM561 446h1v1h-1zM562 446h1v1h-1zM563 446h1v1h-1zM564 447h1v1h-1zM565 447h1v1h-1zM566 447h1v1h-1zM567 446h1v1h-1zM568 446h1v1h-1zM569 445h1v1h-1zM570 445h1v1h-1zM571 445h1v1h-1zM572 444h1v1h-1zM573 444h1v1h-1zM574 444h1v1h-1zM575 443h1v1h-1zM576 443h1v1h-1zM577 442h1v1h-1zM578 442h1v1h-1zM579 441h1v1h-1zM580 441h1v1h-1zM581 440h1v1h-1zM582 440h1v1h-1zM583 439h1v1h-1zM584 439h1v1h-1zM585 438h1v1h-1zM586 438h1v1h-1zM587 437h1v1h-1zM588 437h1v1h-1zM589 436h1v1h-1zM590 436h1v1h-1zM591 435h1v1h-1zM592 434h1v1h-1zM593 433h1v1h-1zM594 432h1v1h-1zM595 431h1v1h-1zM596 430h1v1h-1zM597 429h1v1h-1zM598 428h1v1h-1zM599 427h1v1h-1zM600 426h1v1h-1zM601 426h1v1h-1zM602 425h1v1h-1zM603 424h1v1h-1zM604 424h1v1h-1zM605 423h1v1h-1zM606 423h1v1h-1zM607 424h1v1h-1zM608 424h1v1h-1zM609 425h1v1h-1zM610 425h1v1h-1zM611 424h1v1h-1zM612 424h1v1h-1zM613 423h1v1h-1zM614 423h1v1h-1zM615 422h1v1h-1zM616 422h1v1h-1zM617 421h1v1h-1zM618 421h1v1h-1zM619 421h1v1h-1zM620 420h1v1h-1zM621 420h1v1h-1zM622 420h1v1h-1zM623 420h1v1h-1zM624 421h1v1h-1zM625 421h1v1h-1zM626 421h1v1h-1zM627 421h1v1h-1zM628 421h1v1h-1zM629 421h1v1h-1zM630 421h1v1h-1zM631 422h1v1h-1zM632 423h1v1h-1zM633 423h1v1h-1zM634 424h1v1h-1zM635 425h1v1h-1zM636 426h1v1h-1zM637 426h1v1h-1zM638 427h1v1h-1zM639 428h1v1h-1zM640 429h1v1h-1zM641 429h1v1h-1zM642 430h1v1h-1zM643 431h1v1h-1zM644 432h1v2h-1zM645 434h1v1h-1zM646 435h1v1h-1zM647 436h1v2h-1zM648 438h1v1h-1zM649 439h1v2h-1zM650 441h1v1h-1zM651 442h1v2h-1zM652 444h1v1h-1zM653 445h1v2h-1zM654 447h1v1h-1zM655 448h1v2h-1zM656 450h1v1h-1zM657 451h1v2h-1zM658 453h1v1h-1zM659 454h1v1h-1zM660 455h1v1h-1zM661 456h1v1h-1zM662 457h1v1h-1zM663 458h1v1h-1zM664 458h1v1h-1zM665 459h1v1h-1zM666 459h1v1h-1zM667 460h1v1h-1zM668 460h1v1h-1zM669 461h1v1h-1zM670 461h1v1h-1zM671 462h1v1h-1zM672 462h1v1h-1zM673 463h1v1h-1zM674 463h1v1h-1zM675 464h1v1h-1zM676 464h1v1h-1zM677 465h1v1h-1zM678 465h1v1h-1zM679 466h1v1h-1zM680 466h1v1h-1zM681 467h1v1h-1zM682 467h1v1h-1zM683 467h1v1h-1zM684 468h1v1h-1zM685 468h1v1h-1zM686 468h1v1h-1zM687 467h1v1h-1zM688 467h1v1h-1zM689 466h1v1h-1zM690 466h1v1h-1zM691 465h1v1h-1zM692 464h1v1h-1zM693 464h1v1h-1zM694 463h1v1h-1zM695 462h1v1h-1zM696 462h1v1h-1zM697 461h1v1h-1zM698 461h1v1h-1zM699 460h1v1h-1zM700 459h1v1h-1zM701 458h1v1h-1zM702 457h1v1h-1zM703 457h1v1h-1zM704 456h1v1h-1zM705 456h1v1h-1zM706 456h1v1h-1zM707 456h1v1h-1zM708 455h1v1h-1zM709 455h1v1h-1zM710 455h1v1h-1zM711 455h1v1h-1zM712 454h1v1h-1zM713 454h1v1h-1zM714 454h1v1h-1zM715 454h1v1h-1zM716 454h1v1h-1zM717 454h1v1h-1zM718 454h1v1h-1zM719 454h1v1h-1zM720 453h1v1h-1zM721 453h1v1h-1zM722 453h1v1h-1zM723 453h1v1h-1zM724 454h1v1h-1zM725 454h1v1h-1zM726 454h1v1h-1zM727 454h1v1h-1zM728 455h1v1h-1zM729 455h1v1h-1zM730 455h1v1h-1zM731 455h1v1h-1zM732 455h1v1h-1zM733 455h1v1h-1zM734 455h1v1h-1zM735 455h1v1h-1zM736 456h1v1h-1zM737 456h1v1h-1zM738 456h1v1h-1zM739 456h1v1h-1zM740 457h1v1h-1zM741 457h1v1h-1zM742 457h1v1h-1zM743 458h1v1h-1zM744 459h1v1h-1zM745 459h1v1h-1zM746 460h1v1h-1zM747 461h1v1h-1zM748 462h1v1h-1zM749 462h1v1h-1zM750 463h1v1h-1zM751 464h1v1h-1zM752 464h1v1h-1zM753 465h1v1h-1zM754 465h1v1h-1zM755 466h1v1h-1zM756 466h1v1h-1zM757 467h1v1h-1zM758 467h1v1h-1zM759 468h1v1h-1zM760 468h1v1h-1zM761 469h1v1h-1zM762 469h1v1h-1zM763 469h1v1h-1zM764 469h1v1h-1zM765 469h1v1h-1zM766 469h1v1h-1zM767 469h1v1h-1zM768 470h1v1h-1zM769 470h1v1h-1zM770 470h1v1h-1zM771 470h1v1h-1zM772 471h1v1h-1zM773 471h1v1h-1zM774 471h1v1h-1zM775 471h1v1h-1zM776 472h1v1h-1zM777 472h1v1h-1zM778 472h1v1h-1zM779 472h1v1h-1zM780 471h1v1h-1zM781 471h1v1h-1zM782 471h1v1h-1zM783 471h1v1h-1zM784 471h1v1h-1zM785 471h1v1h-1zM786 471h1v1h-1zM787 471h1v1h-1zM788 471h1v1h-1zM789 471h1v1h-1zM790 471h1v1h-1zM791 471h1v1h-1zM792 472h1v1h-1zM793 472h1v1h-1zM794 472h1v1h-1zM795 472h1v1h-1zM796 472h1v1h-1zM797 472h1v1h-1zM798 472h1v1h-1zM799 471h1v1h-1zM800 470h1v1h-1zM801 470h1v1h-1zM802 469h1v1h-1zM803 468h1v1h-1zM804 468h1v1h-1zM805 467h1v1h-1zM806 467h1v1h-1zM807 466h1v1h-1zM808 466h1v1h-1zM809 465h1v1h-1zM810 465h1v1h-1zM811 464h1v1h-1zM812 463h1v1h-1zM813 463h1v1h-1zM814 462h1v1h-1zM815 461h1v1h-1zM816 460h1v1h-1zM817 459h1v1h-1zM818 458h1v1h-1zM819 457h1v1h-1zM820 456h1v1h-1zM821 456h1v1h-1zM822 455h1v1h-1zM823 454h1v1h-1zM824 454h1v1h-1zM825 453h1v1h-1zM826 453h1v1h-1zM827 453h1v1h-1zM828 452h1v1h-1zM829 452h1v1h-1zM830 452h1v1h-1zM831 452h1v1h-1zM832 452h1v1h-1zM833 452h1v1h-1zM834 452h1v1h-1zM835 452h1v1h-1zM836 451h1v1h-1zM837 451h1v1h-1zM838 451h1v1h-1zM839 451h1v1h-1zM840 450h1v1h-1zM841 450h1v1h-1zM842 450h1v1h-1zM843 449h1v1h-1zM844 449h1v1h-1zM845 448h1v1h-1zM846 448h1v1h-1zM847 447h1v1h-1zM848 447h1v1h-1zM849 446h1v1h-1zM850 446h1v1h-1zM851 446h1v1h-1zM852 446h1v1h-1zM853 446h1v1h-1zM854 446h1v1h-1zM855 446h1v1h-1zM856 447h1v1h-1zM857 447h1v1h-1zM858 447h1v1h-1zM859 448h1v1h-1zM860 448h1v1h-1zM861 449h1v1h-1zM862 449h1v1h-1zM863 450h1v1h-1zM864 450h1v1h-1zM865 451h1v1h-1zM866 451h1v1h-1zM867 452h1v1h-1zM868 453h1v1h-1zM869 454h1v1h-1zM870 455h1v1h-1zM871 456h1v1h-1zM872 456h1v1h-1zM873 457h1v1h-1zM874 457h1v1h-1zM875 458h1v1h-1zM876 458h1v1h-1zM877 459h1v1h-1zM878 459h1v1h-1zM879 459h1v1h-1zM880 459h1v1h-1zM881 459h1v1h-1zM882 459h1v1h-1zM883 459h1v1h-1zM884 460h1v1h-1zM885 460h1v1h-1zM886 460h1v1h-1zM887 460h1v1h-1zM888 461h1v1h-1zM889 461h1v1h-1zM890 461h1v1h-1zM891 462h1v1h-1zM892 462h1v1h-1zM893 463h1v1h-1zM894 463h1v1h-1zM895 464h1v1h-1zM896 465h1v1h-1zM897 465h1v1h-1zM898 466h1v1h-1zM899 467h1v1h-1zM900 468h1v1h-1zM901 468h1v1h-1zM902 469h1v1h-1zM903 469h1v1h-1zM904 470h1v1h-1zM905 470h1v1h-1zM906 470h1v1h-1zM907 470h1v1h-1zM908 471h1v1h-1zM909 471h1v1h-1zM910 471h1v1h-1zM911 471h1v1h-1zM912 472h1v1h-1zM913 472h1v1h-1zM914 472h1v1h-1zM915 472h1v1h-1zM916 471h1v1h-1zM917 471h1v1h-1zM918 471h1v1h-1zM919 471h1v1h-1zM920 472h1v1h-1zM921 472h1v1h-1zM922 472h1v1h-1zM923 472h1v1h-1zM924 473h1v1h-1zM925 473h1v1h-1zM926 473h1v1h-1zM927 474h1v1h-1zM928 474h1v1h-1zM929 475h1v1h-1zM930 475h1v1h-1zM931 476h1v1h-1zM932 476h1v1h-1zM933 477h1v1h-1zM934 477h1v1h-1zM935 477h1v1h-1zM936 477h1v1h-1zM937 477h1v1h-1zM938 477h1v1h-1zM939 477h1v1h-1zM940 477h1v1h-1zM941 477h1v1h-1zM942 477h1v1h-1zM943 476h1v1h-1zM944 475h1v1h-1zM945 475h1v1h-1zM946 474h1v1h-1zM947 473h1v1h-1zM948 472h1v1h-1zM949 472h1v1h-1zM950 471h1v1h-1zM951 470h1v1h-1zM952 469h1v1h-1zM953 468h1v1h-1zM954 467h1v1h-1zM955 466h1v1h-1zM956 464h1v2h-1zM957 463h1v1h-1zM958 462h1v1h-1zM959 461h1v1h-1zM960 461h1v1h-1zM961 460h1v1h-1zM962 460h1v1h-1zM963 459h1v1h-1zM964 458h1v1h-1zM965 457h1v1h-1zM966 456h1v1h-1zM967 456h1v1h-1zM968 456h1v1h-1zM969 456h1v1h-1zM970 456h1v1h-1zM971 456h1v1h-1zM972 456h1v1h-1zM973 456h1v1h-1zM974 456h1v1h-1zM975 456h1v1h-1zM976 455h1v1h-1zM977 455h1v1h-1zM978 455h1v1h-1zM979 454h1v1h-1zM980 454h1v1h-1zM981 453h1v1h-1zM982 453h1v1h-1zM983 452h1v1h-1zM984 451h1v1h-1zM985 451h1v1h-1zM986 450h1v1h-1zM987 449h1v1h-1zM988 449h1v1h-1zM989 448h1v1h-1zM990 448h1v1h-1zM991 448h1v1h-1zM992 447h1v1h-1zM993 447h1v1h-1zM994 447h1v1h-1zM995 447h1v1h-1zM996 447h1v1h-1zM997 447h1v1h-1zM998 447h1v1h-1zM999 447h1v1h-1zM1000 448h1v1h-1zM1001 448h1v1h-1zM1002 448h1v1h-1zM1003 449h1v1h-1zM1004 449h1v1h-1zM1005 450h1v1h-1zM1006 450h1v1h-1zM1007 450h1v1h-1zM1008 450h1v1h-1zM1009 450h1v1h-1zM1010 450h1v1h-1zM1011 451h1v1h-1zM1012 451h1v1h-1zM1013 452h1v1h-1zM1014 452h1v1h-1zM1015 453h1v1h-1zM1016 453h1v1h-1zM1017 454h1v1h-1zM1018 454h1v1h-1zM1019 454h1v1h-1zM1020 455h1v1h-1zM1021 455h1v1h-1zM1022 455h1v1h-1zM1023 454h1v1h-1zM1024 454h1v1h-1zM1025 453h1v1h-1zM1026 453h1v1h-1zM1027 453h1v1h-1zM1028 452h1v1h-1zM1029 452h1v1h-1zM1030 452h1v1h-1zM1031 452h1v1h-1zM1032 451h1v1h-1zM1033 451h1v1h-1zM1034 451h1v1h-1zM1035 451h1v1h-1zM1036 451h1v1h-1zM1037 451h1v1h-1zM1038 451h1v1h-1zM1039 451h1v1h-1zM1040 452h1v1h-1zM1041 452h1v1h-1zM1042 452h1v1h-1zM1043 452h1v1h-1zM1044 451h1v1h-1zM1045 451h1v1h-1zM1046 451h1v1h-1zM1047 450h1v1h-1zM1048 450h1v1h-1zM1049 449h1v1h-1zM1050 449h1v1h-1zM1051 448h1v1h-1zM1052 448h1v1h-1zM1053 447h1v1h-1zM1054 447h1v1h-1zM1055 446h1v1h-1zM1056 446h1v1h-1zM1057 445h1v1h-1zM1058 445h1v1h-1zM1059 444h1v1h-1zM1060 444h1v1h-1zM1061 443h1v1h-1zM1062 443h1v1h-1zM1063 443h1v1h-1zM1064 443h1v1h-1zM1065 443h1v1h-1zM1066 443h1v1h-1zM1067 443h1v1h-1zM1068 443h1v1h-1zM1069 443h1v1h-1zM1070 443h1v1h-1zM1071 443h1v1h-1zM1072 442h1v1h-1zM1073 442h1v1h-1zM1074 442h1v1h-1zM1075 442h1v1h-1zM1076 443h1v1h-1zM1077 443h1v1h-1zM1078 443h1v1h-1zM1079 444h1v1h-1zM1080 444h1v1h-1zM1081 445h1v1h-1zM1082 445h1v1h-1zM1083 445h1v1h-1zM1084 445h1v1h-1zM1085 445h1v1h-1zM1086 445h1v1h-1zM1087 445h1v1h-1zM1088 444h1v1h-1zM1089 444h1v1h-1zM1090 444h1v1h-1zM1091 443h1v1h-1zM1092 442h1v1h-1zM1093 441h1v1h-1zM1094 440h1v1h-1zM1095 439h1v1h-1zM1096 437h1v2h-1zM1097 436h1v1h-1zM1098 435h1v1h-1zM1099 434h1v1h-1zM1100 433h1v1h-1zM1101 433h1v1h-1zM1102 432h1v1h-1zM1103 431h1v1h-1zM1104 431h1v1h-1zM1105 430h1v1h-1zM1106 430h1v1h-1zM1107 430h1v1h-1zM1108 429h1v1h-1zM1109 429h1v1h-1zM1110 429h1v1h-1zM1111 429h1v1h-1zM1112 428h1v1h-1zM1113 428h1v1h-1zM1114 428h1v1h-1zM1115 427h1v1h-1zM1116 427h1v1h-1zM1117 426h1v1h-1zM1118 426h1v1h-1zM1119 425h1v1h-1zM1120 425h1v1h-1zM1121 424h1v1h-1zM1122 424h1v1h-1zM1123 423h1v1h-1zM1124 422h1v1h-1zM1125 422h1v1h-1zM1126 421h1v1h-1zM1127 420h1v1h-1zM1128 420h1v1h-1zM1129 419h1v1h-1zM1130 419h1v1h-1zM1131 418h1v1h-1zM1132 417h1v1h-1zM1133 416h1v1h-1zM1134 415h1v1h-1zM1135 414h1v1h-1zM1136 412h1v2h-1zM1137 411h1v1h-1zM1138 410h1v1h-1zM1139 409h1v1h-1zM1140 407h1v2h-1zM1141 406h1v1h-1zM1142 405h1v1h-1zM1143 404h1v1h-1zM1144 403h1v1h-1zM1145 403h1v1h-1zM1146 402h1v1h-1zM1147 402h1v1h-1zM1148 401h1v1h-1zM1149 401h1v1h-1zM1150 401h1v1h-1zM1151 401h1v1h-1zM1152 400h1v1h-1zM1153 400h1v1h-1zM1154 400h1v1h-1zM1155 399h1v1h-1zM1156 399h1v1h-1zM1157 398h1v1h-1zM1158 398h1v1h-1zM1159 398h1v1h-1zM1160 397h1v1h-1zM1161 397h1v1h-1zM1162 397h1v1h-1zM1163 397h1v1h-1zM1164 396h1v1h-1zM1165 396h1v1h-1zM1166 396h1v1h-1zM1167 394h1v2h-1zM1168 393h1v1h-1zM1169 391h1v2h-1zM1170 390h1v1h-1zM1171 388h1v2h-1zM1172 386h1v2h-1zM1173 384h1v2h-1zM1174 383h1v1h-1zM1175 381h1v2h-1zM1176 379h1v2h-1zM1177 377h1v2h-1zM1178 376h1v1h-1zM1179 374h1v2h-1zM1180 372h1v2h-1zM1181 370h1v2h-1zM1182 367h1v3h-1zM1183 365h1v2h-1zM1184 362h1v3h-1zM1185 360h1v2h-1zM1186 357h1v3h-1zM1187 355h1v2h-1zM1188 353h1v2h-1zM1189 351h1v2h-1zM1190 348h1v3h-1zM1191 346h1v2h-1zM1192 343h1v3h-1zM1193 341h1v2h-1zM1194 339h1v2h-1zM1195 337h1v2h-1zM1196 335h1v2h-1zM1197 333h1v2h-1zM1198 331h1v2h-1zM1199 329h1v2h-1zM1200 327h1v2h-1zM1201 325h1v2h-1zM1202 322h1v3h-1zM1203 320h1v2h-1zM1204 317h1v3h-1zM1205 315h1v2h-1zM1206 312h1v3h-1zM1207 309h1v3h-1zM1208 307h1v2h-1zM1209 304h1v3h-1zM1210 301h1v3h-1zM1211 298h1v3h-1zM1212 294h1v4h-1zM1213 291h1v3h-1zM1214 288h1v3h-1zM1215 285h1v3h-1zM1216 282h1v3h-1zM1217 279h1v3h-1zM1218 276h1v3h-1zM1219 272h1v4h-1zM1220 269h1v3h-1zM1221 265h1v4h-1zM1222 262h1v3h-1zM1223 259h1v3h-1zM1224 257h1v2h-1zM1225 254h1v3h-1zM1226 252h1v2h-1zM1227 250h1v2h-1zM1228 248h1v2h-1zM1229 246h1v2h-1zM1230 245h1v1h-1zM1231 243h1v2h-1zM1232 242h1v1h-1zM1233 240h1v2h-1zM1234 239h1v1h-1zM1235 238h1v1h-1zM1236 238h1v1h-1zM1237 237h1v1h-1zM1238 237h1v1h-1zM1239 236h1v1h-1zM1240 236h1v1h-1zM1241 235h1v1h-1zM1242 235h1v1h-1zM1243 235h1v1h-1zM1244 234h1v1h-1zM1245 234h1v1h-1zM1246 234h1v1h-1zM1247 233h1v1h-1zM1248 233h1v1h-1zM1249 232h1v1h-1zM1250 232h1v1h-1zM1251 231h1v1h-1zM1252 231h1v1h-1zM1253 230h1v1h-1zM1254 230h1v1h-1zM1255 230h1v1h-1zM1256 230h1v1h-1zM1257 230h1v1h-1zM1258 230h1v1h-1zM1259 230h1v1h-1zM1260 230h1v1h-1zM1261 230h1v1h-1zM1262 230h1v1h-1zM1263 231h1v1h-1zM1264 232h1v2h-1zM1265 234h1v1h-1zM1266 235h1v1h-1zM1267 236h1v2h-1zM1268 238h1v1h-1zM1269 239h1v2h-1zM1270 241h1v1h-1zM1271 242h1v1h-1zM1272 243h1v2h-1zM1273 245h1v1h-1zM1274 246h1v1h-1zM1275 247h1v2h-1zM1276 249h1v1h-1zM1277 250h1v2h-1z"/><path fill="#ffa500" d="M2 102h1v1h-1zM3 102h1v1h-1zM4 102h1v1h-1zM5 102h1v1h-1zM6 102h1v1h-1zM7 103h1v1h-1zM8 104h1v2h-1zM9 106h1v1h-1zM10 107h1v1h-1zM11 108h1v1h-1zM12 109h1v1h-1zM13 109h1v1h-1zM14 110h1v1h-1zM15 111h1v2h-1zM16 113h1v1h-1zM17 114h1v2h-1zM18 116h1v1h-1zM19 117h1v2h-1zM20 119h1v1h-1zM21 120h1v2h-1zM22 122h1v1h-1zM23 123h1v1h-1zM24 124h1v1h-1zM25 124h1v1h-1zM26 125h1v1h-1zM27 126h1v1h-1zM28 126h1v1h-1zM29 127h1v1h-1zM30 127h1v1h-1zM31 126h1v1h-1zM32 125h1v1h-1zM33 125h1v1h-1zM34 124h1v1h-1zM35 123h1v1h-1zM36 122h1v1h-1zM37 121h1v1h-1zM38 120h1v1h-1zM39 119h1v1h-1zM40 119h1v1h-1zM41 118h1v1h-1zM42 118h1v1h-1zM43 118h1v1h-1zM44 117h1v1h-1zM45 117h1v1h-1zM46 117h1v1h-1zM47 115h1v2h-1zM48 114h1v1h-1zM49 112h1v2h-1zM50 111h1v1h-1zM51 110h1v1h-1zM52 109h1v1h-1zM53 108h1v1h-1zM54 107h1v1h-1zM55 107h1v1h-1zM56 106h1v1h-1zM57 106h1v1h-1zM58 106h1v1h-1zM59 107h1v1h-1zM60 108h1v1h-1zM61 108h1v1h-1zM62 109h1v1h-1zM63 110h1v2h-1zM64 112h1v2h-1zM65 114h1v2h-1zM66 116h1v1h-1zM67 117h1v1h-1zM68 118h1v2h-1zM69 120h1v1h-1zM70 121h1v1h-1zM71 122h1v2h-1zM72 124h1v2h-1zM73 126h1v2h-1zM74 128h1v1h-1zM75 129h1v1h-1zM76 130h1v1h-1zM77 130h1v1h-1zM78 131h1v1h-1zM79 130h1v1h-1zM80 130h1v1h-1zM81 129h1v1h-1zM82 129h1v1h-1zM83 130h1v1h-1zM84 130h1v1h-1zM85 131h1v1h-1zM86 131h1v1h-1zM87 132h1v1h-1zM88 133h1v1h-1zM89 134h1v1h-1zM90 135h1v1h-1zM91 136h1v1h-1zM92 136h1v1h-1zM93 137h1v1h-1zM94 137h1v1h-1zM95 138h1v1h-1zM96 139h1v1h-1zM97 139h1v1h-1zM98 140h1v2h-1zM99 142h1v2h-1zM100 144h1v2h-1zM101 146h1v2h-1zM102 148h1v2h-1zM103 149h1v1h-1zM104 149h1v1h-1zM105 149h1v1h-1zM106 149h1v1h-1zM107 148h1v1h-1zM108 147h1v1h-1zM109 147h1v1h-1zM110 146h1v1h-1zM111 145h1v1h-1zM112 145h1v1h-1zM113 144h1v1h-1zM114 144h1v1h-1zM115 143h1v1h-1zM116 142h1v1h-1zM117 142h1v1h-1zM118 141h1v1h-1zM119 140h1v1h-1zM120 138h1v2h-1zM121 137h1v1h-1zM122 136h1v1h-1zM123 136h1v1h-1zM124 137h1v1h-1zM125 137h1v1h-1zM126 137h1v1h-1zM127 138h1v1h-1zM128 139h1v1h-1zM129 139h1v1h-1zM130 140h1v1h-1zM131 141h1v1h-1zM132 142h1v2h-1zM133 144h1v1h-1zM134 145h1v1h-1zM135 146h1v2h-1zM136 148h1v2h-1zM137 150h1v2h-1zM138 152h1v2h-1zM139 153h1v1h-1zM140 154h1v1h-1zM141 154h1v1h-1zM142 154h1v1h-1zM143 154h1v1h-1zM144 155h1v1h-1zM145 155h1v1h-1zM146 155h1v1h-1zM147 156h1v1h-1zM148 157h1v2h-1zM149 159h1v1h-1zM150 160h1v1h-1zM151 160h1v1h-1zM152 159h1v1h-1zM153 159h1v1h-1zM154 159h1v1h-1zM155 158h1v1h-1zM156 156h1v2h-1zM157 155h1v1h-1zM158 154h1v1h-1zM159 154h1v1h-1zM160 153h1v1h-1zM161 153h1v1h-1zM162 153h1v1h-1zM163 153h1v1h-1zM164 152h1v1h-1zM165 152h1v1h-1zM166 152h1v1h-1zM167 151h1v1h-1zM168 151h1v1h-1zM169 150h1v1h-1zM170 150h1v1h-1zM171 150h1v1h-1zM172 149h1v1h-1zM173 149h1v1h-1zM174 149h1v1h-1zM175 150h1v1h-1zM176 150h1v1h-1zM177 151h1v1h-1zM178 151h1v1h-1zM179 149h1v2h-1zM180 147h1v2h-1zM181 145h1v2h-1zM182 142h1v3h-1zM183 138h1v4h-1zM184 135h1v3h-1zM185 131h1v4h-1zM186 127h1v4h-1zM187 123h1v4h-1zM188 119h1v4h-1zM189 115h1v4h-1zM190 111h1v4h-1zM191 108h1v3h-1zM192 105h1v3h-1zM193 102h1v3h-1zM194 99h1v3h-1zM195 96h1v3h-1zM196 94h1v2h-1zM197 91h1v3h-1zM198 89h1v2h-1zM199 87h1v2h-1zM200 85h1v2h-1zM201 83h1v2h-1zM202 81h1v3h-1zM203 84h1v4h-1zM204 88h1v5h-1zM205 93h1v4h-1zM206 97h1v4h-1zM207 101h1v4h-1zM208 105h1v4h-1zM209 109h1v4h-1zM210 113h1v4h-1zM211 117h1v4h-1zM212 121h1v4h-1zM213 125h1v4h-1zM214 129h1v3h-1zM215 132h1v3h-1zM216 135h1v3h-1zM217 138h1v3h-1zM218 141h1v4h-1zM219 145h1v5h-1zM220 150h1v5h-1zM221 155h1v5h-1zM222 160h1v3h-1zM223 161h1v1h-1zM224 160h1v1h-1zM225 159h1v1h-1zM226 158h1v1h-1zM227 158h1v1h-1zM228 159h1v1h-1zM229 159h1v1h-1zM230 159h1v1h-1zM231 159h1v1h-1zM232 158h1v1h-1zM233 158h1v1h-1zM234 158h1v1h-1zM235 159h1v1h-1zM236 160h1v1h-1zM237 160h1v1h-1zM238 161h1v1h-1zM239 162h1v1h-1zM240 162h1v1h-1zM241 163h1v1h-1zM242 163h1v1h-1zM243 164h1v1h-1zM244 165h1v1h-1zM245 166h1v1h-1zM246 167h1v1h-1zM247 167h1v1h-1zM248 166h1v1h-1zM249 166h1v1h-1zM250 166h1v1h-1zM251 166h1v1h-1zM252 167h1v1h-1zM253 167h1v1h-1zM254 167h1v1h-1zM255 168h1v1h-1zM256 168h1v1h-1zM257 169h1v1h-1zM258 169h1v1h-1zM259 170h1v1h-1zM260 171h1v1h-1zM261 172h1v1h-1zM262 173h1v1h-1zM263 174h1v1h-1zM264 174h1v1h-1zM265 175h1v1h-1zM266 175h1v1h-1zM267 176h1v2h-1zM268 178h1v2h-1zM269 180h1v2h-1zM270 182h1v3h-1zM271 185h1v4h-1zM272 189h1v4h-1zM273 193h1v4h-1zM274 197h1v4h-1zM275 201h1v2h-1zM276 203h1v3h-1zM277 206h1v2h-1zM278 208h1v2h-1zM279 210h1v2h-1zM280 212h1v2h-1zM281 214h1v2h-1zM282 216h1v3h-1zM283 219h1v2h-1zM284 221h1v2h-1zM285 223h1v2h-1zM286 225h1v2h-1zM287 227h1v2h-1zM288 229h1v1h-1zM289 230h1v2h-1zM290 232h1v1h-1zM291 231h1v1h-1zM292 230h1v1h-1zM293 230h1v1h-1zM294 229h1v1h-1zM295 229h1v1h-1zM296 229h1v1h-1zM297 229h1v1h-1zM298 229h1v1h-1zM299 229h1v1h-1zM300 229h1v1h-1zM301 229h1v1h-1zM302 229h1v1h-1zM303 229h1v1h-1zM304 230h1v1h-1zM305 230h1v1h-1zM306 230h1v1h-1zM307 230h1v1h-1zM308 229h1v1h-1zM309 229h1v1h-1zM310 229h1v1h-1zM311 229h1v1h-1zM312 229h1v1h-1zM313 229h1v1h-1zM314 229h1v1h-1zM315 229h1v1h-1zM316 228h1v1h-1zM317 228h1v1h-1zM318 228h1v1h-1zM319 228h1v1h-1zM320 229h1v1h-1zM321 229h1v1h-1zM322 229h1v1h-1zM323 230h1v2h-1zM324 232h1v1h-1zM325 233h1v2h-1zM326 235h1v2h-1zM327 237h1v4h-1zM328 241h1v3h-1zM329 244h1v4h-1zM330 248h1v4h-1zM331 252h1v4h-1zM332 256h1v4h-1zM333 260h1v4h-1zM334 264h1v4h-1zM335 268h1v4h-1zM336 272h1v3h-1zM337 275h1v4h-1zM338 279h1v3h-1zM339 282h1v3h-1zM340 285h1v2h-1zM341 287h1v3h-1zM342 290h1v2h-1zM343 292h1v2h-1zM344 294h1v1h-1zM345 295h1v2h-1zM346 297h1v1h-1zM347 298h1v1h-1zM348 298h1v1h-1zM349 299h1v1h-1zM350 299h1v1h-1zM351 300h1v1h-1zM352 300h1v1h-1zM353 301h1v1h-1zM354 301h1v1h-1zM355 302h1v1h-1zM356 303h1v2h-1zM357 305h1v1h-1zM358 306h1v1h-1zM359 307h1v1h-1zM360 308h1v2h-1zM361 310h1v1h-1zM362 311h1v1h-1zM363 312h1v1h-1zM364 313h1v1h-1zM365 314h1v1h-1zM366 315h1v1h-1zM367 316h1v1h-1zM368 317h1v1h-1zM369 317h1v1h-1zM370 318h1v1h-1zM371 317h1v1h-1zM372 317h1v1h-1zM373 316h1v1h-1zM374 316h1v1h-1zM375 315h1v1h-1zM376 315h1v1h-1zM377 314h1v1h-1zM378 314h1v1h-1zM379 313h1v1h-1zM380 313h1v1h-1zM381 312h1v1h-1zM382 312h1v1h-1zM383 311h1v1h-1zM384 310h1v1h-1zM385 309h1v1h-1zM386 308h1v1h-1zM387 307h1v1h-1zM388 306h1v1h-1zM389 306h1v1h-1zM390 305h1v1h-1zM391 306h1v1h-1zM392 307h1v1h-1zM393 307h1v1h-1zM394 308h1v1h-1zM395 308h1v1h-1zM396 309h1v1h-1zM397 309h1v1h-1zM398 309h1v1h-1zM399 310h1v1h-1zM400 311h1v1h-1zM401 311h1v1h-1zM402 312h1v1h-1zM403 313h1v1h-1zM404 313h1v1h-1zM405 314h1v1h-1zM406 314h1v1h-1zM407 314h1v1h-1zM408 314h1v1h-1zM409 314h1v1h-1zM410 314h1v1h-1zM411 312h1v2h-1zM412 311h1v1h-1zM413 309h1v2h-1zM414 308h1v1h-1zM415 306h1v2h-1zM416 304h1v2h-1zM417 302h1v2h-1zM418 301h1v1h-1zM419 299h1v2h-1zM420 298h1v1h-1zM421 296h1v2h-1zM422 295h1v1h-1zM423 295h1v1h-1zM424 294h1v1h-1zM425 294h1v1h-1zM426 294h1v1h-1zM427 294h1v1h-1zM428 294h1v1h-1zM429 294h1v1h-1zM430 294h1v1h-1zM431 295h1v1h-1zM432 296h1v1h-1zM433 297h1v1h-1zM434 298h1v1h-1zM435 299h1v1h-1zM436 300h1v2h-1zM437 302h1v1h-1zM438 303h1v1h-1zM439 304h1v2h-1zM440 306h1v1h-1zM441 307h1v2h-1zM442 309h1v1h-1zM443 310h1v2h-1zM444 312h1v1h-1zM445 313h1v2h-1zM446 315h1v1h-1zM447 316h1v1h-1zM448 316h1v1h-1zM449 317h1v1h-1zM450 317h1v1h-1zM451 318h1v1h-1zM452 319h1v2h-1zM453 321h1v1h-1zM454 322h1v1h-1zM455 323h1v1h-1zM456 324h1v1h-1zM457 324h1v1h-1zM458 325h1v1h-1zM459 326h1v1h-1zM460 327h1v1h-1zM461 328h1v1h-1zM462 329h1v1h-1zM463 330h1v2h-1zM464 332h1v2h-1zM465 334h1v2h-1zM466 336h1v3h-1zM467 339h1v3h-1zM468 342h1v2h-1zM469 344h1v3h-1zM470 347h1v3h-1zM471 350h1v4h-1zM472 354h1v3h-1zM473 357h1v4h-1zM474 361h1v3h-1zM475 364h1v4h-1zM476 368h1v4h-1zM477 372h1v4h-1zM478 376h1v4h-1zM479 380h1v3h-1zM480 383h1v2h-1zM481 385h1v3h-1zM482 388h1v2h-1zM483 390h1v1h-1zM484 391h1v1h-1zM485 392h1v1h-1zM486 393h1v1h-1zM487 394h1v1h-1zM488 395h1v2h-1zM489 397h1v1h-1zM490 398h1v1h-1zM491 399h1v1h-1zM492 400h1v1h-1zM493 400h1v1h-1zM494 401h1v1h-1zM495 402h1v1h-1zM496 402h1v1h-1zM497 403h1v1h-1zM498 403h1v1h-1zM499 404h1v1h-1zM500 405h1v2h-1zM501 407h1v1h-1zM502 408h1v2h-1zM503 410h1v3h-1zM504 413h1v3h-1zM505 416h1v3h-1zM506 419h1v2h-1zM507 421h1v2h-1zM508 423h1v1h-1zM509 424h1v2h-1zM510 426h1v1h-1zM511 427h1v2h-1zM512 429h1v2h-1zM513 431h1v2h-1zM514 433h1v1h-1zM515 434h1v2h-1zM516 436h1v2h-1zM517 438h1v2h-1zM518 440h1v1h-1zM519 441h1v2h-1zM520 443h1v1h-1zM521 444h1v2h-1zM522 446h1v1h-1zM523 446h1v1h-1zM524 445h1v1h-1zM525 445h1v1h-1zM526 445h1v1h-1zM527 446h1v1h-1zM528 447h1v1h-1zM529 448h1v1h-1zM530 449h1v1h-1zM531 448h1v1h-1zM532 448h1v1h-1zM533 447h1v1h-1zM534 447h1v1h-1zM535 447h1v1h-1zM536 448h1v1h-1zM537 448h1v1h-1zM538 448h1v1h-1zM539 448h1v1h-1zM540 447h1v1h-1zM541 447h1v1h-1zM542 447h1v1h-1zM543 447h1v1h-1zM544 448h1v1h-1zM545 448h1v1h-1zM546 448h1v1h-1zM547 447h1v1h-1zM548 446h1v1h-1zM549 446h1v1h-1zM550 445h1v1h-1zM551 444h1v1h-1zM552 444h1v1h-1zM553 443h1v1h-1zM554 443h1v1h-1zM555 443h1v1h-1zM556 442h1v1h-1zM557 442h1v1h-1zM558 442h1v1h-1zM559 443h1v1h-1zM560 444h1v1h-1zM561 445h1v1h-1zM562 446h1v1h-1zM563 446h1v1h-1zM564 445h1v1h-1zM565 445h1v1h-1zM566 445h1v1h-1zM567 444h1v1h-1zM568 443h1v1h-1zM569 443h1v1h-1zM570 442h1v1h-1zM571 443h1v1h-1zM572 443h1v1h-1zM573 444h1v1h-1zM574 444h1v1h-1zM575 442h1v2h-1zM576 440h1v2h-1zM577 438h1v2h-1zM578 436h1v2h-1zM579 434h1v2h-1zM580 432h1v2h-1zM581 430h1v2h-1zM582 428h1v2h-1zM583 427h1v1h-1zM584 426h1v1h-1zM585 426h1v1h-1zM586 425h1v1h-1zM587 424h1v1h-1zM588 423h1v1h-1zM589 423h1v1h-1zM590 422h1v1h-1zM591 420h1v2h-1zM592 418h1v2h-1zM593 416h1v2h-1zM594 414h1v2h-1zM595 413h1v1h-1zM596 411h1v2h-1zM597 410h1v1h-1zM598 409h1v1h-1zM599 408h1v1h-1zM600 407h1v1h-1zM601 406h1v1h-1zM602 405h1v1h-1zM603 404h1v1h-1zM604 404h1v1h-1zM605 403h1v1h-1zM606 403h1v1h-1zM607 404h1v2h-1zM608 406h1v2h-1zM609 408h1v2h-1zM610 410h1v1h-1zM611 411h1v2h-1zM612 413h1v2h-1zM613 415h1v2h-1zM614 417h1v1h-1zM615 418h1v2h-1zM616 420h1v2h-1zM617 422h1v2h-1zM618 424h1v2h-1zM619 426h1v2h-1zM620 428h1v1h-1zM621 429h1v2h-1zM622 431h1v1h-1zM623 432h1v1h-1zM624 433h1v2h-1zM625 435h1v1h-1zM626 436h1v1h-1zM627 435h1v1h-1zM628 434h1v1h-1zM629 434h1v1h-1zM630 433h1v1h-1zM631 434h1v2h-1zM632 436h1v1h-1zM633 437h1v2h-1zM634 439h1v1h-1zM635 440h1v1h-1zM636 441h1v2h-1zM637 443h1v1h-1zM638 444h1v1h-1zM639 445h1v2h-1zM640 447h1v2h-1zM641 449h1v2h-1zM642 451h1v3h-1zM643 454h1v2h-1zM644 456h1v2h-1zM645 458h1v2h-1zM646 460h1v3h-1zM647 463h1v2h-1zM648 465h1v2h-1zM649 467h1v2h-1zM650 469h1v2h-1zM651 471h1v2h-1zM652 473h1v1h-1zM653 474h1v2h-1zM654 476h1v1h-1zM655 477h1v1h-1zM656 478h1v1h-1zM657 478h1v1h-1zM658 479h1v1h-1zM659 479h1v1h-1zM660 480h1v1h-1zM661 480h1v1h-1zM662 480h1v1h-1zM663 479h1v1h-1zM664 479h1v1h-1zM665 478h1v1h-1zM666 478h1v1h-1zM667 477h1v1h-1zM668 476h1v1h-1zM669 475h1v1h-1zM670 474h1v1h-1zM671 473h1v1h-1zM672 472h1v1h-1zM673 471h1v1h-1zM674 470h1v1h-1zM675 469h1v1h-1zM676 467h1v2h-1zM677 466h1v1h-1zM678 465h1v1h-1zM679 464h1v1h-1zM680 464h1v1h-1zM681 463h1v1h-1zM682 463h1v1h-1zM683 462h1v1h-1zM684 461h1v1h-1zM685 460h1v1h-1zM686 459h1v1h-1zM687 457h1v2h-1zM688 455h1v2h-1zM689 453h1v2h-1zM690 452h1v1h-1zM691 450h1v2h-1zM692 448h1v2h-1zM693 446h1v2h-1zM694 444h1v2h-1zM695 443h1v1h-1zM696 442h1v1h-1zM697 442h1v1h-1zM698 441h1v1h-1zM699 439h1v2h-1zM700 437h1v2h-1zM701 435h1v2h-1zM702 433h1v2h-1zM703 434h1v1h-1zM704 434h1v1h-1zM705 435h1v1h-1zM706 435h1v2h-1zM707 437h1v2h-1zM708 439h1v3h-1zM709 442h1v2h-1zM710 444h1v3h-1zM711 447h1v2h-1zM712 449h1v2h-1zM713 451h1v2h-1zM714 453h1v2h-1zM715 455h1v1h-1zM716 456h1v2h-1zM717 458h1v1h-1zM718 459h1v1h-1zM719 460h1v2h-1zM720 462h1v2h-1zM721 464h1v2h-1zM722 466h1v2h-1zM723 468h1v1h-1zM724 469h1v1h-1zM725 470h1v1h-1zM726 471h1v1h-1zM727 471h1v1h-1zM728 470h1v1h-1zM729 470h1v1h-1zM730 470h1v1h-1zM731 469h1v1h-1zM732 468h1v1h-1zM733 468h1v1h-1zM734 467h1v1h-1zM735 468h1v1h-1zM736 468h1v1h-1zM737 469h1v1h-1zM738 469h1v1h-1zM739 469h1v1h-1zM740 470h1v1h-1zM741 470h1v1h-1zM742 470h1v1h-1zM743 469h1v1h-1zM744 469h1v1h-1zM745 468h1v1h-1zM746 468h1v1h-1zM747 468h1v1h-1zM748 467h1v1h-1zM749 467h1v1h-1zM750 467h1v1h-1zM751 467h1v1h-1zM752 467h1v1h-1zM753 467h1v1h-1zM754 467h1v1h-1zM755 466h1v1h-1zM756 466h1v1h-1zM757 465h1v1h-1zM758 465h1v1h-1zM759 466h1v1h-1zM760 467h1v1h-1zM761 467h1v1h-1zM762 468h1v1h-1zM763 469h1v1h-1zM764 470h1v1h-1zM765 470h1v1h-1zM766 471h1v1h-1zM767 472h1v1h-1zM768 472h1v1h-1zM769 473h1v1h-1zM770 473h1v1h-1zM771 474h1v1h-1zM772 475h1v2h-1zM773 477h1v1h-1zM774 478h1v1h-1zM775 479h1v1h-1zM776 480h1v1h-1zM777 480h1v1h-1zM778 481h1v1h-1zM779 480h1v1h-1zM780 479h1v1h-1zM781 478h1v1h-1zM782 477h1v1h-1zM783 476h1v1h-1zM784 475h1v1h-1zM785 475h1v1h-1zM786 474h1v1h-1zM787 473h1v1h-1zM788 473h1v1h-1zM789 472h1v1h-1zM790 472h1v1h-1zM791 472h1v1h-1zM792 471h1v1h-1zM793 471h1v1h-1zM794 471h1v1h-1zM795 470h1v1h-1zM796 469h1v1h-1zM797 469h1v1h-1zM798 468h1v1h-1zM799 467h1v1h-1zM800 465h1v2h-1zM801 464h1v1h-1zM802 463h1v1h-1zM803 461h1v2h-1zM804 459h1v2h-1zM805 457h1v2h-1zM806 456h1v1h-1zM807 454h1v2h-1zM808 452h1v2h-1zM809 450h1v2h-1zM810 448h1v2h-1zM811 445h1v3h-1zM812 442h1v3h-1zM813 439h1v3h-1zM814 437h1v2h-1zM815 435h1v2h-1zM816 434h1v1h-1zM817 432h1v2h-1zM818 431h1v1h-1zM819 431h1v1h-1zM820 431h1v1h-1zM821 431h1v1h-1zM822 431h1v1h-1zM823 432h1v1h-1zM824 433h1v1h-1zM825 434h1v1h-1zM826 435h1v1h-1zM827 436h1v2h-1zM828 438h1v2h-1zM829 440h1v2h-1zM830 442h1v2h-1zM831 444h1v2h-1zM832 446h1v2h-1zM833 448h1v2h-1zM834 450h1v2h-1zM835 452h1v1h-1zM836 453h1v2h-1zM837 455h1v1h-1zM838 456h1v1h-1zM839 457h1v1h-1zM840 458h1v1h-1zM841 458h1v1h-1zM842 459h1v1h-1zM843 459h1v1h-1zM844 458h1v1h-1zM845 458h1v1h-1zM846 458h1v1h-1zM847 457h1v1h-1zM848 456h1v1h-1zM849 456h1v1h-1zM850 455h1v1h-1zM851 454h1v1h-1zM852 453h1v1h-1zM853 453h1v1h-1zM854 452h1v1h-1zM855 452h1v1h-1zM856 453h1v1h-1zM857 453h1v1h-1zM858 453h1v1h-1zM859 454h1v1h-1zM860 454h1v1h-1zM861 455h1v1h-1zM862 455h1v1h-1zM863 456h1v1h-1zM864 457h1v1h-1zM865 457h1v1h-1zM866 458h1v1h-1zM867 459h1v1h-1zM868 459h1v1h-1zM869 460h1v1h-1zM870 460h1v1h-1zM871 460h1v1h-1zM872 461h1v1h-1zM873 461h1v1h-1zM874 461h1v1h-1zM875 462h1v1h-1zM876 462h1v1h-1zM877 463h1v1h-1zM878 463h1v1h-1zM879 463h1v1h-1zM880 463h1v1h-1zM881 463h1v1h-1zM882 463h1v1h-1zM883 464h1v1h-1zM884 465h1v1h-1zM885 466h1v1h-1zM886 467h1v1h-1zM887 468h1v1h-1zM888 468h1v1h-1zM889 469h1v1h-1zM890 469h1v1h-1zM891 470h1v1h-1zM892 471h1v1h-1zM893 472h1v1h-1zM894 473h1v1h-1zM895 474h1v2h-1zM896 476h1v2h-1zM897 478h1v2h-1zM898 480h1v1h-1zM899 481h1v1h-1zM900 482h1v2h-1zM901 484h1v1h-1zM902 485h1v1h-1zM903 484h1v1h-1zM904 483h1v1h-1zM905 483h1v1h-1zM906 482h1v1h-1zM907 482h1v1h-1zM908 481h1v1h-1zM909 481h1v1h-1zM910 481h1v1h-1zM911 480h1v1h-1zM912 479h1v1h-1zM913 479h1v1h-1zM914 478h1v1h-1zM915 476h1v2h-1zM916 474h1v2h-1zM917 472h1v2h-1zM918 470h1v2h-1zM919 469h1v1h-1zM920 467h1v2h-1zM921 466h1v1h-1zM922 465h1v1h-1zM923 466h1v1h-1zM924 467h1v1h-1zM925 467h1v1h-1zM926 468h1v1h-1zM927 469h1v1h-1zM928 470h1v1h-1zM929 471h1v1h-1zM930 472h1v1h-1zM931 473h1v1h-1zM932 474h1v2h-1zM933 476h1v1h-1zM934 477h1v1h-1zM935 478h1v1h-1zM936 479h1v1h-1zM937 480h1v1h-1zM938 481h1v1h-1zM939 481h1v1h-1zM940 481h1v1h-1zM941 481h1v1h-1zM942 481h1v1h-1zM943 479h1v2h-1zM944 477h1v2h-1zM945 475h1v2h-1zM946 472h1v3h-1zM947 469h1v3h-1zM948 466h1v3h-1zM949 463h1v3h-1zM950 460h1v3h-1zM951 458h1v2h-1zM952 456h1v2h-1zM953 454h1v2h-1zM954 451h1v3h-1zM955 449h1v2h-1zM956 446h1v3h-1zM957 444h1v2h-1zM958 441h1v3h-1zM959 439h1v2h-1zM960 437h1v2h-1zM961 435h1v2h-1zM962 433h1v2h-1zM963 432h1v1h-1zM964 432h1v1h-1zM965 431h1v1h-1zM966 431h1v1h-1zM967 432h1v2h-1zM968 434h1v1h-1zM969 435h1v2h-1zM970 437h1v1h-1zM971 438h1v1h-1zM972 438h1v1h-1zM973 439h1v1h-1zM974 439h1v1h-1zM975 440h1v2h-1zM976 442h1v1h-1zM977 443h1v2h-1zM978 445h1v1h-1zM979 446h1v2h-1zM980 448h1v1h-1zM981 449h1v2h-1zM982 451h1v1h-1zM983 452h1v1h-1zM984 453h1v1h-1zM985 454h1v1h-1zM986 455h1v1h-1zM987 455h1v1h-1zM988 454h1v1h-1zM989 454h1v1h-1zM990 454h1v1h-1zM991 455h1v1h-1zM992 455h1v1h-1zM993 456h1v1h-1zM994 456h1v1h-1zM995 456h1v1h-1zM996 457h1v1h-1zM997 457h1v1h-1zM998 457h1v1h-1zM999 458h1v1h-1zM1000 458h1v1h-1zM1001 459h1v1h-1zM1002 459h1v1h-1zM1003 459h1v1h-1zM1004 460h1v1h-1zM1005 460h1v1h-1zM1006 460h1v1h-1zM1007 460h1v1h-1zM1008 459h1v1h-1zM1009 459h1v1h-1zM1010 459h1v1h-1zM1011 459h1v1h-1zM1012 458h1v1h-1zM1013 458h1v1h-1zM1014 458h1v1h-1zM1015 457h1v1h-1zM1016 456h1v1h-1zM1017 455h1v1h-1zM1018 454h1v1h-1zM1019 453h1v1h-1zM1020 452h1v1h-1zM1021 451h1v1h-1zM1022 450h1v1h-1zM1023 449h1v1h-1zM1024 448h1v1h-1zM1025 447h1v1h-1zM1026 446h1v1h-1zM1027 445h1v1h-1zM1028 445h1v1h-1zM1029 444h1v1h-1zM1030 444h1v1h-1zM1031 443h1v1h-1zM1032 442h1v1h-1zM1033 442h1v1h-1zM1034 441h1v1h-1zM1035 441h1v1h-1zM1036 441h1v1h-1zM1037 441h1v1h-1zM1038 441h1v1h-1zM1039 442h1v2h-1zM1040 444h1v1h-1zM1041 445h1v2h-1zM1042 447h1v1h-1zM1043 448h1v1h-1zM1044 448h1v1h-1zM1045 449h1v1h-1zM1046 449h1v1h-1zM1047 449h1v1h-1zM1048 448h1v1h-1zM1049 448h1v1h-1zM1050 448h1v1h-1zM1051 447h1v1h-1zM1052 447h1v1h-1zM1053 446h1v1h-1zM1054 446h1v1h-1zM1055 445h1v1h-1zM1056 444h1v1h-1zM1057 443h1v1h-1zM1058 442h1v1h-1zM1059 440h1v2h-1zM1060 438h1v2h-1zM1061 436h1v2h-1zM1062 435h1v1h-1zM1063 435h1v1h-1zM1064 436h1v1h-1zM1065 436h1v1h-1zM1066 436h1v1h-1zM1067 437h1v1h-1zM1068 438h1v1h-1zM1069 438h1v1h-1zM1070 439h1v1h-1zM1071 440h1v1h-1zM1072 441h1v1h-1zM1073 441h1v1h-1zM1074 442h1v1h-1zM1075 443h1v1h-1zM1076 444h1v1h-1zM1077 445h1v1h-1zM1078 446h1v1h-1zM1079 447h1v1h-1zM1080 448h1v1h-1zM1081 449h1v1h-1zM1082 450h1v1h-1zM1083 450h1v1h-1zM1084 449h1v1h-1zM1085 449h1v1h-1zM1086 449h1v1h-1zM1087 448h1v1h-1zM1088 446h1v2h-1zM1089 445h1v1h-1zM1090 443h1v2h-1zM1091 441h1v2h-1zM1092 439h1v2h-1zM1093 437h1v2h-1zM1094 434h1v3h-1zM1095 431h1v3h-1zM1096 429h1v2h-1zM1097 426h1v3h-1zM1098 423h1v3h-1zM1099 421h1v2h-1zM1100 419h1v2h-1zM1101 417h1v2h-1zM1102 415h1v2h-1zM1103 413h1v2h-1zM1104 411h1v2h-1zM1105 409h1v2h-1zM1106 407h1v2h-1zM1107 406h1v1h-1zM1108 405h1v1h-1zM1109 404h1v1h-1zM1110 403h1v1h-1zM1111 404h1v1h-1zM1112 405h1v1h-1zM1113 406h1v1h-1zM1114 407h1v1h-1zM1115 408h1v1h-1zM1116 409h1v2h-1zM1117 411h1v1h-1zM1118 412h1v1h-1zM1119 412h1v1h-1zM1120 413h1v1h-1zM1121 413h1v1h-1zM1122 413h1v1h-1zM1123 413h1v1h-1zM1124 413h1v1h-1zM1125 413h1v1h-1zM1126 413h1v1h-1zM1127 414h1v1h-1zM1128 415h1v1h-1zM1129 415h1v1h-1zM1130 416h1v1h-1zM1131 414h1v2h-1zM1132 413h1v1h-1zM1133 411h1v2h-1zM1134 410h1v1h-1zM1135 408h1v2h-1zM1136 407h1v1h-1zM1137 405h1v2h-1zM1138 403h1v2h-1zM1139 401h1v2h-1zM1140 399h1v2h-1zM1141 397h1v2h-1zM1142 395h1v2h-1zM1143 394h1v1h-1zM1144 392h1v2h-1zM1145 391h1v1h-1zM1146 390h1v1h-1zM1147 388h1v2h-1zM1148 386h1v2h-1zM1149 384h1v2h-1zM1150 383h1v1h-1zM1151 383h1v1h-1zM1152 383h1v1h-1zM1153 383h1v1h-1zM1154 383h1v1h-1zM1155 382h1v1h-1zM1156 382h1v1h-1zM1157 381h1v1h-1zM1158 381h1v1h-1zM1159 382h1v1h-1zM1160 383h1v1h-1zM1161 384h1v1h-1zM1162 385h1v1h-1zM1163 386h1v1h-1zM1164 386h1v1h-1zM1165 387h1v1h-1zM1166 386h1v2h-1zM1167 384h1v2h-1zM1168 381h1v3h-1zM1169 379h1v2h-1zM1170 376h1v3h-1zM1171 372h1v4h-1zM1172 368h1v4h-1zM1173 364h1v4h-1zM1174 361h1v3h-1zM1175 358h1v3h-1zM1176 356h1v2h-1zM1177 353h1v3h-1zM1178 349h1v4h-1zM1179 344h1v5h-1zM1180 339h1v5h-1zM1181 334h1v5h-1zM1182 329h1v5h-1zM1183 323h1v6h-1zM1184 317h1v6h-1zM1185 311h1v6h-1zM1186 307h1v4h-1zM1187 303h1v4h-1zM1188 300h1v3h-1zM1189 296h1v4h-1zM1190 293h1v3h-1zM1191 290h1v3h-1zM1192 288h1v2h-1zM1193 285h1v3h-1zM1194 282h1v3h-1zM1195 279h1v3h-1zM1196 277h1v2h-1zM1197 274h1v3h-1zM1198 272h1v2h-1zM1199 270h1v2h-1zM1200 268h1v2h-1zM1201 266h1v2h-1zM1202 264h1v2h-1zM1203 262h1v2h-1zM1204 261h1v1h-1zM1205 259h1v2h-1zM1206 258h1v1h-1zM1207 256h1v2h-1zM1208 255h1v1h-1zM1209 253h1v2h-1zM1210 251h1v2h-1zM1211 248h1v3h-1zM1212 246h1v2h-1zM1213 243h1v3h-1zM1214 240h1v3h-1zM1215 237h1v3h-1zM1216 235h1v2h-1zM1217 232h1v3h-1zM1218 229h1v3h-1zM1219 227h1v2h-1zM1220 224h1v3h-1zM1221 222h1v2h-1zM1222 219h1v3h-1zM1223 216h1v3h-1zM1224 212h1v4h-1zM1225 209h1v3h-1zM1226 207h1v2h-1zM1227 206h1v1h-1zM1228 205h1v1h-1zM1229 204h1v1h-1zM1230 203h1v1h-1zM1231 204h1v2h-1zM1232 206h1v2h-1zM1233 208h1v2h-1zM1234 210h1v1h-1zM1235 211h1v2h-1zM1236 213h1v2h-1zM1237 215h1v2h-1zM1238 217h1v3h-1zM1239 220h1v3h-1zM1240 223h1v3h-1zM1241 226h1v3h-1zM1242 229h1v3h-1zM1243 232h1v3h-1zM1244 235h1v3h-1zM1245 238h1v3h-1zM1246 241h1v2h-1zM1247 243h1v2h-1zM1248 245h1v1h-1zM1249 246h1v2h-1zM1250 248h1v1h-1zM1251 248h1v1h-1zM1252 247h1v1h-1zM1253 247h1v1h-1zM1254 247h1v1h-1zM1255 247h1v1h-1zM1256 246h1v1h-1zM1257 246h1v1h-1zM1258 246h1v1h-1zM1259 246h1v1h-1zM1260 245h1v1h-1zM1261 245h1v1h-1zM1262 245h1v2h-1zM1263 247h1v2h-1zM1264 249h1v3h-1zM1265 252h1v2h-1zM1266 254h1v3h-1zM1267 257h1v2h-1zM1268 259h1v3h-1zM1269 262h1v2h-1zM1270 264h1v3h-1zM1271 267h1v2h-1zM1272 269h1v2h-1zM1273 271h1v2h-1zM1274 273h1v2h-1zM1275 275h1v2h-1zM1276 277h1v2h-1zM1277 279h1v2h-1z"/></g>
<g id="hl"><rect x="2" y="155" width="1608" height="2" fill="#ff0000"/><rect x="1" y="153" width="6" height="6" fill="#ff0000"/><rect x="3" y="155" width="2" height="2" fill="#fff"/><rect x="1604" y="153" width="6" height="6" fill="#ff0000"/><rect x="1606" y="155" width="2" height="2" fill="#fff"/><rect x="2" y="228" width="1608" height="2" fill="#ff0000"/><rect x="1" y="226" width="6" height="6" fill="#ff0000"/><rect x="3" y="228" width="2" height="2" fill="#fff"/><rect x="1604" y="226" width="6" height="6" fill="#ff0000"/><rect x="1606" y="228" width="2" height="2" fill="#fff"/><rect x="2" y="321" width="1608" height="2" fill="#00ff00"/><rect x="1" y="319" width="6" height="6" fill="#00ff00"/><rect x="3" y="321" width="2" height="2" fill="#fff"/><rect x="1604" y="319" width="6" height="6" fill="#00ff00"/><rect x="1606" y="321" width="2" height="2" fill="#fff"/><rect x="2" y="392" width="1608" height="2" fill="#0000cd"/><rect x="1" y="390" width="6" height="6" fill="#0000cd"/><rect x="3" y="392" width="2" height="2" fill="#fff"/><rect x="1604" y="390" width="6" height="6" fill="#0000cd"/><rect x="1606" y="392" width="2" height="2" fill="#fff"/><rect x="2" y="480" width="1608" height="2" fill="#0000ff"/><rect x="1" y="478" width="6" height="6" fill="#0000ff"/><rect x="3" y="480" width="2" height="2" fill="#fff"/><rect x="1604" y="478" width="6" height="6" fill="#0000ff"/><rect x="1606" y="480" width="2" height="2" fill="#fff"/></g>
<g id="head"><path d="M5,33 L12,33 L8.5,37 Z" fill="#000" shape-rendering="auto"/><text transform="translate(16.98,38) scale(0.9538,1.0)" font-size="10.2" fill="#000" stroke="#000" stroke-width="0.12" text-rendering="geometricPrecision">USDCAD,H4</text><text transform="translate(79.23,38) scale(0.8870,1.0)" font-size="10.2" fill="#000" stroke="#000" stroke-width="0.12" text-rendering="geometricPrecision">1.23245</text><text transform="translate(115.23,38) scale(0.8870,1.0)" font-size="10.2" fill="#000" stroke="#000" stroke-width="0.12" text-rendering="geometricPrecision">1.23263</text><text transform="translate(151.23,38) scale(0.8870,1.0)" font-size="10.2" fill="#000" stroke="#000" stroke-width="0.12" text-rendering="geometricPrecision">1.23245</text><text transform="translate(187.23,38) scale(0.8870,1.0)" font-size="10.2" fill="#000" stroke="#000" stroke-width="0.12" text-rendering="geometricPrecision">1.23261</text></g>
<g id="labels"><rect x="1612" y="150" width="40" height="11" fill="#ff0000"/><text transform="translate(1616.03,159) scale(0.8898,1.0)" font-size="10.2" fill="#fff" stroke="#fff" stroke-width="0.12" text-rendering="geometricPrecision">1.25036</text><rect x="1612" y="223" width="40" height="11" fill="#ff0000"/><text transform="translate(1616.03,232) scale(0.8898,1.0)" font-size="10.2" fill="#fff" stroke="#fff" stroke-width="0.12" text-rendering="geometricPrecision">1.24013</text><rect x="1612" y="316" width="40" height="11" fill="#00ff00"/><text transform="translate(1616.03,325) scale(0.8867,1.0)" font-size="10.2" fill="#fff" stroke="#fff" stroke-width="0.12" text-rendering="geometricPrecision">1.22704</text><rect x="1612" y="387" width="40" height="11" fill="#0000cd"/><text transform="translate(1616.03,396) scale(0.8867,1.0)" font-size="10.2" fill="#fff" stroke="#fff" stroke-width="0.12" text-rendering="geometricPrecision">1.21704</text><rect x="1612" y="475" width="40" height="11" fill="#0000ff"/><text transform="translate(1616.03,484) scale(0.8898,1.0)" font-size="10.2" fill="#fff" stroke="#fff" stroke-width="0.12" text-rendering="geometricPrecision">1.20456</text><rect x="1612" y="277" width="40" height="11" fill="#000"/><text transform="translate(1616.03,286) scale(0.8898,1.0)" font-size="10.2" fill="#fff" stroke="#fff" stroke-width="0.12" text-rendering="geometricPrecision">1.23261</text></g>
<g id="time"><rect x="2" y="708" width="1" height="3" fill="#000"/><text transform="translate(0.54,720) scale(0.9260,1.0)" font-size="10.2" fill="#000" stroke="#000" stroke-width="0.12" text-rendering="geometricPrecision">9 Apr 2021</text><rect x="66" y="708" width="1" height="3" fill="#000"/><text transform="translate(64.61,720) scale(0.9260,1.0)" font-size="10.2" fill="#000" stroke="#000" stroke-width="0.12" text-rendering="geometricPrecision">14 Apr 00:00</text><rect x="130" y="708" width="1" height="3" fill="#000"/><text transform="translate(128.61,720) scale(0.9260,1.0)" font-size="10.2" fill="#000" stroke="#000" stroke-width="0.12" text-rendering="geometricPrecision">16 Apr 18:00</text><rect x="194" y="708" width="1" height="3" fill="#000"/><text transform="translate(192.84,720) scale(0.9260,1.0)" font-size="10.2" fill="#000" stroke="#000" stroke-width="0.12" text-rendering="geometricPrecision">21 Apr 10:00</text><rect x="258" y="708" width="1" height="3" fill="#000"/><text transform="translate(256.84,720) scale(0.9260,1.0)" font-size="10.2" fill="#000" stroke="#000" stroke-width="0.12" text-rendering="geometricPrecision">24 Apr 00:00</text><rect x="322" y="708" width="1" height="3" fill="#000"/><text transform="translate(320.84,720) scale(0.9260,1.0)" font-size="10.2" fill="#000" stroke="#000" stroke-width="0.12" text-rendering="geometricPrecision">28 Apr 18:00</text><rect x="386" y="708" width="1" height="3" fill="#000"/><text transform="translate(384.95,720) scale(0.9260,1.0)" font-size="10.2" fill="#000" stroke="#000" stroke-width="0.12" text-rendering="geometricPrecision">3 May 11:00</text><rect x="450" y="708" width="1" height="3" fill="#000"/><text transform="translate(448.84,720) scale(0.9260,1.0)" font-size="10.2" fill="#000" stroke="#000" stroke-width="0.12" text-rendering="geometricPrecision">6 May 00:00</text><rect x="514" y="708" width="1" height="3" fill="#000"/><text transform="translate(512.61,720) scale(0.9260,1.0)" font-size="10.2" fill="#000" stroke="#000" stroke-width="0.12" text-rendering="geometricPrecision">10 May 19:00</text><rect x="578" y="708" width="1" height="3" fill="#000"/><text transform="translate(576.61,720) scale(0.9260,1.0)" font-size="10.2" fill="#000" stroke="#000" stroke-width="0.12" text-rendering="geometricPrecision">13 May 10:00</text><rect x="642" y="708" width="1" height="3" fill="#000"/><text transform="translate(640.61,720) scale(0.9260,1.0)" font-size="10.2" fill="#000" stroke="#000" stroke-width="0.12" text-rendering="geometricPrecision">18 May 00:00</text><rect x="706" y="708" width="1" height="3" fill="#000"/><text transform="translate(704.84,720) scale(0.9260,1.0)" font-size="10.2" fill="#000" stroke="#000" stroke-width="0.12" text-rendering="geometricPrecision">20 May 18:00</text><rect x="770" y="708" width="1" height="3" fill="#000"/><text transform="translate(768.84,720) scale(0.9260,1.0)" font-size="10.2" fill="#000" stroke="#000" stroke-width="0.12" text-rendering="geometricPrecision">25 May 10:00</text><rect x="834" y="708" width="1" height="3" fill="#000"/><text transform="translate(832.84,720) scale(0.9260,1.0)" font-size="10.2" fill="#000" stroke="#000" stroke-width="0.12" text-rendering="geometricPrecision">28 May 00:00</text><rect x="898" y="708" width="1" height="3" fill="#000"/><text transform="translate(896.61,720) scale(0.9260,1.0)" font-size="10.2" fill="#000" stroke="#000" stroke-width="0.12" text-rendering="geometricPrecision">1 Jun 18:00</text><rect x="962" y="708" width="1" height="3" fill="#000"/><text transform="translate(961.07,720) scale(0.9260,1.0)" font-size="10.2" fill="#000" stroke="#000" stroke-width="0.12" text-rendering="geometricPrecision">4 Jun 10:00</text><rect x="1026" y="708" width="1" height="3" fill="#000"/><text transform="translate(1024.84,720) scale(0.9260,1.0)" font-size="10.2" fill="#000" stroke="#000" stroke-width="0.12" text-rendering="geometricPrecision">9 Jun 00:00</text><rect x="1090" y="708" width="1" height="3" fill="#000"/><text transform="translate(1088.61,720) scale(0.9260,1.0)" font-size="10.2" fill="#000" stroke="#000" stroke-width="0.12" text-rendering="geometricPrecision">11 Jun 18:00</text><rect x="1154" y="708" width="1" height="3" fill="#000"/><text transform="translate(1152.61,720) scale(0.9260,1.0)" font-size="10.2" fill="#000" stroke="#000" stroke-width="0.12" text-rendering="geometricPrecision">16 Jun 10:00</text><rect x="1218" y="708" width="1" height="3" fill="#000"/><text transform="translate(1216.61,720) scale(0.9260,1.0)" font-size="10.2" fill="#000" stroke="#000" stroke-width="0.12" text-rendering="geometricPrecision">19 Jun 00:00</text></g>
<g id="tabs"><rect x="0" y="728" width="1652" height="1" fill="#e3e3e3"/><rect x="0" y="730" width="1652" height="1" fill="#000"/><rect x="0" y="731" width="1652" height="19" fill="#f0f0f0"/><rect x="0" y="750" width="1652" height="1" fill="#fdfdfd"/><rect x="0" y="751" width="1652" height="3" fill="#f0f0f0"/><rect x="378" y="731" width="1" height="19" fill="#fdfdfd"/><rect x="380" y="749" width="92" height="1" fill="#c4c4c4"/><rect x="379" y="730" width="92" height="19" fill="#000"/><rect x="380" y="730" width="90" height="18" fill="#fff"/><text transform="translate(12.72,745) scale(1.0042,1.0)" font-size="12" fill="#6d6d6d">USDCHF,H4</text><text transform="translate(100.60,745) scale(1.0264,1.0)" font-size="12" fill="#6d6d6d">USDCNH,Daily</text><text transform="translate(206.41,745) scale(0.9897,1.0)" font-size="12" fill="#6d6d6d">EURUSD,H4</text><text transform="translate(298.40,745) scale(1.0072,1.0)" font-size="12" fill="#6d6d6d">AUDUSD,H4</text><text transform="translate(482.02,745) scale(1.0022,1.0)" font-size="12" fill="#6d6d6d">XAUUSD,H1</text><text transform="translate(572.40,745) scale(1.0289,1.0)" font-size="12" fill="#6d6d6d">USOil,H1</text><text transform="translate(389.62,745) scale(1.0026,1.0)" font-size="12" fill="#000">USDCAD,H4</text><rect x="91" y="733" width="1" height="14" fill="#6d6d6d"/><rect x="195" y="733" width="1" height="14" fill="#6d6d6d"/><rect x="287" y="733" width="1" height="14" fill="#6d6d6d"/><rect x="563" y="733" width="1" height="14" fill="#6d6d6d"/><rect x="635" y="733" width="1" height="14" fill="#6d6d6d"/></g>
</svg>
</body></html>
